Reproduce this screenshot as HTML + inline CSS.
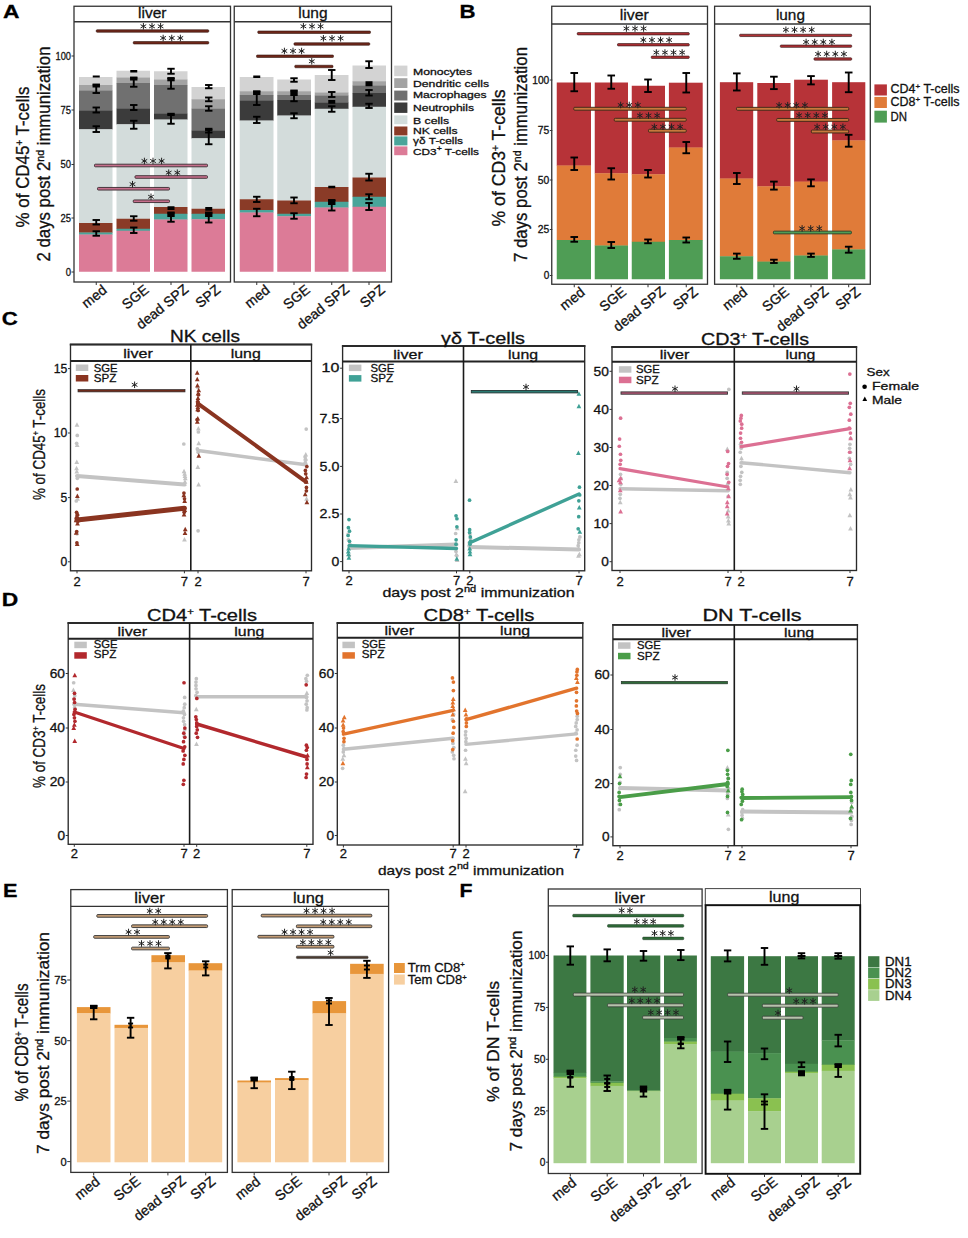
<!DOCTYPE html>
<html><head><meta charset="utf-8"><title>Figure</title>
<style>
html,body{margin:0;padding:0;background:#fff;}
body{width:968px;height:1238px;overflow:hidden;font-family:"Liberation Sans", sans-serif;}
svg{display:block;font-family:"Liberation Sans", sans-serif;}
</style></head><body>
<svg width="968" height="1238" viewBox="0 0 968 1238">
<rect x="0" y="0" width="968" height="1238" fill="#ffffff"/>
<text x="3" y="17.5" font-size="19" textLength="16.5" lengthAdjust="spacingAndGlyphs" font-weight="bold" fill="#000" stroke="#000" stroke-width="0.3">A</text>
<text x="0" y="0" font-size="17.5" text-anchor="middle" transform="translate(29 157) rotate(-90)" textLength="141" lengthAdjust="spacingAndGlyphs" fill="#111" stroke="#111" stroke-width="0.3">% of CD45<tspan dy="-6" font-size="10">+</tspan><tspan dy="6" font-size="1">&#8203;</tspan> T-cells</text>
<text x="0" y="0" font-size="17.5" text-anchor="middle" transform="translate(50 154) rotate(-90)" textLength="215" lengthAdjust="spacingAndGlyphs" fill="#111" stroke="#111" stroke-width="0.3">2 days post 2<tspan dy="-6" font-size="11">nd</tspan><tspan dy="6" font-size="1">&#8203;</tspan> immunization</text>
<rect x="74" y="6.25" width="156.5" height="275.75" fill="#fff" stroke="#333" stroke-width="1.3"/>
<line x1="74" y1="21.75" x2="230.5" y2="21.75" stroke="#333" stroke-width="1.3" stroke-linecap="butt"/>
<text x="152.25" y="18.3" font-size="15.5" text-anchor="middle" fill="#111" stroke="#111" stroke-width="0.3">liver</text>
<rect x="234.25" y="6.25" width="157.25" height="275.75" fill="#fff" stroke="#333" stroke-width="1.3"/>
<line x1="234.25" y1="21.75" x2="391.5" y2="21.75" stroke="#333" stroke-width="1.3" stroke-linecap="butt"/>
<text x="312.88" y="18.3" font-size="15.5" text-anchor="middle" fill="#111" stroke="#111" stroke-width="0.3">lung</text>
<line x1="71.5" y1="56" x2="74" y2="56" stroke="#333" stroke-width="1" stroke-linecap="butt"/>
<text x="71" y="59.96" font-size="11" text-anchor="end" textLength="15.5" lengthAdjust="spacingAndGlyphs" fill="#111" stroke="#111" stroke-width="0.3">100</text>
<line x1="71.5" y1="110" x2="74" y2="110" stroke="#333" stroke-width="1" stroke-linecap="butt"/>
<text x="71" y="113.96" font-size="11" text-anchor="end" textLength="10.5" lengthAdjust="spacingAndGlyphs" fill="#111" stroke="#111" stroke-width="0.3">75</text>
<line x1="71.5" y1="164.5" x2="74" y2="164.5" stroke="#333" stroke-width="1" stroke-linecap="butt"/>
<text x="71" y="168.46" font-size="11" text-anchor="end" textLength="10.5" lengthAdjust="spacingAndGlyphs" fill="#111" stroke="#111" stroke-width="0.3">50</text>
<line x1="71.5" y1="218" x2="74" y2="218" stroke="#333" stroke-width="1" stroke-linecap="butt"/>
<text x="71" y="221.96" font-size="11" text-anchor="end" textLength="10.5" lengthAdjust="spacingAndGlyphs" fill="#111" stroke="#111" stroke-width="0.3">25</text>
<line x1="71.5" y1="272" x2="74" y2="272" stroke="#333" stroke-width="1" stroke-linecap="butt"/>
<text x="71" y="275.96" font-size="11" text-anchor="end" textLength="5.3" lengthAdjust="spacingAndGlyphs" fill="#111" stroke="#111" stroke-width="0.3">0</text>
<rect x="79" y="77" width="33.5" height="8.3" fill="#d3d3d3"/>
<rect x="79" y="85" width="33.5" height="5.8" fill="#a3a3a3"/>
<rect x="79" y="90.5" width="33.5" height="20.55" fill="#707070"/>
<rect x="79" y="110.75" width="33.5" height="18.8" fill="#3b3b3b"/>
<rect x="79" y="129.25" width="33.5" height="94.05" fill="#d3dcdb"/>
<rect x="79" y="223" width="33.5" height="9.8" fill="#8a3b27"/>
<rect x="79" y="232.5" width="33.5" height="2.3" fill="#4aa59a"/>
<rect x="79" y="234.5" width="33.5" height="37.25" fill="#dc7b97"/>
<rect x="116.5" y="70.75" width="33.5" height="7.05" fill="#d3d3d3"/>
<rect x="116.5" y="77.5" width="33.5" height="5.8" fill="#a3a3a3"/>
<rect x="116.5" y="83" width="33.5" height="26.05" fill="#707070"/>
<rect x="116.5" y="108.75" width="33.5" height="15.8" fill="#3b3b3b"/>
<rect x="116.5" y="124.25" width="33.5" height="94.8" fill="#d3dcdb"/>
<rect x="116.5" y="218.75" width="33.5" height="10.3" fill="#8a3b27"/>
<rect x="116.5" y="228.75" width="33.5" height="2.3" fill="#4aa59a"/>
<rect x="116.5" y="230.75" width="33.5" height="41" fill="#dc7b97"/>
<rect x="154" y="71.25" width="33.5" height="8.55" fill="#d3d3d3"/>
<rect x="154" y="79.5" width="33.5" height="5.8" fill="#a3a3a3"/>
<rect x="154" y="85" width="33.5" height="29.05" fill="#707070"/>
<rect x="154" y="113.75" width="33.5" height="6.05" fill="#3b3b3b"/>
<rect x="154" y="119.5" width="33.5" height="87.8" fill="#d3dcdb"/>
<rect x="154" y="207" width="33.5" height="7.05" fill="#8a3b27"/>
<rect x="154" y="213.75" width="33.5" height="6.05" fill="#4aa59a"/>
<rect x="154" y="219.5" width="33.5" height="52.25" fill="#dc7b97"/>
<rect x="191.5" y="87" width="33.5" height="12.55" fill="#d3d3d3"/>
<rect x="191.5" y="99.25" width="33.5" height="9.8" fill="#a3a3a3"/>
<rect x="191.5" y="108.75" width="33.5" height="22.3" fill="#707070"/>
<rect x="191.5" y="130.75" width="33.5" height="7.8" fill="#3b3b3b"/>
<rect x="191.5" y="138.25" width="33.5" height="70.8" fill="#d3dcdb"/>
<rect x="191.5" y="208.75" width="33.5" height="5.3" fill="#8a3b27"/>
<rect x="191.5" y="213.75" width="33.5" height="5.8" fill="#4aa59a"/>
<rect x="191.5" y="219.25" width="33.5" height="52.5" fill="#dc7b97"/>
<rect x="239.75" y="77" width="33.75" height="14.55" fill="#d3d3d3"/>
<rect x="239.75" y="91.25" width="33.75" height="4.05" fill="#a3a3a3"/>
<rect x="239.75" y="95" width="33.75" height="6.05" fill="#707070"/>
<rect x="239.75" y="100.75" width="33.75" height="20.05" fill="#3b3b3b"/>
<rect x="239.75" y="120.5" width="33.75" height="79.05" fill="#d3dcdb"/>
<rect x="239.75" y="199.25" width="33.75" height="11.05" fill="#8a3b27"/>
<rect x="239.75" y="210" width="33.75" height="2.8" fill="#4aa59a"/>
<rect x="239.75" y="212.5" width="33.75" height="59.25" fill="#dc7b97"/>
<rect x="277.25" y="79.5" width="33.75" height="12.05" fill="#d3d3d3"/>
<rect x="277.25" y="91.25" width="33.75" height="4.05" fill="#a3a3a3"/>
<rect x="277.25" y="95" width="33.75" height="5.3" fill="#707070"/>
<rect x="277.25" y="100" width="33.75" height="15.8" fill="#3b3b3b"/>
<rect x="277.25" y="115.5" width="33.75" height="85.3" fill="#d3dcdb"/>
<rect x="277.25" y="200.5" width="33.75" height="13.55" fill="#8a3b27"/>
<rect x="277.25" y="213.75" width="33.75" height="2.8" fill="#4aa59a"/>
<rect x="277.25" y="216.25" width="33.75" height="55.5" fill="#dc7b97"/>
<rect x="314.75" y="75" width="33.75" height="17.8" fill="#d3d3d3"/>
<rect x="314.75" y="92.5" width="33.75" height="3.3" fill="#a3a3a3"/>
<rect x="314.75" y="95.5" width="33.75" height="7.3" fill="#707070"/>
<rect x="314.75" y="102.5" width="33.75" height="6.55" fill="#3b3b3b"/>
<rect x="314.75" y="108.75" width="33.75" height="78.55" fill="#d3dcdb"/>
<rect x="314.75" y="187" width="33.75" height="15.05" fill="#8a3b27"/>
<rect x="314.75" y="201.75" width="33.75" height="6.05" fill="#4aa59a"/>
<rect x="314.75" y="207.5" width="33.75" height="64.25" fill="#dc7b97"/>
<rect x="352.5" y="65.5" width="33.5" height="16.05" fill="#d3d3d3"/>
<rect x="352.5" y="81.25" width="33.5" height="4.55" fill="#a3a3a3"/>
<rect x="352.5" y="85.5" width="33.5" height="7.8" fill="#707070"/>
<rect x="352.5" y="93" width="33.5" height="14.05" fill="#3b3b3b"/>
<rect x="352.5" y="106.75" width="33.5" height="71.05" fill="#d3dcdb"/>
<rect x="352.5" y="177.5" width="33.5" height="19.55" fill="#8a3b27"/>
<rect x="352.5" y="196.75" width="33.5" height="10.3" fill="#4aa59a"/>
<rect x="352.5" y="206.75" width="33.5" height="65" fill="#dc7b97"/>
<rect x="92.75" y="75.5" width="7" height="2" fill="#000"/>
<line x1="96.25" y1="84.5" x2="96.25" y2="93" stroke="#000" stroke-width="1.9" stroke-linecap="butt"/>
<line x1="92.55" y1="84.5" x2="99.95" y2="84.5" stroke="#000" stroke-width="1.9" stroke-linecap="butt"/>
<line x1="92.55" y1="93" x2="99.95" y2="93" stroke="#000" stroke-width="1.9" stroke-linecap="butt"/>
<rect x="92.55" y="84.5" width="7.4" height="3" fill="#000"/>
<line x1="96.25" y1="107.5" x2="96.25" y2="112.5" stroke="#000" stroke-width="1.9" stroke-linecap="butt"/>
<line x1="92.55" y1="107.5" x2="99.95" y2="107.5" stroke="#000" stroke-width="1.9" stroke-linecap="butt"/>
<line x1="92.55" y1="112.5" x2="99.95" y2="112.5" stroke="#000" stroke-width="1.9" stroke-linecap="butt"/>
<line x1="96.25" y1="126.25" x2="96.25" y2="132" stroke="#000" stroke-width="1.9" stroke-linecap="butt"/>
<line x1="92.55" y1="126.25" x2="99.95" y2="126.25" stroke="#000" stroke-width="1.9" stroke-linecap="butt"/>
<line x1="92.55" y1="132" x2="99.95" y2="132" stroke="#000" stroke-width="1.9" stroke-linecap="butt"/>
<line x1="96.25" y1="220" x2="96.25" y2="224.5" stroke="#000" stroke-width="1.9" stroke-linecap="butt"/>
<line x1="92.55" y1="220" x2="99.95" y2="220" stroke="#000" stroke-width="1.9" stroke-linecap="butt"/>
<line x1="92.55" y1="224.5" x2="99.95" y2="224.5" stroke="#000" stroke-width="1.9" stroke-linecap="butt"/>
<line x1="96.25" y1="231.25" x2="96.25" y2="235.75" stroke="#000" stroke-width="1.9" stroke-linecap="butt"/>
<line x1="92.55" y1="231.25" x2="99.95" y2="231.25" stroke="#000" stroke-width="1.9" stroke-linecap="butt"/>
<line x1="92.55" y1="235.75" x2="99.95" y2="235.75" stroke="#000" stroke-width="1.9" stroke-linecap="butt"/>
<rect x="130.25" y="70" width="7" height="2.5" fill="#000"/>
<line x1="133.75" y1="77.5" x2="133.75" y2="86.75" stroke="#000" stroke-width="1.9" stroke-linecap="butt"/>
<line x1="130.05" y1="77.5" x2="137.45" y2="77.5" stroke="#000" stroke-width="1.9" stroke-linecap="butt"/>
<line x1="130.05" y1="86.75" x2="137.45" y2="86.75" stroke="#000" stroke-width="1.9" stroke-linecap="butt"/>
<rect x="130.05" y="77.5" width="7.4" height="3" fill="#000"/>
<line x1="133.75" y1="105" x2="133.75" y2="110" stroke="#000" stroke-width="1.9" stroke-linecap="butt"/>
<line x1="130.05" y1="105" x2="137.45" y2="105" stroke="#000" stroke-width="1.9" stroke-linecap="butt"/>
<line x1="130.05" y1="110" x2="137.45" y2="110" stroke="#000" stroke-width="1.9" stroke-linecap="butt"/>
<line x1="133.75" y1="120.75" x2="133.75" y2="128.75" stroke="#000" stroke-width="1.9" stroke-linecap="butt"/>
<line x1="130.05" y1="120.75" x2="137.45" y2="120.75" stroke="#000" stroke-width="1.9" stroke-linecap="butt"/>
<line x1="130.05" y1="128.75" x2="137.45" y2="128.75" stroke="#000" stroke-width="1.9" stroke-linecap="butt"/>
<line x1="133.75" y1="216.25" x2="133.75" y2="220.75" stroke="#000" stroke-width="1.9" stroke-linecap="butt"/>
<line x1="130.05" y1="216.25" x2="137.45" y2="216.25" stroke="#000" stroke-width="1.9" stroke-linecap="butt"/>
<line x1="130.05" y1="220.75" x2="137.45" y2="220.75" stroke="#000" stroke-width="1.9" stroke-linecap="butt"/>
<line x1="133.75" y1="227.5" x2="133.75" y2="233" stroke="#000" stroke-width="1.9" stroke-linecap="butt"/>
<line x1="130.05" y1="227.5" x2="137.45" y2="227.5" stroke="#000" stroke-width="1.9" stroke-linecap="butt"/>
<line x1="130.05" y1="233" x2="137.45" y2="233" stroke="#000" stroke-width="1.9" stroke-linecap="butt"/>
<line x1="171" y1="68.75" x2="171" y2="73.75" stroke="#000" stroke-width="1.9" stroke-linecap="butt"/>
<line x1="167.3" y1="68.75" x2="174.7" y2="68.75" stroke="#000" stroke-width="1.9" stroke-linecap="butt"/>
<line x1="167.3" y1="73.75" x2="174.7" y2="73.75" stroke="#000" stroke-width="1.9" stroke-linecap="butt"/>
<line x1="171" y1="78" x2="171" y2="88.75" stroke="#000" stroke-width="1.9" stroke-linecap="butt"/>
<line x1="167.3" y1="78" x2="174.7" y2="78" stroke="#000" stroke-width="1.9" stroke-linecap="butt"/>
<line x1="167.3" y1="88.75" x2="174.7" y2="88.75" stroke="#000" stroke-width="1.9" stroke-linecap="butt"/>
<rect x="167.3" y="78" width="7.4" height="3.3" fill="#000"/>
<line x1="171" y1="113.75" x2="171" y2="123.75" stroke="#000" stroke-width="1.9" stroke-linecap="butt"/>
<line x1="167.3" y1="113.75" x2="174.7" y2="113.75" stroke="#000" stroke-width="1.9" stroke-linecap="butt"/>
<line x1="167.3" y1="123.75" x2="174.7" y2="123.75" stroke="#000" stroke-width="1.9" stroke-linecap="butt"/>
<rect x="167.3" y="113.75" width="7.4" height="2.25" fill="#000"/>
<rect x="167.5" y="206.25" width="7" height="3.75" fill="#000"/>
<line x1="171" y1="212.5" x2="171" y2="221.75" stroke="#000" stroke-width="1.9" stroke-linecap="butt"/>
<line x1="167.3" y1="212.5" x2="174.7" y2="212.5" stroke="#000" stroke-width="1.9" stroke-linecap="butt"/>
<line x1="167.3" y1="221.75" x2="174.7" y2="221.75" stroke="#000" stroke-width="1.9" stroke-linecap="butt"/>
<rect x="167.3" y="212.5" width="7.4" height="4.5" fill="#000"/>
<line x1="208.75" y1="85" x2="208.75" y2="88.25" stroke="#000" stroke-width="1.9" stroke-linecap="butt"/>
<line x1="205.05" y1="85" x2="212.45" y2="85" stroke="#000" stroke-width="1.9" stroke-linecap="butt"/>
<line x1="205.05" y1="88.25" x2="212.45" y2="88.25" stroke="#000" stroke-width="1.9" stroke-linecap="butt"/>
<line x1="208.75" y1="97.5" x2="208.75" y2="101.25" stroke="#000" stroke-width="1.9" stroke-linecap="butt"/>
<line x1="205.05" y1="97.5" x2="212.45" y2="97.5" stroke="#000" stroke-width="1.9" stroke-linecap="butt"/>
<line x1="205.05" y1="101.25" x2="212.45" y2="101.25" stroke="#000" stroke-width="1.9" stroke-linecap="butt"/>
<line x1="208.75" y1="106.25" x2="208.75" y2="110.75" stroke="#000" stroke-width="1.9" stroke-linecap="butt"/>
<line x1="205.05" y1="106.25" x2="212.45" y2="106.25" stroke="#000" stroke-width="1.9" stroke-linecap="butt"/>
<line x1="205.05" y1="110.75" x2="212.45" y2="110.75" stroke="#000" stroke-width="1.9" stroke-linecap="butt"/>
<line x1="208.75" y1="128.75" x2="208.75" y2="132.5" stroke="#000" stroke-width="1.9" stroke-linecap="butt"/>
<line x1="205.05" y1="128.75" x2="212.45" y2="128.75" stroke="#000" stroke-width="1.9" stroke-linecap="butt"/>
<line x1="205.05" y1="132.5" x2="212.45" y2="132.5" stroke="#000" stroke-width="1.9" stroke-linecap="butt"/>
<line x1="208.75" y1="130" x2="208.75" y2="144.25" stroke="#000" stroke-width="1.9" stroke-linecap="butt"/>
<line x1="205.05" y1="130" x2="212.45" y2="130" stroke="#000" stroke-width="1.9" stroke-linecap="butt"/>
<line x1="205.05" y1="144.25" x2="212.45" y2="144.25" stroke="#000" stroke-width="1.9" stroke-linecap="butt"/>
<rect x="205.25" y="207" width="7" height="3.75" fill="#000"/>
<line x1="208.75" y1="212.5" x2="208.75" y2="222.5" stroke="#000" stroke-width="1.9" stroke-linecap="butt"/>
<line x1="205.05" y1="212.5" x2="212.45" y2="212.5" stroke="#000" stroke-width="1.9" stroke-linecap="butt"/>
<line x1="205.05" y1="222.5" x2="212.45" y2="222.5" stroke="#000" stroke-width="1.9" stroke-linecap="butt"/>
<rect x="205.05" y="212.5" width="7.4" height="4.5" fill="#000"/>
<rect x="253.25" y="75.5" width="7" height="2.5" fill="#000"/>
<line x1="256.75" y1="91.25" x2="256.75" y2="105" stroke="#000" stroke-width="1.9" stroke-linecap="butt"/>
<line x1="253.05" y1="91.25" x2="260.45" y2="91.25" stroke="#000" stroke-width="1.9" stroke-linecap="butt"/>
<line x1="253.05" y1="105" x2="260.45" y2="105" stroke="#000" stroke-width="1.9" stroke-linecap="butt"/>
<rect x="253.05" y="91.25" width="7.4" height="3.75" fill="#000"/>
<line x1="256.75" y1="116.75" x2="256.75" y2="123" stroke="#000" stroke-width="1.9" stroke-linecap="butt"/>
<line x1="253.05" y1="116.75" x2="260.45" y2="116.75" stroke="#000" stroke-width="1.9" stroke-linecap="butt"/>
<line x1="253.05" y1="123" x2="260.45" y2="123" stroke="#000" stroke-width="1.9" stroke-linecap="butt"/>
<line x1="256.75" y1="196.75" x2="256.75" y2="202" stroke="#000" stroke-width="1.9" stroke-linecap="butt"/>
<line x1="253.05" y1="196.75" x2="260.45" y2="196.75" stroke="#000" stroke-width="1.9" stroke-linecap="butt"/>
<line x1="253.05" y1="202" x2="260.45" y2="202" stroke="#000" stroke-width="1.9" stroke-linecap="butt"/>
<line x1="256.75" y1="208.75" x2="256.75" y2="216.25" stroke="#000" stroke-width="1.9" stroke-linecap="butt"/>
<line x1="253.05" y1="208.75" x2="260.45" y2="208.75" stroke="#000" stroke-width="1.9" stroke-linecap="butt"/>
<line x1="253.05" y1="216.25" x2="260.45" y2="216.25" stroke="#000" stroke-width="1.9" stroke-linecap="butt"/>
<line x1="294" y1="78.25" x2="294" y2="81.75" stroke="#000" stroke-width="1.9" stroke-linecap="butt"/>
<line x1="290.3" y1="78.25" x2="297.7" y2="78.25" stroke="#000" stroke-width="1.9" stroke-linecap="butt"/>
<line x1="290.3" y1="81.75" x2="297.7" y2="81.75" stroke="#000" stroke-width="1.9" stroke-linecap="butt"/>
<line x1="294" y1="90.5" x2="294" y2="101.25" stroke="#000" stroke-width="1.9" stroke-linecap="butt"/>
<line x1="290.3" y1="90.5" x2="297.7" y2="90.5" stroke="#000" stroke-width="1.9" stroke-linecap="butt"/>
<line x1="290.3" y1="101.25" x2="297.7" y2="101.25" stroke="#000" stroke-width="1.9" stroke-linecap="butt"/>
<rect x="290.3" y="90.5" width="7.4" height="5.5" fill="#000"/>
<line x1="294" y1="113.25" x2="294" y2="118.25" stroke="#000" stroke-width="1.9" stroke-linecap="butt"/>
<line x1="290.3" y1="113.25" x2="297.7" y2="113.25" stroke="#000" stroke-width="1.9" stroke-linecap="butt"/>
<line x1="290.3" y1="118.25" x2="297.7" y2="118.25" stroke="#000" stroke-width="1.9" stroke-linecap="butt"/>
<line x1="294" y1="197.5" x2="294" y2="203.25" stroke="#000" stroke-width="1.9" stroke-linecap="butt"/>
<line x1="290.3" y1="197.5" x2="297.7" y2="197.5" stroke="#000" stroke-width="1.9" stroke-linecap="butt"/>
<line x1="290.3" y1="203.25" x2="297.7" y2="203.25" stroke="#000" stroke-width="1.9" stroke-linecap="butt"/>
<line x1="294" y1="213.25" x2="294" y2="218.75" stroke="#000" stroke-width="1.9" stroke-linecap="butt"/>
<line x1="290.3" y1="213.25" x2="297.7" y2="213.25" stroke="#000" stroke-width="1.9" stroke-linecap="butt"/>
<line x1="290.3" y1="218.75" x2="297.7" y2="218.75" stroke="#000" stroke-width="1.9" stroke-linecap="butt"/>
<line x1="331.75" y1="70" x2="331.75" y2="80" stroke="#000" stroke-width="1.9" stroke-linecap="butt"/>
<line x1="328.05" y1="70" x2="335.45" y2="70" stroke="#000" stroke-width="1.9" stroke-linecap="butt"/>
<line x1="328.05" y1="80" x2="335.45" y2="80" stroke="#000" stroke-width="1.9" stroke-linecap="butt"/>
<line x1="331.75" y1="92" x2="331.75" y2="97" stroke="#000" stroke-width="1.9" stroke-linecap="butt"/>
<line x1="328.05" y1="92" x2="335.45" y2="92" stroke="#000" stroke-width="1.9" stroke-linecap="butt"/>
<line x1="328.05" y1="97" x2="335.45" y2="97" stroke="#000" stroke-width="1.9" stroke-linecap="butt"/>
<rect x="328.25" y="100" width="7" height="3.75" fill="#000"/>
<line x1="331.75" y1="106.25" x2="331.75" y2="111.75" stroke="#000" stroke-width="1.9" stroke-linecap="butt"/>
<line x1="328.05" y1="106.25" x2="335.45" y2="106.25" stroke="#000" stroke-width="1.9" stroke-linecap="butt"/>
<line x1="328.05" y1="111.75" x2="335.45" y2="111.75" stroke="#000" stroke-width="1.9" stroke-linecap="butt"/>
<rect x="328.25" y="185.75" width="7" height="2.5" fill="#000"/>
<line x1="331.75" y1="200" x2="331.75" y2="210.5" stroke="#000" stroke-width="1.9" stroke-linecap="butt"/>
<line x1="328.05" y1="200" x2="335.45" y2="200" stroke="#000" stroke-width="1.9" stroke-linecap="butt"/>
<line x1="328.05" y1="210.5" x2="335.45" y2="210.5" stroke="#000" stroke-width="1.9" stroke-linecap="butt"/>
<rect x="328.05" y="200" width="7.4" height="5" fill="#000"/>
<line x1="369" y1="61.25" x2="369" y2="68" stroke="#000" stroke-width="1.9" stroke-linecap="butt"/>
<line x1="365.3" y1="61.25" x2="372.7" y2="61.25" stroke="#000" stroke-width="1.9" stroke-linecap="butt"/>
<line x1="365.3" y1="68" x2="372.7" y2="68" stroke="#000" stroke-width="1.9" stroke-linecap="butt"/>
<rect x="365.5" y="81.25" width="7" height="5" fill="#000"/>
<line x1="369" y1="90" x2="369" y2="95.5" stroke="#000" stroke-width="1.9" stroke-linecap="butt"/>
<line x1="365.3" y1="90" x2="372.7" y2="90" stroke="#000" stroke-width="1.9" stroke-linecap="butt"/>
<line x1="365.3" y1="95.5" x2="372.7" y2="95.5" stroke="#000" stroke-width="1.9" stroke-linecap="butt"/>
<line x1="369" y1="103.75" x2="369" y2="108" stroke="#000" stroke-width="1.9" stroke-linecap="butt"/>
<line x1="365.3" y1="103.75" x2="372.7" y2="103.75" stroke="#000" stroke-width="1.9" stroke-linecap="butt"/>
<line x1="365.3" y1="108" x2="372.7" y2="108" stroke="#000" stroke-width="1.9" stroke-linecap="butt"/>
<line x1="369" y1="173.75" x2="369" y2="180.5" stroke="#000" stroke-width="1.9" stroke-linecap="butt"/>
<line x1="365.3" y1="173.75" x2="372.7" y2="173.75" stroke="#000" stroke-width="1.9" stroke-linecap="butt"/>
<line x1="365.3" y1="180.5" x2="372.7" y2="180.5" stroke="#000" stroke-width="1.9" stroke-linecap="butt"/>
<line x1="369" y1="194.25" x2="369" y2="199.25" stroke="#000" stroke-width="1.9" stroke-linecap="butt"/>
<line x1="365.3" y1="194.25" x2="372.7" y2="194.25" stroke="#000" stroke-width="1.9" stroke-linecap="butt"/>
<line x1="365.3" y1="199.25" x2="372.7" y2="199.25" stroke="#000" stroke-width="1.9" stroke-linecap="butt"/>
<line x1="369" y1="203" x2="369" y2="210" stroke="#000" stroke-width="1.9" stroke-linecap="butt"/>
<line x1="365.3" y1="203" x2="372.7" y2="203" stroke="#000" stroke-width="1.9" stroke-linecap="butt"/>
<line x1="365.3" y1="210" x2="372.7" y2="210" stroke="#000" stroke-width="1.9" stroke-linecap="butt"/>
<rect x="96.25" y="29.75" width="112.5" height="2.5" fill="#6e2619" stroke="#33150f" stroke-width="0.6" rx="0.83"/>
<line x1="143.4" y1="23.03" x2="143.4" y2="29.57" stroke="#222" stroke-width="1" stroke-linecap="butt"/>
<line x1="140.57" y1="24.66" x2="146.23" y2="27.94" stroke="#222" stroke-width="1" stroke-linecap="butt"/>
<line x1="146.23" y1="24.66" x2="140.57" y2="27.94" stroke="#222" stroke-width="1" stroke-linecap="butt"/>
<line x1="152" y1="23.03" x2="152" y2="29.57" stroke="#222" stroke-width="1" stroke-linecap="butt"/>
<line x1="149.17" y1="24.66" x2="154.83" y2="27.94" stroke="#222" stroke-width="1" stroke-linecap="butt"/>
<line x1="154.83" y1="24.66" x2="149.17" y2="27.94" stroke="#222" stroke-width="1" stroke-linecap="butt"/>
<line x1="160.6" y1="23.03" x2="160.6" y2="29.57" stroke="#222" stroke-width="1" stroke-linecap="butt"/>
<line x1="157.77" y1="24.66" x2="163.43" y2="27.94" stroke="#222" stroke-width="1" stroke-linecap="butt"/>
<line x1="163.43" y1="24.66" x2="157.77" y2="27.94" stroke="#222" stroke-width="1" stroke-linecap="butt"/>
<rect x="133.25" y="41.5" width="75.5" height="2.5" fill="#6e2619" stroke="#33150f" stroke-width="0.6" rx="0.83"/>
<line x1="163.15" y1="34.73" x2="163.15" y2="41.27" stroke="#222" stroke-width="1" stroke-linecap="butt"/>
<line x1="160.32" y1="36.36" x2="165.98" y2="39.64" stroke="#222" stroke-width="1" stroke-linecap="butt"/>
<line x1="165.98" y1="36.36" x2="160.32" y2="39.64" stroke="#222" stroke-width="1" stroke-linecap="butt"/>
<line x1="171.75" y1="34.73" x2="171.75" y2="41.27" stroke="#222" stroke-width="1" stroke-linecap="butt"/>
<line x1="168.92" y1="36.36" x2="174.58" y2="39.64" stroke="#222" stroke-width="1" stroke-linecap="butt"/>
<line x1="174.58" y1="36.36" x2="168.92" y2="39.64" stroke="#222" stroke-width="1" stroke-linecap="butt"/>
<line x1="180.35" y1="34.73" x2="180.35" y2="41.27" stroke="#222" stroke-width="1" stroke-linecap="butt"/>
<line x1="177.52" y1="36.36" x2="183.18" y2="39.64" stroke="#222" stroke-width="1" stroke-linecap="butt"/>
<line x1="183.18" y1="36.36" x2="177.52" y2="39.64" stroke="#222" stroke-width="1" stroke-linecap="butt"/>
<rect x="94.5" y="164.2" width="113" height="2.6" fill="#c66f8c" stroke="#3a2a30" stroke-width="0.9" rx="0.87"/>
<line x1="144.4" y1="157.73" x2="144.4" y2="164.27" stroke="#222" stroke-width="1" stroke-linecap="butt"/>
<line x1="141.57" y1="159.36" x2="147.23" y2="162.64" stroke="#222" stroke-width="1" stroke-linecap="butt"/>
<line x1="147.23" y1="159.36" x2="141.57" y2="162.64" stroke="#222" stroke-width="1" stroke-linecap="butt"/>
<line x1="153" y1="157.73" x2="153" y2="164.27" stroke="#222" stroke-width="1" stroke-linecap="butt"/>
<line x1="150.17" y1="159.36" x2="155.83" y2="162.64" stroke="#222" stroke-width="1" stroke-linecap="butt"/>
<line x1="155.83" y1="159.36" x2="150.17" y2="162.64" stroke="#222" stroke-width="1" stroke-linecap="butt"/>
<line x1="161.6" y1="157.73" x2="161.6" y2="164.27" stroke="#222" stroke-width="1" stroke-linecap="butt"/>
<line x1="158.77" y1="159.36" x2="164.43" y2="162.64" stroke="#222" stroke-width="1" stroke-linecap="butt"/>
<line x1="164.43" y1="159.36" x2="158.77" y2="162.64" stroke="#222" stroke-width="1" stroke-linecap="butt"/>
<rect x="135" y="175.7" width="72.5" height="2.6" fill="#c66f8c" stroke="#3a2a30" stroke-width="0.9" rx="0.87"/>
<line x1="168.7" y1="169.43" x2="168.7" y2="175.97" stroke="#222" stroke-width="1" stroke-linecap="butt"/>
<line x1="165.87" y1="171.06" x2="171.53" y2="174.34" stroke="#222" stroke-width="1" stroke-linecap="butt"/>
<line x1="171.53" y1="171.06" x2="165.87" y2="174.34" stroke="#222" stroke-width="1" stroke-linecap="butt"/>
<line x1="177.3" y1="169.43" x2="177.3" y2="175.97" stroke="#222" stroke-width="1" stroke-linecap="butt"/>
<line x1="174.47" y1="171.06" x2="180.13" y2="174.34" stroke="#222" stroke-width="1" stroke-linecap="butt"/>
<line x1="180.13" y1="171.06" x2="174.47" y2="174.34" stroke="#222" stroke-width="1" stroke-linecap="butt"/>
<rect x="97.5" y="187.45" width="72" height="2.6" fill="#c66f8c" stroke="#3a2a30" stroke-width="0.9" rx="0.87"/>
<line x1="132.5" y1="180.93" x2="132.5" y2="187.47" stroke="#222" stroke-width="1" stroke-linecap="butt"/>
<line x1="129.67" y1="182.56" x2="135.33" y2="185.84" stroke="#222" stroke-width="1" stroke-linecap="butt"/>
<line x1="135.33" y1="182.56" x2="129.67" y2="185.84" stroke="#222" stroke-width="1" stroke-linecap="butt"/>
<rect x="133.25" y="199.95" width="36.25" height="2.6" fill="#c66f8c" stroke="#3a2a30" stroke-width="0.9" rx="0.87"/>
<line x1="151" y1="193.53" x2="151" y2="200.07" stroke="#222" stroke-width="1" stroke-linecap="butt"/>
<line x1="148.17" y1="195.16" x2="153.83" y2="198.44" stroke="#222" stroke-width="1" stroke-linecap="butt"/>
<line x1="153.83" y1="195.16" x2="148.17" y2="198.44" stroke="#222" stroke-width="1" stroke-linecap="butt"/>
<rect x="257.75" y="31" width="112.75" height="2.5" fill="#6e2619" stroke="#33150f" stroke-width="0.6" rx="0.83"/>
<line x1="303.4" y1="23.03" x2="303.4" y2="29.57" stroke="#222" stroke-width="1" stroke-linecap="butt"/>
<line x1="300.57" y1="24.66" x2="306.23" y2="27.94" stroke="#222" stroke-width="1" stroke-linecap="butt"/>
<line x1="306.23" y1="24.66" x2="300.57" y2="27.94" stroke="#222" stroke-width="1" stroke-linecap="butt"/>
<line x1="312" y1="23.03" x2="312" y2="29.57" stroke="#222" stroke-width="1" stroke-linecap="butt"/>
<line x1="309.17" y1="24.66" x2="314.83" y2="27.94" stroke="#222" stroke-width="1" stroke-linecap="butt"/>
<line x1="314.83" y1="24.66" x2="309.17" y2="27.94" stroke="#222" stroke-width="1" stroke-linecap="butt"/>
<line x1="320.6" y1="23.03" x2="320.6" y2="29.57" stroke="#222" stroke-width="1" stroke-linecap="butt"/>
<line x1="317.77" y1="24.66" x2="323.43" y2="27.94" stroke="#222" stroke-width="1" stroke-linecap="butt"/>
<line x1="323.43" y1="24.66" x2="317.77" y2="27.94" stroke="#222" stroke-width="1" stroke-linecap="butt"/>
<rect x="294" y="42.75" width="75.75" height="2.5" fill="#6e2619" stroke="#33150f" stroke-width="0.6" rx="0.83"/>
<line x1="323.4" y1="35.03" x2="323.4" y2="41.57" stroke="#222" stroke-width="1" stroke-linecap="butt"/>
<line x1="320.57" y1="36.66" x2="326.23" y2="39.94" stroke="#222" stroke-width="1" stroke-linecap="butt"/>
<line x1="326.23" y1="36.66" x2="320.57" y2="39.94" stroke="#222" stroke-width="1" stroke-linecap="butt"/>
<line x1="332" y1="35.03" x2="332" y2="41.57" stroke="#222" stroke-width="1" stroke-linecap="butt"/>
<line x1="329.17" y1="36.66" x2="334.83" y2="39.94" stroke="#222" stroke-width="1" stroke-linecap="butt"/>
<line x1="334.83" y1="36.66" x2="329.17" y2="39.94" stroke="#222" stroke-width="1" stroke-linecap="butt"/>
<line x1="340.6" y1="35.03" x2="340.6" y2="41.57" stroke="#222" stroke-width="1" stroke-linecap="butt"/>
<line x1="337.77" y1="36.66" x2="343.43" y2="39.94" stroke="#222" stroke-width="1" stroke-linecap="butt"/>
<line x1="343.43" y1="36.66" x2="337.77" y2="39.94" stroke="#222" stroke-width="1" stroke-linecap="butt"/>
<rect x="256.5" y="55" width="77" height="2.5" fill="#6e2619" stroke="#33150f" stroke-width="0.6" rx="0.83"/>
<line x1="284.4" y1="47.73" x2="284.4" y2="54.27" stroke="#222" stroke-width="1" stroke-linecap="butt"/>
<line x1="281.57" y1="49.36" x2="287.23" y2="52.64" stroke="#222" stroke-width="1" stroke-linecap="butt"/>
<line x1="287.23" y1="49.36" x2="281.57" y2="52.64" stroke="#222" stroke-width="1" stroke-linecap="butt"/>
<line x1="293" y1="47.73" x2="293" y2="54.27" stroke="#222" stroke-width="1" stroke-linecap="butt"/>
<line x1="290.17" y1="49.36" x2="295.83" y2="52.64" stroke="#222" stroke-width="1" stroke-linecap="butt"/>
<line x1="295.83" y1="49.36" x2="290.17" y2="52.64" stroke="#222" stroke-width="1" stroke-linecap="butt"/>
<line x1="301.6" y1="47.73" x2="301.6" y2="54.27" stroke="#222" stroke-width="1" stroke-linecap="butt"/>
<line x1="298.77" y1="49.36" x2="304.43" y2="52.64" stroke="#222" stroke-width="1" stroke-linecap="butt"/>
<line x1="304.43" y1="49.36" x2="298.77" y2="52.64" stroke="#222" stroke-width="1" stroke-linecap="butt"/>
<rect x="294.75" y="65.25" width="38.25" height="2.5" fill="#6e2619" stroke="#33150f" stroke-width="0.6" rx="0.83"/>
<line x1="311.75" y1="58.03" x2="311.75" y2="64.57" stroke="#222" stroke-width="1" stroke-linecap="butt"/>
<line x1="308.92" y1="59.66" x2="314.58" y2="62.94" stroke="#222" stroke-width="1" stroke-linecap="butt"/>
<line x1="314.58" y1="59.66" x2="308.92" y2="62.94" stroke="#222" stroke-width="1" stroke-linecap="butt"/>
<line x1="96.25" y1="282" x2="96.25" y2="285" stroke="#333" stroke-width="1" stroke-linecap="butt"/>
<text x="0" y="0" font-size="14" text-anchor="end" transform="translate(107.75 291.7) rotate(-39)" fill="#111" stroke="#111" stroke-width="0.3">med</text>
<line x1="133.75" y1="282" x2="133.75" y2="285" stroke="#333" stroke-width="1" stroke-linecap="butt"/>
<text x="0" y="0" font-size="14" text-anchor="end" transform="translate(149.75 291.3) rotate(-39)" fill="#111" stroke="#111" stroke-width="0.3">SGE</text>
<line x1="171" y1="282" x2="171" y2="285" stroke="#333" stroke-width="1" stroke-linecap="butt"/>
<text x="0" y="0" font-size="14" text-anchor="end" transform="translate(189.5 290.8) rotate(-39)" fill="#111" stroke="#111" stroke-width="0.3">dead SPZ</text>
<line x1="208.75" y1="282" x2="208.75" y2="285" stroke="#333" stroke-width="1" stroke-linecap="butt"/>
<text x="0" y="0" font-size="14" text-anchor="end" transform="translate(221.35 291.4) rotate(-39)" fill="#111" stroke="#111" stroke-width="0.3">SPZ</text>
<line x1="256.75" y1="282" x2="256.75" y2="285" stroke="#333" stroke-width="1" stroke-linecap="butt"/>
<text x="0" y="0" font-size="14" text-anchor="end" transform="translate(270.75 291.7) rotate(-39)" fill="#111" stroke="#111" stroke-width="0.3">med</text>
<line x1="294" y1="282" x2="294" y2="285" stroke="#333" stroke-width="1" stroke-linecap="butt"/>
<text x="0" y="0" font-size="14" text-anchor="end" transform="translate(311 291.3) rotate(-39)" fill="#111" stroke="#111" stroke-width="0.3">SGE</text>
<line x1="331.75" y1="282" x2="331.75" y2="285" stroke="#333" stroke-width="1" stroke-linecap="butt"/>
<text x="0" y="0" font-size="14" text-anchor="end" transform="translate(350.25 290.8) rotate(-39)" fill="#111" stroke="#111" stroke-width="0.3">dead SPZ</text>
<line x1="369" y1="282" x2="369" y2="285" stroke="#333" stroke-width="1" stroke-linecap="butt"/>
<text x="0" y="0" font-size="14" text-anchor="end" transform="translate(386 291.4) rotate(-39)" fill="#111" stroke="#111" stroke-width="0.3">SPZ</text>
<rect x="394.2" y="65.6" width="13.2" height="10.6" fill="#d3d3d3"/>
<text x="413" y="74.6" font-size="9.5" textLength="59" lengthAdjust="spacingAndGlyphs" fill="#111" stroke="#111" stroke-width="0.3">Monocytes</text>
<rect x="394.2" y="78.2" width="13.2" height="9.8" fill="#a3a3a3"/>
<text x="413" y="86.5" font-size="9.5" textLength="76" lengthAdjust="spacingAndGlyphs" fill="#111" stroke="#111" stroke-width="0.3">Dendritic cells</text>
<rect x="394.2" y="90.6" width="13.2" height="9.9" fill="#707070"/>
<text x="413" y="98.4" font-size="9.5" textLength="73.5" lengthAdjust="spacingAndGlyphs" fill="#111" stroke="#111" stroke-width="0.3">Macrophages</text>
<rect x="394.2" y="102.5" width="13.2" height="10.4" fill="#3b3b3b"/>
<text x="413" y="111.3" font-size="9.5" textLength="61" lengthAdjust="spacingAndGlyphs" fill="#111" stroke="#111" stroke-width="0.3">Neutrophils</text>
<rect x="394.2" y="115.4" width="13.2" height="8.8" fill="#d3dcdb"/>
<text x="413" y="123.7" font-size="9.5" textLength="36" lengthAdjust="spacingAndGlyphs" fill="#111" stroke="#111" stroke-width="0.3">B cells</text>
<rect x="394.2" y="126.5" width="13.2" height="8.9" fill="#8a3b27"/>
<text x="413" y="134" font-size="9.5" textLength="44.5" lengthAdjust="spacingAndGlyphs" fill="#111" stroke="#111" stroke-width="0.3">NK cells</text>
<rect x="394.2" y="136.4" width="13.2" height="9" fill="#4aa59a"/>
<text x="413" y="143.8" font-size="9.5" textLength="50" lengthAdjust="spacingAndGlyphs" fill="#111" stroke="#111" stroke-width="0.3">&#947;&#948; T-cells</text>
<rect x="394.2" y="146.4" width="13.2" height="8.8" fill="#dc7b97"/>
<text x="413" y="155.2" font-size="9.5" textLength="66" lengthAdjust="spacingAndGlyphs" fill="#111" stroke="#111" stroke-width="0.3">CD3<tspan dy="-4" font-size="7">+</tspan><tspan dy="4" font-size="1">&#8203;</tspan> T-cells</text>
<text x="459.5" y="17.5" font-size="19" textLength="16" lengthAdjust="spacingAndGlyphs" font-weight="bold" fill="#000" stroke="#000" stroke-width="0.3">B</text>
<text x="0" y="0" font-size="17.5" text-anchor="middle" transform="translate(505 158) rotate(-90)" textLength="137" lengthAdjust="spacingAndGlyphs" fill="#111" stroke="#111" stroke-width="0.3">% of CD3<tspan dy="-6" font-size="10">+</tspan><tspan dy="6" font-size="1">&#8203;</tspan> T-cells</text>
<text x="0" y="0" font-size="17.5" text-anchor="middle" transform="translate(527.3 154.5) rotate(-90)" textLength="215" lengthAdjust="spacingAndGlyphs" fill="#111" stroke="#111" stroke-width="0.3">7 days post 2<tspan dy="-6" font-size="11">nd</tspan><tspan dy="6" font-size="1">&#8203;</tspan> immunization</text>
<rect x="551.75" y="6.25" width="155.75" height="278" fill="#fff" stroke="#333" stroke-width="1.3"/>
<line x1="551.75" y1="24" x2="707.5" y2="24" stroke="#333" stroke-width="1.3" stroke-linecap="butt"/>
<text x="634.23" y="19.5" font-size="15.5" text-anchor="middle" textLength="29" lengthAdjust="spacingAndGlyphs" fill="#111" stroke="#111" stroke-width="0.3">liver</text>
<rect x="714.6" y="6.25" width="155.7" height="278" fill="#fff" stroke="#333" stroke-width="1.3"/>
<line x1="714.6" y1="24" x2="870.3" y2="24" stroke="#333" stroke-width="1.3" stroke-linecap="butt"/>
<text x="790.45" y="19.5" font-size="15.5" text-anchor="middle" textLength="29" lengthAdjust="spacingAndGlyphs" fill="#111" stroke="#111" stroke-width="0.3">lung</text>
<line x1="549.8" y1="80" x2="552.3" y2="80" stroke="#333" stroke-width="1" stroke-linecap="butt"/>
<text x="549.3" y="83.78" font-size="10.5" text-anchor="end" textLength="17" lengthAdjust="spacingAndGlyphs" fill="#111" stroke="#111" stroke-width="0.3">100</text>
<line x1="549.8" y1="130.5" x2="552.3" y2="130.5" stroke="#333" stroke-width="1" stroke-linecap="butt"/>
<text x="549.3" y="134.28" font-size="10.5" text-anchor="end" textLength="11.5" lengthAdjust="spacingAndGlyphs" fill="#111" stroke="#111" stroke-width="0.3">75</text>
<line x1="549.8" y1="180" x2="552.3" y2="180" stroke="#333" stroke-width="1" stroke-linecap="butt"/>
<text x="549.3" y="183.78" font-size="10.5" text-anchor="end" textLength="11.5" lengthAdjust="spacingAndGlyphs" fill="#111" stroke="#111" stroke-width="0.3">50</text>
<line x1="549.8" y1="229.5" x2="552.3" y2="229.5" stroke="#333" stroke-width="1" stroke-linecap="butt"/>
<text x="549.3" y="233.28" font-size="10.5" text-anchor="end" textLength="11.5" lengthAdjust="spacingAndGlyphs" fill="#111" stroke="#111" stroke-width="0.3">25</text>
<line x1="549.8" y1="275.5" x2="552.3" y2="275.5" stroke="#333" stroke-width="1" stroke-linecap="butt"/>
<text x="549.3" y="279.28" font-size="10.5" text-anchor="end" textLength="5.6" lengthAdjust="spacingAndGlyphs" fill="#111" stroke="#111" stroke-width="0.3">0</text>
<rect x="556.75" y="82.5" width="34.25" height="83.3" fill="#b73338"/>
<rect x="556.75" y="165.5" width="34.25" height="74.8" fill="#e07b39"/>
<rect x="556.75" y="240" width="34.25" height="39.25" fill="#4f9d55"/>
<rect x="594.75" y="82.5" width="33.25" height="91.05" fill="#b73338"/>
<rect x="594.75" y="173.25" width="33.25" height="72.55" fill="#e07b39"/>
<rect x="594.75" y="245.5" width="33.25" height="33.75" fill="#4f9d55"/>
<rect x="631.75" y="85.75" width="33.25" height="88.8" fill="#b73338"/>
<rect x="631.75" y="174.25" width="33.25" height="67.8" fill="#e07b39"/>
<rect x="631.75" y="241.75" width="33.25" height="37.5" fill="#4f9d55"/>
<rect x="668.9" y="82.7" width="33.8" height="65.1" fill="#b73338"/>
<rect x="668.9" y="147.5" width="33.8" height="92.8" fill="#e07b39"/>
<rect x="668.9" y="240" width="33.8" height="39.25" fill="#4f9d55"/>
<rect x="719.9" y="82.2" width="33.3" height="96.6" fill="#b73338"/>
<rect x="719.9" y="178.5" width="33.3" height="78.1" fill="#e07b39"/>
<rect x="719.9" y="256.3" width="33.3" height="22.95" fill="#4f9d55"/>
<rect x="757.3" y="83" width="33.2" height="103.6" fill="#b73338"/>
<rect x="757.3" y="186.3" width="33.2" height="75.6" fill="#e07b39"/>
<rect x="757.3" y="261.6" width="33.2" height="17.65" fill="#4f9d55"/>
<rect x="794.1" y="79.7" width="33.8" height="102.2" fill="#b73338"/>
<rect x="794.1" y="181.6" width="33.8" height="74.2" fill="#e07b39"/>
<rect x="794.1" y="255.5" width="33.8" height="23.75" fill="#4f9d55"/>
<rect x="832.1" y="82.2" width="33.2" height="58.5" fill="#b73338"/>
<rect x="832.1" y="140.4" width="33.2" height="109.3" fill="#e07b39"/>
<rect x="832.1" y="249.4" width="33.2" height="29.85" fill="#4f9d55"/>
<line x1="574.25" y1="73" x2="574.25" y2="91.25" stroke="#000" stroke-width="1.9" stroke-linecap="butt"/>
<line x1="570.45" y1="73" x2="578.05" y2="73" stroke="#000" stroke-width="1.9" stroke-linecap="butt"/>
<line x1="570.45" y1="91.25" x2="578.05" y2="91.25" stroke="#000" stroke-width="1.9" stroke-linecap="butt"/>
<line x1="574.25" y1="157.5" x2="574.25" y2="170" stroke="#000" stroke-width="1.9" stroke-linecap="butt"/>
<line x1="570.45" y1="157.5" x2="578.05" y2="157.5" stroke="#000" stroke-width="1.9" stroke-linecap="butt"/>
<line x1="570.45" y1="170" x2="578.05" y2="170" stroke="#000" stroke-width="1.9" stroke-linecap="butt"/>
<line x1="574.25" y1="237" x2="574.25" y2="241.75" stroke="#000" stroke-width="1.9" stroke-linecap="butt"/>
<line x1="570.45" y1="237" x2="578.05" y2="237" stroke="#000" stroke-width="1.9" stroke-linecap="butt"/>
<line x1="570.45" y1="241.75" x2="578.05" y2="241.75" stroke="#000" stroke-width="1.9" stroke-linecap="butt"/>
<line x1="611.25" y1="75.5" x2="611.25" y2="88.75" stroke="#000" stroke-width="1.9" stroke-linecap="butt"/>
<line x1="607.45" y1="75.5" x2="615.05" y2="75.5" stroke="#000" stroke-width="1.9" stroke-linecap="butt"/>
<line x1="607.45" y1="88.75" x2="615.05" y2="88.75" stroke="#000" stroke-width="1.9" stroke-linecap="butt"/>
<line x1="611.25" y1="168.25" x2="611.25" y2="179.5" stroke="#000" stroke-width="1.9" stroke-linecap="butt"/>
<line x1="607.45" y1="168.25" x2="615.05" y2="168.25" stroke="#000" stroke-width="1.9" stroke-linecap="butt"/>
<line x1="607.45" y1="179.5" x2="615.05" y2="179.5" stroke="#000" stroke-width="1.9" stroke-linecap="butt"/>
<line x1="611.25" y1="242" x2="611.25" y2="248" stroke="#000" stroke-width="1.9" stroke-linecap="butt"/>
<line x1="607.45" y1="242" x2="615.05" y2="242" stroke="#000" stroke-width="1.9" stroke-linecap="butt"/>
<line x1="607.45" y1="248" x2="615.05" y2="248" stroke="#000" stroke-width="1.9" stroke-linecap="butt"/>
<line x1="648" y1="79.5" x2="648" y2="92" stroke="#000" stroke-width="1.9" stroke-linecap="butt"/>
<line x1="644.2" y1="79.5" x2="651.8" y2="79.5" stroke="#000" stroke-width="1.9" stroke-linecap="butt"/>
<line x1="644.2" y1="92" x2="651.8" y2="92" stroke="#000" stroke-width="1.9" stroke-linecap="butt"/>
<line x1="648" y1="170" x2="648" y2="177.5" stroke="#000" stroke-width="1.9" stroke-linecap="butt"/>
<line x1="644.2" y1="170" x2="651.8" y2="170" stroke="#000" stroke-width="1.9" stroke-linecap="butt"/>
<line x1="644.2" y1="177.5" x2="651.8" y2="177.5" stroke="#000" stroke-width="1.9" stroke-linecap="butt"/>
<line x1="648" y1="239.5" x2="648" y2="243.25" stroke="#000" stroke-width="1.9" stroke-linecap="butt"/>
<line x1="644.2" y1="239.5" x2="651.8" y2="239.5" stroke="#000" stroke-width="1.9" stroke-linecap="butt"/>
<line x1="644.2" y1="243.25" x2="651.8" y2="243.25" stroke="#000" stroke-width="1.9" stroke-linecap="butt"/>
<line x1="686.25" y1="73" x2="686.25" y2="92.5" stroke="#000" stroke-width="1.9" stroke-linecap="butt"/>
<line x1="682.45" y1="73" x2="690.05" y2="73" stroke="#000" stroke-width="1.9" stroke-linecap="butt"/>
<line x1="682.45" y1="92.5" x2="690.05" y2="92.5" stroke="#000" stroke-width="1.9" stroke-linecap="butt"/>
<line x1="686.25" y1="142" x2="686.25" y2="153.25" stroke="#000" stroke-width="1.9" stroke-linecap="butt"/>
<line x1="682.45" y1="142" x2="690.05" y2="142" stroke="#000" stroke-width="1.9" stroke-linecap="butt"/>
<line x1="682.45" y1="153.25" x2="690.05" y2="153.25" stroke="#000" stroke-width="1.9" stroke-linecap="butt"/>
<line x1="686.25" y1="237.5" x2="686.25" y2="242.5" stroke="#000" stroke-width="1.9" stroke-linecap="butt"/>
<line x1="682.45" y1="237.5" x2="690.05" y2="237.5" stroke="#000" stroke-width="1.9" stroke-linecap="butt"/>
<line x1="682.45" y1="242.5" x2="690.05" y2="242.5" stroke="#000" stroke-width="1.9" stroke-linecap="butt"/>
<line x1="736.8" y1="73.4" x2="736.8" y2="90.5" stroke="#000" stroke-width="1.9" stroke-linecap="butt"/>
<line x1="733" y1="73.4" x2="740.6" y2="73.4" stroke="#000" stroke-width="1.9" stroke-linecap="butt"/>
<line x1="733" y1="90.5" x2="740.6" y2="90.5" stroke="#000" stroke-width="1.9" stroke-linecap="butt"/>
<line x1="736.8" y1="173" x2="736.8" y2="184" stroke="#000" stroke-width="1.9" stroke-linecap="butt"/>
<line x1="733" y1="173" x2="740.6" y2="173" stroke="#000" stroke-width="1.9" stroke-linecap="butt"/>
<line x1="733" y1="184" x2="740.6" y2="184" stroke="#000" stroke-width="1.9" stroke-linecap="butt"/>
<line x1="736.8" y1="253.6" x2="736.8" y2="258.8" stroke="#000" stroke-width="1.9" stroke-linecap="butt"/>
<line x1="733" y1="253.6" x2="740.6" y2="253.6" stroke="#000" stroke-width="1.9" stroke-linecap="butt"/>
<line x1="733" y1="258.8" x2="740.6" y2="258.8" stroke="#000" stroke-width="1.9" stroke-linecap="butt"/>
<line x1="773.9" y1="76.7" x2="773.9" y2="89.1" stroke="#000" stroke-width="1.9" stroke-linecap="butt"/>
<line x1="770.1" y1="76.7" x2="777.7" y2="76.7" stroke="#000" stroke-width="1.9" stroke-linecap="butt"/>
<line x1="770.1" y1="89.1" x2="777.7" y2="89.1" stroke="#000" stroke-width="1.9" stroke-linecap="butt"/>
<line x1="773.9" y1="181.6" x2="773.9" y2="189.6" stroke="#000" stroke-width="1.9" stroke-linecap="butt"/>
<line x1="770.1" y1="181.6" x2="777.7" y2="181.6" stroke="#000" stroke-width="1.9" stroke-linecap="butt"/>
<line x1="770.1" y1="189.6" x2="777.7" y2="189.6" stroke="#000" stroke-width="1.9" stroke-linecap="butt"/>
<line x1="773.9" y1="259.7" x2="773.9" y2="263" stroke="#000" stroke-width="1.9" stroke-linecap="butt"/>
<line x1="770.1" y1="259.7" x2="777.7" y2="259.7" stroke="#000" stroke-width="1.9" stroke-linecap="butt"/>
<line x1="770.1" y1="263" x2="777.7" y2="263" stroke="#000" stroke-width="1.9" stroke-linecap="butt"/>
<line x1="811" y1="76.1" x2="811" y2="84.4" stroke="#000" stroke-width="1.9" stroke-linecap="butt"/>
<line x1="807.2" y1="76.1" x2="814.8" y2="76.1" stroke="#000" stroke-width="1.9" stroke-linecap="butt"/>
<line x1="807.2" y1="84.4" x2="814.8" y2="84.4" stroke="#000" stroke-width="1.9" stroke-linecap="butt"/>
<line x1="811" y1="179.4" x2="811" y2="186.3" stroke="#000" stroke-width="1.9" stroke-linecap="butt"/>
<line x1="807.2" y1="179.4" x2="814.8" y2="179.4" stroke="#000" stroke-width="1.9" stroke-linecap="butt"/>
<line x1="807.2" y1="186.3" x2="814.8" y2="186.3" stroke="#000" stroke-width="1.9" stroke-linecap="butt"/>
<line x1="811" y1="253.6" x2="811" y2="256.9" stroke="#000" stroke-width="1.9" stroke-linecap="butt"/>
<line x1="807.2" y1="253.6" x2="814.8" y2="253.6" stroke="#000" stroke-width="1.9" stroke-linecap="butt"/>
<line x1="807.2" y1="256.9" x2="814.8" y2="256.9" stroke="#000" stroke-width="1.9" stroke-linecap="butt"/>
<line x1="848.7" y1="72.5" x2="848.7" y2="92.2" stroke="#000" stroke-width="1.9" stroke-linecap="butt"/>
<line x1="844.9" y1="72.5" x2="852.5" y2="72.5" stroke="#000" stroke-width="1.9" stroke-linecap="butt"/>
<line x1="844.9" y1="92.2" x2="852.5" y2="92.2" stroke="#000" stroke-width="1.9" stroke-linecap="butt"/>
<line x1="848.7" y1="134.8" x2="848.7" y2="146.7" stroke="#000" stroke-width="1.9" stroke-linecap="butt"/>
<line x1="844.9" y1="134.8" x2="852.5" y2="134.8" stroke="#000" stroke-width="1.9" stroke-linecap="butt"/>
<line x1="844.9" y1="146.7" x2="852.5" y2="146.7" stroke="#000" stroke-width="1.9" stroke-linecap="butt"/>
<line x1="848.7" y1="246.7" x2="848.7" y2="252.7" stroke="#000" stroke-width="1.9" stroke-linecap="butt"/>
<line x1="844.9" y1="246.7" x2="852.5" y2="246.7" stroke="#000" stroke-width="1.9" stroke-linecap="butt"/>
<line x1="844.9" y1="252.7" x2="852.5" y2="252.7" stroke="#000" stroke-width="1.9" stroke-linecap="butt"/>
<rect x="577.25" y="32.6" width="112" height="2.3" fill="#b03034" stroke="#3a1a1a" stroke-width="0.7" rx="0.77"/>
<line x1="626.4" y1="25.23" x2="626.4" y2="31.77" stroke="#222" stroke-width="1" stroke-linecap="butt"/>
<line x1="623.57" y1="26.86" x2="629.23" y2="30.14" stroke="#222" stroke-width="1" stroke-linecap="butt"/>
<line x1="629.23" y1="26.86" x2="623.57" y2="30.14" stroke="#222" stroke-width="1" stroke-linecap="butt"/>
<line x1="635" y1="25.23" x2="635" y2="31.77" stroke="#222" stroke-width="1" stroke-linecap="butt"/>
<line x1="632.17" y1="26.86" x2="637.83" y2="30.14" stroke="#222" stroke-width="1" stroke-linecap="butt"/>
<line x1="637.83" y1="26.86" x2="632.17" y2="30.14" stroke="#222" stroke-width="1" stroke-linecap="butt"/>
<line x1="643.6" y1="25.23" x2="643.6" y2="31.77" stroke="#222" stroke-width="1" stroke-linecap="butt"/>
<line x1="640.77" y1="26.86" x2="646.43" y2="30.14" stroke="#222" stroke-width="1" stroke-linecap="butt"/>
<line x1="646.43" y1="26.86" x2="640.77" y2="30.14" stroke="#222" stroke-width="1" stroke-linecap="butt"/>
<rect x="617.5" y="43.6" width="71.75" height="2.3" fill="#b03034" stroke="#3a1a1a" stroke-width="0.7" rx="0.77"/>
<line x1="643.35" y1="36.73" x2="643.35" y2="43.27" stroke="#222" stroke-width="1" stroke-linecap="butt"/>
<line x1="640.52" y1="38.36" x2="646.18" y2="41.64" stroke="#222" stroke-width="1" stroke-linecap="butt"/>
<line x1="646.18" y1="38.36" x2="640.52" y2="41.64" stroke="#222" stroke-width="1" stroke-linecap="butt"/>
<line x1="651.95" y1="36.73" x2="651.95" y2="43.27" stroke="#222" stroke-width="1" stroke-linecap="butt"/>
<line x1="649.12" y1="38.36" x2="654.78" y2="41.64" stroke="#222" stroke-width="1" stroke-linecap="butt"/>
<line x1="654.78" y1="38.36" x2="649.12" y2="41.64" stroke="#222" stroke-width="1" stroke-linecap="butt"/>
<line x1="660.55" y1="36.73" x2="660.55" y2="43.27" stroke="#222" stroke-width="1" stroke-linecap="butt"/>
<line x1="657.72" y1="38.36" x2="663.38" y2="41.64" stroke="#222" stroke-width="1" stroke-linecap="butt"/>
<line x1="663.38" y1="38.36" x2="657.72" y2="41.64" stroke="#222" stroke-width="1" stroke-linecap="butt"/>
<line x1="669.15" y1="36.73" x2="669.15" y2="43.27" stroke="#222" stroke-width="1" stroke-linecap="butt"/>
<line x1="666.32" y1="38.36" x2="671.98" y2="41.64" stroke="#222" stroke-width="1" stroke-linecap="butt"/>
<line x1="671.98" y1="38.36" x2="666.32" y2="41.64" stroke="#222" stroke-width="1" stroke-linecap="butt"/>
<rect x="651.25" y="56.1" width="38" height="2.3" fill="#b03034" stroke="#3a1a1a" stroke-width="0.7" rx="0.77"/>
<line x1="656.35" y1="49.23" x2="656.35" y2="55.77" stroke="#222" stroke-width="1" stroke-linecap="butt"/>
<line x1="653.52" y1="50.86" x2="659.18" y2="54.14" stroke="#222" stroke-width="1" stroke-linecap="butt"/>
<line x1="659.18" y1="50.86" x2="653.52" y2="54.14" stroke="#222" stroke-width="1" stroke-linecap="butt"/>
<line x1="664.95" y1="49.23" x2="664.95" y2="55.77" stroke="#222" stroke-width="1" stroke-linecap="butt"/>
<line x1="662.12" y1="50.86" x2="667.78" y2="54.14" stroke="#222" stroke-width="1" stroke-linecap="butt"/>
<line x1="667.78" y1="50.86" x2="662.12" y2="54.14" stroke="#222" stroke-width="1" stroke-linecap="butt"/>
<line x1="673.55" y1="49.23" x2="673.55" y2="55.77" stroke="#222" stroke-width="1" stroke-linecap="butt"/>
<line x1="670.72" y1="50.86" x2="676.38" y2="54.14" stroke="#222" stroke-width="1" stroke-linecap="butt"/>
<line x1="676.38" y1="50.86" x2="670.72" y2="54.14" stroke="#222" stroke-width="1" stroke-linecap="butt"/>
<line x1="682.15" y1="49.23" x2="682.15" y2="55.77" stroke="#222" stroke-width="1" stroke-linecap="butt"/>
<line x1="679.32" y1="50.86" x2="684.98" y2="54.14" stroke="#222" stroke-width="1" stroke-linecap="butt"/>
<line x1="684.98" y1="50.86" x2="679.32" y2="54.14" stroke="#222" stroke-width="1" stroke-linecap="butt"/>
<rect x="739.6" y="34.25" width="112.1" height="2.3" fill="#b03034" stroke="#3a1a1a" stroke-width="0.7" rx="0.77"/>
<line x1="785.9" y1="26.53" x2="785.9" y2="33.07" stroke="#222" stroke-width="1" stroke-linecap="butt"/>
<line x1="783.07" y1="28.16" x2="788.73" y2="31.44" stroke="#222" stroke-width="1" stroke-linecap="butt"/>
<line x1="788.73" y1="28.16" x2="783.07" y2="31.44" stroke="#222" stroke-width="1" stroke-linecap="butt"/>
<line x1="794.5" y1="26.53" x2="794.5" y2="33.07" stroke="#222" stroke-width="1" stroke-linecap="butt"/>
<line x1="791.67" y1="28.16" x2="797.33" y2="31.44" stroke="#222" stroke-width="1" stroke-linecap="butt"/>
<line x1="797.33" y1="28.16" x2="791.67" y2="31.44" stroke="#222" stroke-width="1" stroke-linecap="butt"/>
<line x1="803.1" y1="26.53" x2="803.1" y2="33.07" stroke="#222" stroke-width="1" stroke-linecap="butt"/>
<line x1="800.27" y1="28.16" x2="805.93" y2="31.44" stroke="#222" stroke-width="1" stroke-linecap="butt"/>
<line x1="805.93" y1="28.16" x2="800.27" y2="31.44" stroke="#222" stroke-width="1" stroke-linecap="butt"/>
<line x1="811.7" y1="26.53" x2="811.7" y2="33.07" stroke="#222" stroke-width="1" stroke-linecap="butt"/>
<line x1="808.87" y1="28.16" x2="814.53" y2="31.44" stroke="#222" stroke-width="1" stroke-linecap="butt"/>
<line x1="814.53" y1="28.16" x2="808.87" y2="31.44" stroke="#222" stroke-width="1" stroke-linecap="butt"/>
<rect x="780.3" y="45.05" width="71.4" height="2.3" fill="#b03034" stroke="#3a1a1a" stroke-width="0.7" rx="0.77"/>
<line x1="806.1" y1="38.73" x2="806.1" y2="45.27" stroke="#222" stroke-width="1" stroke-linecap="butt"/>
<line x1="803.27" y1="40.36" x2="808.93" y2="43.64" stroke="#222" stroke-width="1" stroke-linecap="butt"/>
<line x1="808.93" y1="40.36" x2="803.27" y2="43.64" stroke="#222" stroke-width="1" stroke-linecap="butt"/>
<line x1="814.7" y1="38.73" x2="814.7" y2="45.27" stroke="#222" stroke-width="1" stroke-linecap="butt"/>
<line x1="811.87" y1="40.36" x2="817.53" y2="43.64" stroke="#222" stroke-width="1" stroke-linecap="butt"/>
<line x1="817.53" y1="40.36" x2="811.87" y2="43.64" stroke="#222" stroke-width="1" stroke-linecap="butt"/>
<line x1="823.3" y1="38.73" x2="823.3" y2="45.27" stroke="#222" stroke-width="1" stroke-linecap="butt"/>
<line x1="820.47" y1="40.36" x2="826.13" y2="43.64" stroke="#222" stroke-width="1" stroke-linecap="butt"/>
<line x1="826.13" y1="40.36" x2="820.47" y2="43.64" stroke="#222" stroke-width="1" stroke-linecap="butt"/>
<line x1="831.9" y1="38.73" x2="831.9" y2="45.27" stroke="#222" stroke-width="1" stroke-linecap="butt"/>
<line x1="829.07" y1="40.36" x2="834.73" y2="43.64" stroke="#222" stroke-width="1" stroke-linecap="butt"/>
<line x1="834.73" y1="40.36" x2="829.07" y2="43.64" stroke="#222" stroke-width="1" stroke-linecap="butt"/>
<rect x="814" y="57.85" width="37.7" height="2.3" fill="#b03034" stroke="#3a1a1a" stroke-width="0.7" rx="0.77"/>
<line x1="818.1" y1="50.73" x2="818.1" y2="57.27" stroke="#222" stroke-width="1" stroke-linecap="butt"/>
<line x1="815.27" y1="52.36" x2="820.93" y2="55.64" stroke="#222" stroke-width="1" stroke-linecap="butt"/>
<line x1="820.93" y1="52.36" x2="815.27" y2="55.64" stroke="#222" stroke-width="1" stroke-linecap="butt"/>
<line x1="826.7" y1="50.73" x2="826.7" y2="57.27" stroke="#222" stroke-width="1" stroke-linecap="butt"/>
<line x1="823.87" y1="52.36" x2="829.53" y2="55.64" stroke="#222" stroke-width="1" stroke-linecap="butt"/>
<line x1="829.53" y1="52.36" x2="823.87" y2="55.64" stroke="#222" stroke-width="1" stroke-linecap="butt"/>
<line x1="835.3" y1="50.73" x2="835.3" y2="57.27" stroke="#222" stroke-width="1" stroke-linecap="butt"/>
<line x1="832.47" y1="52.36" x2="838.13" y2="55.64" stroke="#222" stroke-width="1" stroke-linecap="butt"/>
<line x1="838.13" y1="52.36" x2="832.47" y2="55.64" stroke="#222" stroke-width="1" stroke-linecap="butt"/>
<line x1="843.9" y1="50.73" x2="843.9" y2="57.27" stroke="#222" stroke-width="1" stroke-linecap="butt"/>
<line x1="841.07" y1="52.36" x2="846.73" y2="55.64" stroke="#222" stroke-width="1" stroke-linecap="butt"/>
<line x1="846.73" y1="52.36" x2="841.07" y2="55.64" stroke="#222" stroke-width="1" stroke-linecap="butt"/>
<rect x="573.75" y="107.3" width="112.5" height="2.9" fill="#c8783c" stroke="#3a2616" stroke-width="0.9" rx="0.97"/>
<line x1="620.65" y1="101.73" x2="620.65" y2="108.27" stroke="#222" stroke-width="1" stroke-linecap="butt"/>
<line x1="617.82" y1="103.36" x2="623.48" y2="106.64" stroke="#222" stroke-width="1" stroke-linecap="butt"/>
<line x1="623.48" y1="103.36" x2="617.82" y2="106.64" stroke="#222" stroke-width="1" stroke-linecap="butt"/>
<line x1="629.25" y1="101.73" x2="629.25" y2="108.27" stroke="#222" stroke-width="1" stroke-linecap="butt"/>
<line x1="626.42" y1="103.36" x2="632.08" y2="106.64" stroke="#222" stroke-width="1" stroke-linecap="butt"/>
<line x1="632.08" y1="103.36" x2="626.42" y2="106.64" stroke="#222" stroke-width="1" stroke-linecap="butt"/>
<line x1="637.85" y1="101.73" x2="637.85" y2="108.27" stroke="#222" stroke-width="1" stroke-linecap="butt"/>
<line x1="635.02" y1="103.36" x2="640.68" y2="106.64" stroke="#222" stroke-width="1" stroke-linecap="butt"/>
<line x1="640.68" y1="103.36" x2="635.02" y2="106.64" stroke="#222" stroke-width="1" stroke-linecap="butt"/>
<rect x="614.25" y="118.3" width="72" height="2.9" fill="#c8783c" stroke="#3a2616" stroke-width="0.9" rx="0.97"/>
<line x1="639.9" y1="112.23" x2="639.9" y2="118.77" stroke="#222" stroke-width="1" stroke-linecap="butt"/>
<line x1="637.07" y1="113.86" x2="642.73" y2="117.14" stroke="#222" stroke-width="1" stroke-linecap="butt"/>
<line x1="642.73" y1="113.86" x2="637.07" y2="117.14" stroke="#222" stroke-width="1" stroke-linecap="butt"/>
<line x1="648.5" y1="112.23" x2="648.5" y2="118.77" stroke="#222" stroke-width="1" stroke-linecap="butt"/>
<line x1="645.67" y1="113.86" x2="651.33" y2="117.14" stroke="#222" stroke-width="1" stroke-linecap="butt"/>
<line x1="651.33" y1="113.86" x2="645.67" y2="117.14" stroke="#222" stroke-width="1" stroke-linecap="butt"/>
<line x1="657.1" y1="112.23" x2="657.1" y2="118.77" stroke="#222" stroke-width="1" stroke-linecap="butt"/>
<line x1="654.27" y1="113.86" x2="659.93" y2="117.14" stroke="#222" stroke-width="1" stroke-linecap="butt"/>
<line x1="659.93" y1="113.86" x2="654.27" y2="117.14" stroke="#222" stroke-width="1" stroke-linecap="butt"/>
<rect x="648.5" y="129.3" width="37.75" height="2.9" fill="#c8783c" stroke="#3a2616" stroke-width="0.9" rx="0.97"/>
<line x1="654.35" y1="123.48" x2="654.35" y2="130.02" stroke="#222" stroke-width="1" stroke-linecap="butt"/>
<line x1="651.52" y1="125.11" x2="657.18" y2="128.39" stroke="#222" stroke-width="1" stroke-linecap="butt"/>
<line x1="657.18" y1="125.11" x2="651.52" y2="128.39" stroke="#222" stroke-width="1" stroke-linecap="butt"/>
<line x1="662.95" y1="123.48" x2="662.95" y2="130.02" stroke="#222" stroke-width="1" stroke-linecap="butt"/>
<line x1="660.12" y1="125.11" x2="665.78" y2="128.39" stroke="#222" stroke-width="1" stroke-linecap="butt"/>
<line x1="665.78" y1="125.11" x2="660.12" y2="128.39" stroke="#222" stroke-width="1" stroke-linecap="butt"/>
<line x1="671.55" y1="123.48" x2="671.55" y2="130.02" stroke="#222" stroke-width="1" stroke-linecap="butt"/>
<line x1="668.72" y1="125.11" x2="674.38" y2="128.39" stroke="#222" stroke-width="1" stroke-linecap="butt"/>
<line x1="674.38" y1="125.11" x2="668.72" y2="128.39" stroke="#222" stroke-width="1" stroke-linecap="butt"/>
<line x1="680.15" y1="123.48" x2="680.15" y2="130.02" stroke="#222" stroke-width="1" stroke-linecap="butt"/>
<line x1="677.32" y1="125.11" x2="682.98" y2="128.39" stroke="#222" stroke-width="1" stroke-linecap="butt"/>
<line x1="682.98" y1="125.11" x2="677.32" y2="128.39" stroke="#222" stroke-width="1" stroke-linecap="butt"/>
<rect x="736.5" y="107.35" width="112.2" height="2.9" fill="#c8783c" stroke="#3a2616" stroke-width="0.9" rx="0.97"/>
<line x1="779.1" y1="101.93" x2="779.1" y2="108.47" stroke="#222" stroke-width="1" stroke-linecap="butt"/>
<line x1="776.27" y1="103.56" x2="781.93" y2="106.84" stroke="#222" stroke-width="1" stroke-linecap="butt"/>
<line x1="781.93" y1="103.56" x2="776.27" y2="106.84" stroke="#222" stroke-width="1" stroke-linecap="butt"/>
<line x1="787.7" y1="101.93" x2="787.7" y2="108.47" stroke="#222" stroke-width="1" stroke-linecap="butt"/>
<line x1="784.87" y1="103.56" x2="790.53" y2="106.84" stroke="#222" stroke-width="1" stroke-linecap="butt"/>
<line x1="790.53" y1="103.56" x2="784.87" y2="106.84" stroke="#222" stroke-width="1" stroke-linecap="butt"/>
<line x1="796.3" y1="101.93" x2="796.3" y2="108.47" stroke="#222" stroke-width="1" stroke-linecap="butt"/>
<line x1="793.47" y1="103.56" x2="799.13" y2="106.84" stroke="#222" stroke-width="1" stroke-linecap="butt"/>
<line x1="799.13" y1="103.56" x2="793.47" y2="106.84" stroke="#222" stroke-width="1" stroke-linecap="butt"/>
<line x1="804.9" y1="101.93" x2="804.9" y2="108.47" stroke="#222" stroke-width="1" stroke-linecap="butt"/>
<line x1="802.07" y1="103.56" x2="807.73" y2="106.84" stroke="#222" stroke-width="1" stroke-linecap="butt"/>
<line x1="807.73" y1="103.56" x2="802.07" y2="106.84" stroke="#222" stroke-width="1" stroke-linecap="butt"/>
<rect x="776.7" y="118.45" width="72" height="2.9" fill="#c8783c" stroke="#3a2616" stroke-width="0.9" rx="0.97"/>
<line x1="799.1" y1="112.03" x2="799.1" y2="118.57" stroke="#222" stroke-width="1" stroke-linecap="butt"/>
<line x1="796.27" y1="113.66" x2="801.93" y2="116.94" stroke="#222" stroke-width="1" stroke-linecap="butt"/>
<line x1="801.93" y1="113.66" x2="796.27" y2="116.94" stroke="#222" stroke-width="1" stroke-linecap="butt"/>
<line x1="807.7" y1="112.03" x2="807.7" y2="118.57" stroke="#222" stroke-width="1" stroke-linecap="butt"/>
<line x1="804.87" y1="113.66" x2="810.53" y2="116.94" stroke="#222" stroke-width="1" stroke-linecap="butt"/>
<line x1="810.53" y1="113.66" x2="804.87" y2="116.94" stroke="#222" stroke-width="1" stroke-linecap="butt"/>
<line x1="816.3" y1="112.03" x2="816.3" y2="118.57" stroke="#222" stroke-width="1" stroke-linecap="butt"/>
<line x1="813.47" y1="113.66" x2="819.13" y2="116.94" stroke="#222" stroke-width="1" stroke-linecap="butt"/>
<line x1="819.13" y1="113.66" x2="813.47" y2="116.94" stroke="#222" stroke-width="1" stroke-linecap="butt"/>
<line x1="824.9" y1="112.03" x2="824.9" y2="118.57" stroke="#222" stroke-width="1" stroke-linecap="butt"/>
<line x1="822.07" y1="113.66" x2="827.73" y2="116.94" stroke="#222" stroke-width="1" stroke-linecap="butt"/>
<line x1="827.73" y1="113.66" x2="822.07" y2="116.94" stroke="#222" stroke-width="1" stroke-linecap="butt"/>
<rect x="811.3" y="130.05" width="37.4" height="2.9" fill="#c8783c" stroke="#3a2616" stroke-width="0.9" rx="0.97"/>
<line x1="817.1" y1="123.53" x2="817.1" y2="130.07" stroke="#222" stroke-width="1" stroke-linecap="butt"/>
<line x1="814.27" y1="125.16" x2="819.93" y2="128.44" stroke="#222" stroke-width="1" stroke-linecap="butt"/>
<line x1="819.93" y1="125.16" x2="814.27" y2="128.44" stroke="#222" stroke-width="1" stroke-linecap="butt"/>
<line x1="825.7" y1="123.53" x2="825.7" y2="130.07" stroke="#222" stroke-width="1" stroke-linecap="butt"/>
<line x1="822.87" y1="125.16" x2="828.53" y2="128.44" stroke="#222" stroke-width="1" stroke-linecap="butt"/>
<line x1="828.53" y1="125.16" x2="822.87" y2="128.44" stroke="#222" stroke-width="1" stroke-linecap="butt"/>
<line x1="834.3" y1="123.53" x2="834.3" y2="130.07" stroke="#222" stroke-width="1" stroke-linecap="butt"/>
<line x1="831.47" y1="125.16" x2="837.13" y2="128.44" stroke="#222" stroke-width="1" stroke-linecap="butt"/>
<line x1="837.13" y1="125.16" x2="831.47" y2="128.44" stroke="#222" stroke-width="1" stroke-linecap="butt"/>
<line x1="842.9" y1="123.53" x2="842.9" y2="130.07" stroke="#222" stroke-width="1" stroke-linecap="butt"/>
<line x1="840.07" y1="125.16" x2="845.73" y2="128.44" stroke="#222" stroke-width="1" stroke-linecap="butt"/>
<line x1="845.73" y1="125.16" x2="840.07" y2="128.44" stroke="#222" stroke-width="1" stroke-linecap="butt"/>
<rect x="773.4" y="231.15" width="78" height="2.7" fill="#4f9d55" stroke="#25402a" stroke-width="0.9" rx="0.9"/>
<line x1="802.1" y1="225.13" x2="802.1" y2="231.67" stroke="#222" stroke-width="1" stroke-linecap="butt"/>
<line x1="799.27" y1="226.76" x2="804.93" y2="230.04" stroke="#222" stroke-width="1" stroke-linecap="butt"/>
<line x1="804.93" y1="226.76" x2="799.27" y2="230.04" stroke="#222" stroke-width="1" stroke-linecap="butt"/>
<line x1="810.7" y1="225.13" x2="810.7" y2="231.67" stroke="#222" stroke-width="1" stroke-linecap="butt"/>
<line x1="807.87" y1="226.76" x2="813.53" y2="230.04" stroke="#222" stroke-width="1" stroke-linecap="butt"/>
<line x1="813.53" y1="226.76" x2="807.87" y2="230.04" stroke="#222" stroke-width="1" stroke-linecap="butt"/>
<line x1="819.3" y1="225.13" x2="819.3" y2="231.67" stroke="#222" stroke-width="1" stroke-linecap="butt"/>
<line x1="816.47" y1="226.76" x2="822.13" y2="230.04" stroke="#222" stroke-width="1" stroke-linecap="butt"/>
<line x1="822.13" y1="226.76" x2="816.47" y2="230.04" stroke="#222" stroke-width="1" stroke-linecap="butt"/>
<line x1="574.25" y1="284.25" x2="574.25" y2="287.25" stroke="#333" stroke-width="1" stroke-linecap="butt"/>
<text x="0" y="0" font-size="14" text-anchor="end" transform="translate(585.75 293.95) rotate(-39)" fill="#111" stroke="#111" stroke-width="0.3">med</text>
<line x1="611.25" y1="284.25" x2="611.25" y2="287.25" stroke="#333" stroke-width="1" stroke-linecap="butt"/>
<text x="0" y="0" font-size="14" text-anchor="end" transform="translate(627.25 293.55) rotate(-39)" fill="#111" stroke="#111" stroke-width="0.3">SGE</text>
<line x1="648" y1="284.25" x2="648" y2="287.25" stroke="#333" stroke-width="1" stroke-linecap="butt"/>
<text x="0" y="0" font-size="14" text-anchor="end" transform="translate(666.5 293.05) rotate(-39)" fill="#111" stroke="#111" stroke-width="0.3">dead SPZ</text>
<line x1="686.25" y1="284.25" x2="686.25" y2="287.25" stroke="#333" stroke-width="1" stroke-linecap="butt"/>
<text x="0" y="0" font-size="14" text-anchor="end" transform="translate(698.85 293.65) rotate(-39)" fill="#111" stroke="#111" stroke-width="0.3">SPZ</text>
<line x1="736.8" y1="284.25" x2="736.8" y2="287.25" stroke="#333" stroke-width="1" stroke-linecap="butt"/>
<text x="0" y="0" font-size="14" text-anchor="end" transform="translate(748.3 293.95) rotate(-39)" fill="#111" stroke="#111" stroke-width="0.3">med</text>
<line x1="773.9" y1="284.25" x2="773.9" y2="287.25" stroke="#333" stroke-width="1" stroke-linecap="butt"/>
<text x="0" y="0" font-size="14" text-anchor="end" transform="translate(789.9 293.55) rotate(-39)" fill="#111" stroke="#111" stroke-width="0.3">SGE</text>
<line x1="811" y1="284.25" x2="811" y2="287.25" stroke="#333" stroke-width="1" stroke-linecap="butt"/>
<text x="0" y="0" font-size="14" text-anchor="end" transform="translate(829.5 293.05) rotate(-39)" fill="#111" stroke="#111" stroke-width="0.3">dead SPZ</text>
<line x1="848.7" y1="284.25" x2="848.7" y2="287.25" stroke="#333" stroke-width="1" stroke-linecap="butt"/>
<text x="0" y="0" font-size="14" text-anchor="end" transform="translate(861.3 293.65) rotate(-39)" fill="#111" stroke="#111" stroke-width="0.3">SPZ</text>
<rect x="874.4" y="84.4" width="12.5" height="11.1" fill="#b73338"/>
<text x="890.5" y="93.3" font-size="12.5" textLength="69" lengthAdjust="spacingAndGlyphs" fill="#111" stroke="#111" stroke-width="0.3">CD4<tspan dy="-4.5" font-size="8">+</tspan><tspan dy="4.5" font-size="1">&#8203;</tspan> T-cells</text>
<rect x="874.4" y="96.9" width="12.5" height="11.1" fill="#e07b39"/>
<text x="890.5" y="106.2" font-size="12.5" textLength="69" lengthAdjust="spacingAndGlyphs" fill="#111" stroke="#111" stroke-width="0.3">CD8<tspan dy="-4.5" font-size="8">+</tspan><tspan dy="4.5" font-size="1">&#8203;</tspan> T-cells</text>
<rect x="874.4" y="110.7" width="12.5" height="11.9" fill="#4f9d55"/>
<text x="890.5" y="120.6" font-size="12.5" textLength="16.5" lengthAdjust="spacingAndGlyphs" fill="#111" stroke="#111" stroke-width="0.3">DN</text>
<text x="1.7" y="324.5" font-size="19" textLength="16" lengthAdjust="spacingAndGlyphs" font-weight="bold" fill="#000" stroke="#000" stroke-width="0.3">C</text>
<rect x="70.5" y="344.5" width="241" height="226.3" fill="#fff" stroke="#2a2a2a" stroke-width="1.35"/>
<line x1="69.8" y1="344.5" x2="312.2" y2="344.5" stroke="#2a2a2a" stroke-width="1.8" stroke-linecap="butt"/>
<line x1="70.5" y1="361" x2="311.5" y2="361" stroke="#222" stroke-width="2" stroke-linecap="butt"/>
<line x1="190.8" y1="344.5" x2="190.8" y2="570.8" stroke="#1a1a1a" stroke-width="1.6" stroke-linecap="butt"/>
<text x="138.05" y="358.2" font-size="13.5" text-anchor="middle" textLength="29.5" lengthAdjust="spacingAndGlyphs" fill="#111" stroke="#111" stroke-width="0.3">liver</text>
<text x="245.75" y="358.2" font-size="13.5" text-anchor="middle" textLength="30" lengthAdjust="spacingAndGlyphs" fill="#111" stroke="#111" stroke-width="0.3">lung</text>
<text x="205" y="342.3" font-size="16" text-anchor="middle" textLength="70" lengthAdjust="spacingAndGlyphs" fill="#111" stroke="#111" stroke-width="0.3">NK cells</text>
<line x1="68" y1="368.6" x2="70.5" y2="368.6" stroke="#333" stroke-width="1" stroke-linecap="butt"/>
<text x="67.3" y="372.8" font-size="12" text-anchor="end" textLength="13.62" lengthAdjust="spacingAndGlyphs" fill="#111" stroke="#111" stroke-width="0.3">15</text>
<line x1="68" y1="433" x2="70.5" y2="433" stroke="#333" stroke-width="1" stroke-linecap="butt"/>
<text x="67.3" y="437.2" font-size="12" text-anchor="end" textLength="13.62" lengthAdjust="spacingAndGlyphs" fill="#111" stroke="#111" stroke-width="0.3">10</text>
<line x1="68" y1="497.6" x2="70.5" y2="497.6" stroke="#333" stroke-width="1" stroke-linecap="butt"/>
<text x="67.3" y="501.8" font-size="12" text-anchor="end" textLength="6.76" lengthAdjust="spacingAndGlyphs" fill="#111" stroke="#111" stroke-width="0.3">5</text>
<line x1="68" y1="561.8" x2="70.5" y2="561.8" stroke="#333" stroke-width="1" stroke-linecap="butt"/>
<text x="67.3" y="566" font-size="12" text-anchor="end" textLength="6.76" lengthAdjust="spacingAndGlyphs" fill="#111" stroke="#111" stroke-width="0.3">0</text>
<line x1="77" y1="570.8" x2="77" y2="573.3" stroke="#333" stroke-width="1" stroke-linecap="butt"/>
<text x="77" y="585.5" font-size="13" text-anchor="middle" fill="#111" stroke="#111" stroke-width="0.3">2</text>
<line x1="184.4" y1="570.8" x2="184.4" y2="573.3" stroke="#333" stroke-width="1" stroke-linecap="butt"/>
<text x="184.4" y="585.5" font-size="13" text-anchor="middle" fill="#111" stroke="#111" stroke-width="0.3">7</text>
<line x1="198" y1="570.8" x2="198" y2="573.3" stroke="#333" stroke-width="1" stroke-linecap="butt"/>
<text x="198" y="585.5" font-size="13" text-anchor="middle" fill="#111" stroke="#111" stroke-width="0.3">2</text>
<line x1="306" y1="570.8" x2="306" y2="573.3" stroke="#333" stroke-width="1" stroke-linecap="butt"/>
<text x="306" y="585.5" font-size="13" text-anchor="middle" fill="#111" stroke="#111" stroke-width="0.3">7</text>
<rect x="75.8" y="364.5" width="12.5" height="6.5" fill="#c3c3c3"/>
<rect x="75.8" y="375" width="12.5" height="6.5" fill="#8a3420"/>
<text x="93.8" y="371.5" font-size="11" textLength="23.8" lengthAdjust="spacingAndGlyphs" fill="#111" stroke="#111" stroke-width="0.3">SGE</text>
<text x="93.8" y="381.8" font-size="11" textLength="22.6" lengthAdjust="spacingAndGlyphs" fill="#111" stroke="#111" stroke-width="0.3">SPZ</text>
<text x="0" y="0" font-size="17" text-anchor="middle" transform="translate(45 444.5) rotate(-90)" textLength="111" lengthAdjust="spacingAndGlyphs" fill="#111" stroke="#111" stroke-width="0.3">% of CD45<tspan dy="-6" font-size="9">+</tspan><tspan dy="6" font-size="1">&#8203;</tspan> T-cells</text>
<circle cx="77.28" cy="435.38" r="1.85" fill="#c3c3c3"/>
<circle cx="76.65" cy="443.3" r="1.85" fill="#c3c3c3"/>
<circle cx="77.31" cy="478.37" r="1.85" fill="#c3c3c3"/>
<circle cx="76.29" cy="501" r="1.85" fill="#c3c3c3"/>
<circle cx="77.03" cy="533.8" r="1.85" fill="#c3c3c3"/>
<path d="M76.98 422.25 L74.61 426.75 L79.36 426.75 Z" fill="#c3c3c3"/>
<path d="M77.18 442.39 L74.81 446.89 L79.56 446.89 Z" fill="#c3c3c3"/>
<path d="M76.77 459.58 L74.39 464.08 L79.14 464.08 Z" fill="#c3c3c3"/>
<path d="M76.56 465.69 L74.19 470.19 L78.94 470.19 Z" fill="#c3c3c3"/>
<path d="M76.77 469.08 L74.4 473.58 L79.15 473.58 Z" fill="#c3c3c3"/>
<path d="M77.59 496.23 L75.21 500.73 L79.96 500.73 Z" fill="#c3c3c3"/>
<circle cx="183.81" cy="443.98" r="1.85" fill="#c3c3c3"/>
<path d="M184.04 468.63 L181.66 473.13 L186.41 473.13 Z" fill="#c3c3c3"/>
<path d="M184.66 471.35 L182.28 475.85 L187.03 475.85 Z" fill="#c3c3c3"/>
<path d="M184.92 473.61 L182.55 478.11 L187.3 478.11 Z" fill="#c3c3c3"/>
<path d="M185.28 475.87 L182.9 480.37 L187.65 480.37 Z" fill="#c3c3c3"/>
<path d="M184.94 479.26 L182.57 483.76 L187.32 483.76 Z" fill="#c3c3c3"/>
<path d="M184.34 481.53 L181.96 486.03 L186.71 486.03 Z" fill="#c3c3c3"/>
<path d="M184.47 536.96 L182.1 541.46 L186.85 541.46 Z" fill="#c3c3c3"/>
<line x1="77" y1="476" x2="184.4" y2="484.5" stroke="#c3c3c3" stroke-width="4" stroke-linecap="round"/>
<circle cx="77.23" cy="489" r="1.85" fill="#8a3420"/>
<circle cx="76.55" cy="512.31" r="1.85" fill="#8a3420"/>
<circle cx="77.37" cy="515.02" r="1.85" fill="#8a3420"/>
<circle cx="77.39" cy="517.96" r="1.85" fill="#8a3420"/>
<circle cx="77.86" cy="521.36" r="1.85" fill="#8a3420"/>
<circle cx="76.69" cy="531.54" r="1.85" fill="#8a3420"/>
<circle cx="76.9" cy="542.85" r="1.85" fill="#8a3420"/>
<path d="M77.38 493.52 L75 498.02 L79.75 498.02 Z" fill="#8a3420"/>
<path d="M77.43 510.94 L75.06 515.44 L79.81 515.44 Z" fill="#8a3420"/>
<path d="M76.41 514.33 L74.04 518.83 L78.79 518.83 Z" fill="#8a3420"/>
<path d="M76.13 517.73 L73.75 522.23 L78.5 522.23 Z" fill="#8a3420"/>
<path d="M77.51 521.12 L75.13 525.62 L79.88 525.62 Z" fill="#8a3420"/>
<path d="M76.17 530.17 L73.8 534.67 L78.55 534.67 Z" fill="#8a3420"/>
<path d="M77.18 541.48 L74.8 545.98 L79.55 545.98 Z" fill="#8a3420"/>
<circle cx="183.94" cy="493.08" r="1.85" fill="#8a3420"/>
<circle cx="184.5" cy="498.73" r="1.85" fill="#8a3420"/>
<circle cx="184.43" cy="507.78" r="1.85" fill="#8a3420"/>
<circle cx="184.22" cy="512.31" r="1.85" fill="#8a3420"/>
<path d="M183.83 492.84 L181.45 497.34 L186.2 497.34 Z" fill="#8a3420"/>
<path d="M184.66 498.5 L182.29 503 L187.04 503 Z" fill="#8a3420"/>
<path d="M184.79 507.55 L182.41 512.05 L187.16 512.05 Z" fill="#8a3420"/>
<path d="M184.05 512.07 L181.67 516.57 L186.42 516.57 Z" fill="#8a3420"/>
<path d="M185.25 526.78 L182.87 531.28 L187.62 531.28 Z" fill="#8a3420"/>
<path d="M185 530.62 L182.63 535.12 L187.38 535.12 Z" fill="#8a3420"/>
<line x1="77" y1="520" x2="184.4" y2="508.3" stroke="#8a3420" stroke-width="5" stroke-linecap="round"/>
<circle cx="197.8" cy="387.42" r="1.85" fill="#c3c3c3"/>
<circle cx="198.37" cy="431.99" r="1.85" fill="#c3c3c3"/>
<circle cx="197.33" cy="448.96" r="1.85" fill="#c3c3c3"/>
<circle cx="198.19" cy="452.35" r="1.85" fill="#c3c3c3"/>
<circle cx="198.09" cy="530.86" r="1.85" fill="#c3c3c3"/>
<path d="M198.36 426.1 L195.98 430.6 L200.73 430.6 Z" fill="#c3c3c3"/>
<path d="M198.73 440.8 L196.35 445.3 L201.1 445.3 Z" fill="#c3c3c3"/>
<path d="M197.81 464.56 L195.44 469.06 L200.19 469.06 Z" fill="#c3c3c3"/>
<path d="M198.6 481.98 L196.22 486.48 L200.97 486.48 Z" fill="#c3c3c3"/>
<circle cx="306.21" cy="429.05" r="1.85" fill="#c3c3c3"/>
<circle cx="305.13" cy="456.88" r="1.85" fill="#c3c3c3"/>
<circle cx="305.77" cy="459.82" r="1.85" fill="#c3c3c3"/>
<circle cx="305.3" cy="462.53" r="1.85" fill="#c3c3c3"/>
<circle cx="306.11" cy="464.8" r="1.85" fill="#c3c3c3"/>
<path d="M305.77 452.12 L303.39 456.62 L308.14 456.62 Z" fill="#c3c3c3"/>
<path d="M305.37 455.96 L302.99 460.46 L307.74 460.46 Z" fill="#c3c3c3"/>
<path d="M306.55 496.23 L304.17 500.73 L308.92 500.73 Z" fill="#c3c3c3"/>
<line x1="198" y1="450.5" x2="306" y2="464.8" stroke="#c3c3c3" stroke-width="3.4" stroke-linecap="round"/>
<path d="M197.23 370.21 L194.85 374.71 L199.6 374.71 Z" fill="#8a3420"/>
<path d="M197.25 376.78 L194.88 381.28 L199.63 381.28 Z" fill="#8a3420"/>
<path d="M197.45 383.11 L195.08 387.61 L199.83 387.61 Z" fill="#8a3420"/>
<path d="M198.72 387.64 L196.34 392.14 L201.09 392.14 Z" fill="#8a3420"/>
<path d="M198.09 391.03 L195.71 395.53 L200.46 395.53 Z" fill="#8a3420"/>
<path d="M197.98 395.55 L195.61 400.05 L200.36 400.05 Z" fill="#8a3420"/>
<path d="M197.78 397.82 L195.4 402.32 L200.15 402.32 Z" fill="#8a3420"/>
<path d="M197.28 402.34 L194.9 406.84 L199.65 406.84 Z" fill="#8a3420"/>
<path d="M197.92 404.6 L195.54 409.1 L200.29 409.1 Z" fill="#8a3420"/>
<path d="M197.66 406.87 L195.28 411.37 L200.03 411.37 Z" fill="#8a3420"/>
<path d="M197.78 415.92 L195.4 420.42 L200.15 420.42 Z" fill="#8a3420"/>
<path d="M197.32 419.31 L194.95 423.81 L199.7 423.81 Z" fill="#8a3420"/>
<path d="M198.8 453.25 L196.43 457.75 L201.18 457.75 Z" fill="#8a3420"/>
<circle cx="198.53" cy="394.66" r="1.85" fill="#8a3420"/>
<circle cx="197.88" cy="402.58" r="1.85" fill="#8a3420"/>
<circle cx="198.12" cy="410.5" r="1.85" fill="#8a3420"/>
<circle cx="197.14" cy="419.55" r="1.85" fill="#8a3420"/>
<circle cx="306.83" cy="466.61" r="1.85" fill="#8a3420"/>
<circle cx="305.39" cy="470.45" r="1.85" fill="#8a3420"/>
<circle cx="305.73" cy="473.85" r="1.85" fill="#8a3420"/>
<circle cx="306.45" cy="487.42" r="1.85" fill="#8a3420"/>
<circle cx="306.4" cy="490.81" r="1.85" fill="#8a3420"/>
<path d="M306.6 474.74 L304.22 479.24 L308.97 479.24 Z" fill="#8a3420"/>
<path d="M305.43 477 L303.05 481.5 L307.8 481.5 Z" fill="#8a3420"/>
<path d="M306.36 479.26 L303.98 483.76 L308.73 483.76 Z" fill="#8a3420"/>
<path d="M305.19 491.71 L302.82 496.21 L307.57 496.21 Z" fill="#8a3420"/>
<path d="M306.88 499.63 L304.51 504.13 L309.26 504.13 Z" fill="#8a3420"/>
<line x1="198" y1="403.7" x2="306" y2="481.8" stroke="#8a3420" stroke-width="4" stroke-linecap="round"/>
<rect x="78" y="389.6" width="107" height="2.3" fill="#6e2a1a" stroke="#2e2a2a" stroke-width="0.7"/>
<line x1="134.6" y1="381.53" x2="134.6" y2="388.07" stroke="#222" stroke-width="1" stroke-linecap="butt"/>
<line x1="131.77" y1="383.16" x2="137.43" y2="386.44" stroke="#222" stroke-width="1" stroke-linecap="butt"/>
<line x1="137.43" y1="383.16" x2="131.77" y2="386.44" stroke="#222" stroke-width="1" stroke-linecap="butt"/>
<rect x="342.6" y="346" width="242.1" height="224.8" fill="#fff" stroke="#2a2a2a" stroke-width="1.35"/>
<line x1="341.9" y1="346" x2="585.4" y2="346" stroke="#2a2a2a" stroke-width="1.8" stroke-linecap="butt"/>
<line x1="342.6" y1="361.4" x2="584.7" y2="361.4" stroke="#222" stroke-width="2" stroke-linecap="butt"/>
<line x1="463.5" y1="346" x2="463.5" y2="570.8" stroke="#1a1a1a" stroke-width="1.6" stroke-linecap="butt"/>
<text x="408.05" y="358.6" font-size="13.5" text-anchor="middle" textLength="29.5" lengthAdjust="spacingAndGlyphs" fill="#111" stroke="#111" stroke-width="0.3">liver</text>
<text x="523.1" y="358.6" font-size="13.5" text-anchor="middle" textLength="30" lengthAdjust="spacingAndGlyphs" fill="#111" stroke="#111" stroke-width="0.3">lung</text>
<text x="483" y="344" font-size="16" text-anchor="middle" textLength="84" lengthAdjust="spacingAndGlyphs" fill="#111" stroke="#111" stroke-width="0.3">&#947;&#948; T-cells</text>
<line x1="340.1" y1="368.2" x2="342.6" y2="368.2" stroke="#333" stroke-width="1" stroke-linecap="butt"/>
<text x="339.4" y="372.4" font-size="12" text-anchor="end" textLength="17.8" lengthAdjust="spacingAndGlyphs" fill="#111" stroke="#111" stroke-width="0.3">10</text>
<line x1="340.1" y1="418.6" x2="342.6" y2="418.6" stroke="#333" stroke-width="1" stroke-linecap="butt"/>
<text x="339.4" y="422.8" font-size="12" text-anchor="end" textLength="19.8" lengthAdjust="spacingAndGlyphs" fill="#111" stroke="#111" stroke-width="0.3">7.5</text>
<line x1="340.1" y1="466.4" x2="342.6" y2="466.4" stroke="#333" stroke-width="1" stroke-linecap="butt"/>
<text x="339.4" y="470.6" font-size="12" text-anchor="end" textLength="19.8" lengthAdjust="spacingAndGlyphs" fill="#111" stroke="#111" stroke-width="0.3">5.0</text>
<line x1="340.1" y1="514" x2="342.6" y2="514" stroke="#333" stroke-width="1" stroke-linecap="butt"/>
<text x="339.4" y="518.2" font-size="12" text-anchor="end" textLength="19.8" lengthAdjust="spacingAndGlyphs" fill="#111" stroke="#111" stroke-width="0.3">2.5</text>
<line x1="340.1" y1="561.6" x2="342.6" y2="561.6" stroke="#333" stroke-width="1" stroke-linecap="butt"/>
<text x="339.4" y="565.8" font-size="12" text-anchor="end" textLength="7.8" lengthAdjust="spacingAndGlyphs" fill="#111" stroke="#111" stroke-width="0.3">0</text>
<line x1="349" y1="570.8" x2="349" y2="573.3" stroke="#333" stroke-width="1" stroke-linecap="butt"/>
<text x="349" y="584.5" font-size="13" text-anchor="middle" fill="#111" stroke="#111" stroke-width="0.3">2</text>
<line x1="456.5" y1="570.8" x2="456.5" y2="573.3" stroke="#333" stroke-width="1" stroke-linecap="butt"/>
<text x="456.5" y="584.5" font-size="13" text-anchor="middle" fill="#111" stroke="#111" stroke-width="0.3">7</text>
<line x1="469.8" y1="570.8" x2="469.8" y2="573.3" stroke="#333" stroke-width="1" stroke-linecap="butt"/>
<text x="469.8" y="584.5" font-size="13" text-anchor="middle" fill="#111" stroke="#111" stroke-width="0.3">2</text>
<line x1="579" y1="570.8" x2="579" y2="573.3" stroke="#333" stroke-width="1" stroke-linecap="butt"/>
<text x="579" y="584.5" font-size="13" text-anchor="middle" fill="#111" stroke="#111" stroke-width="0.3">7</text>
<rect x="348.9" y="364.6" width="12.5" height="6.5" fill="#c3c3c3"/>
<rect x="348.9" y="375.1" width="12.5" height="6.5" fill="#3fa196"/>
<text x="370.6" y="371.6" font-size="11" textLength="23.8" lengthAdjust="spacingAndGlyphs" fill="#111" stroke="#111" stroke-width="0.3">SGE</text>
<text x="370.6" y="381.9" font-size="11" textLength="22.6" lengthAdjust="spacingAndGlyphs" fill="#111" stroke="#111" stroke-width="0.3">SPZ</text>
<circle cx="348.15" cy="534.06" r="1.85" fill="#c3c3c3"/>
<circle cx="348.39" cy="539.84" r="1.85" fill="#c3c3c3"/>
<circle cx="349.89" cy="544.18" r="1.85" fill="#c3c3c3"/>
<circle cx="349.32" cy="555.75" r="1.85" fill="#c3c3c3"/>
<circle cx="455.67" cy="533.48" r="1.85" fill="#c3c3c3"/>
<circle cx="456.03" cy="551.41" r="1.85" fill="#c3c3c3"/>
<circle cx="456.75" cy="555.75" r="1.85" fill="#c3c3c3"/>
<path d="M455.88 478.62 L453.51 483.12 L458.26 483.12 Z" fill="#c3c3c3"/>
<path d="M457.24 525.77 L454.86 530.27 L459.61 530.27 Z" fill="#c3c3c3"/>
<path d="M456.39 551.81 L454.01 556.31 L458.76 556.31 Z" fill="#c3c3c3"/>
<path d="M457.15 557.59 L454.78 562.09 L459.53 562.09 Z" fill="#c3c3c3"/>
<line x1="349" y1="548" x2="456.5" y2="544.5" stroke="#c3c3c3" stroke-width="4" stroke-linecap="round"/>
<circle cx="349" cy="519.6" r="1.85" fill="#3fa196"/>
<circle cx="348.39" cy="527.69" r="1.85" fill="#3fa196"/>
<circle cx="349.51" cy="531.17" r="1.85" fill="#3fa196"/>
<circle cx="348.11" cy="535.5" r="1.85" fill="#3fa196"/>
<circle cx="349.53" cy="541.29" r="1.85" fill="#3fa196"/>
<path d="M348.63 546.02 L346.25 550.52 L351 550.52 Z" fill="#3fa196"/>
<path d="M348.33 548.91 L345.96 553.41 L350.71 553.41 Z" fill="#3fa196"/>
<path d="M348.49 551.81 L346.12 556.31 L350.87 556.31 Z" fill="#3fa196"/>
<path d="M348.91 555.28 L346.53 559.78 L351.28 559.78 Z" fill="#3fa196"/>
<circle cx="456.04" cy="515.83" r="1.85" fill="#3fa196"/>
<circle cx="456.93" cy="518.73" r="1.85" fill="#3fa196"/>
<circle cx="456.89" cy="526.83" r="1.85" fill="#3fa196"/>
<circle cx="456.11" cy="539.84" r="1.85" fill="#3fa196"/>
<circle cx="455.98" cy="544.18" r="1.85" fill="#3fa196"/>
<path d="M456.81 556.15 L454.44 560.65 L459.19 560.65 Z" fill="#3fa196"/>
<line x1="349" y1="545.6" x2="456.5" y2="548.5" stroke="#3fa196" stroke-width="3.4" stroke-linecap="round"/>
<circle cx="469.98" cy="534.06" r="1.85" fill="#c3c3c3"/>
<circle cx="470.48" cy="538.4" r="1.85" fill="#c3c3c3"/>
<circle cx="469.29" cy="542.74" r="1.85" fill="#c3c3c3"/>
<circle cx="469.14" cy="545.63" r="1.85" fill="#c3c3c3"/>
<circle cx="469.9" cy="548.52" r="1.85" fill="#c3c3c3"/>
<circle cx="579.88" cy="536.95" r="1.85" fill="#c3c3c3"/>
<circle cx="578.88" cy="539.84" r="1.85" fill="#c3c3c3"/>
<circle cx="578.78" cy="542.74" r="1.85" fill="#c3c3c3"/>
<circle cx="578.21" cy="545.63" r="1.85" fill="#c3c3c3"/>
<path d="M578.61 546.02 L576.24 550.52 L580.99 550.52 Z" fill="#c3c3c3"/>
<path d="M579.41 551.81 L577.03 556.31 L581.78 556.31 Z" fill="#c3c3c3"/>
<path d="M578.5 553.25 L576.13 557.75 L580.88 557.75 Z" fill="#c3c3c3"/>
<line x1="469.8" y1="547" x2="579" y2="549.4" stroke="#c3c3c3" stroke-width="4" stroke-linecap="round"/>
<circle cx="469.53" cy="500.21" r="1.85" fill="#3fa196"/>
<circle cx="469.66" cy="529.72" r="1.85" fill="#3fa196"/>
<circle cx="469.58" cy="532.61" r="1.85" fill="#3fa196"/>
<circle cx="470.32" cy="536.95" r="1.85" fill="#3fa196"/>
<circle cx="470.54" cy="541.29" r="1.85" fill="#3fa196"/>
<circle cx="470.03" cy="544.18" r="1.85" fill="#3fa196"/>
<path d="M469.76 546.02 L467.38 550.52 L472.13 550.52 Z" fill="#3fa196"/>
<path d="M469.93 548.91 L467.55 553.41 L472.3 553.41 Z" fill="#3fa196"/>
<path d="M470.02 551.81 L467.65 556.31 L472.4 556.31 Z" fill="#3fa196"/>
<circle cx="579.45" cy="487.2" r="1.85" fill="#3fa196"/>
<circle cx="579.72" cy="495.01" r="1.85" fill="#3fa196"/>
<circle cx="578.83" cy="500.79" r="1.85" fill="#3fa196"/>
<circle cx="578.73" cy="516.7" r="1.85" fill="#3fa196"/>
<circle cx="578.19" cy="528.85" r="1.85" fill="#3fa196"/>
<path d="M578.89 391.26 L576.51 395.76 L581.26 395.76 Z" fill="#3fa196"/>
<path d="M578.92 403.7 L576.54 408.2 L581.29 408.2 Z" fill="#3fa196"/>
<path d="M578.41 450.56 L576.03 455.06 L580.78 455.06 Z" fill="#3fa196"/>
<path d="M579.28 504.95 L576.9 509.45 L581.65 509.45 Z" fill="#3fa196"/>
<path d="M579.76 529.24 L577.38 533.74 L582.13 533.74 Z" fill="#3fa196"/>
<line x1="469.8" y1="542.7" x2="579" y2="494" stroke="#3fa196" stroke-width="3.4" stroke-linecap="round"/>
<rect x="471.3" y="390.5" width="106.2" height="2.4" fill="#2a7a72" stroke="#243434" stroke-width="0.9"/>
<line x1="526" y1="383.73" x2="526" y2="390.27" stroke="#222" stroke-width="1" stroke-linecap="butt"/>
<line x1="523.17" y1="385.36" x2="528.83" y2="388.64" stroke="#222" stroke-width="1" stroke-linecap="butt"/>
<line x1="528.83" y1="385.36" x2="523.17" y2="388.64" stroke="#222" stroke-width="1" stroke-linecap="butt"/>
<text x="478.5" y="597" font-size="13" text-anchor="middle" textLength="192" lengthAdjust="spacingAndGlyphs" fill="#111" stroke="#111" stroke-width="0.3">days post 2<tspan dy="-5.5" font-size="9">nd</tspan><tspan dy="5.5" font-size="1">&#8203;</tspan> immunization</text>
<rect x="612" y="347" width="244.5" height="223.5" fill="#fff" stroke="#2a2a2a" stroke-width="1.35"/>
<line x1="611.3" y1="347" x2="857.2" y2="347" stroke="#2a2a2a" stroke-width="1.8" stroke-linecap="butt"/>
<line x1="612" y1="361.7" x2="856.5" y2="361.7" stroke="#222" stroke-width="2" stroke-linecap="butt"/>
<line x1="734.3" y1="347" x2="734.3" y2="570.5" stroke="#1a1a1a" stroke-width="1.6" stroke-linecap="butt"/>
<text x="674.55" y="358.9" font-size="13.5" text-anchor="middle" textLength="29.5" lengthAdjust="spacingAndGlyphs" fill="#111" stroke="#111" stroke-width="0.3">liver</text>
<text x="800.4" y="358.9" font-size="13.5" text-anchor="middle" textLength="30" lengthAdjust="spacingAndGlyphs" fill="#111" stroke="#111" stroke-width="0.3">lung</text>
<text x="755" y="344.5" font-size="16" text-anchor="middle" textLength="108" lengthAdjust="spacingAndGlyphs" fill="#111" stroke="#111" stroke-width="0.3">CD3<tspan dy="-6" font-size="9">+</tspan><tspan dy="6" font-size="1">&#8203;</tspan> T-cells</text>
<line x1="609.5" y1="371.3" x2="612" y2="371.3" stroke="#333" stroke-width="1" stroke-linecap="butt"/>
<text x="608.8" y="375.5" font-size="12" text-anchor="end" textLength="15.3" lengthAdjust="spacingAndGlyphs" fill="#111" stroke="#111" stroke-width="0.3">50</text>
<line x1="609.5" y1="409.4" x2="612" y2="409.4" stroke="#333" stroke-width="1" stroke-linecap="butt"/>
<text x="608.8" y="413.6" font-size="12" text-anchor="end" textLength="15.3" lengthAdjust="spacingAndGlyphs" fill="#111" stroke="#111" stroke-width="0.3">40</text>
<line x1="609.5" y1="447.5" x2="612" y2="447.5" stroke="#333" stroke-width="1" stroke-linecap="butt"/>
<text x="608.8" y="451.7" font-size="12" text-anchor="end" textLength="15.3" lengthAdjust="spacingAndGlyphs" fill="#111" stroke="#111" stroke-width="0.3">30</text>
<line x1="609.5" y1="485.5" x2="612" y2="485.5" stroke="#333" stroke-width="1" stroke-linecap="butt"/>
<text x="608.8" y="489.7" font-size="12" text-anchor="end" textLength="15.3" lengthAdjust="spacingAndGlyphs" fill="#111" stroke="#111" stroke-width="0.3">20</text>
<line x1="609.5" y1="523.6" x2="612" y2="523.6" stroke="#333" stroke-width="1" stroke-linecap="butt"/>
<text x="608.8" y="527.8" font-size="12" text-anchor="end" textLength="15.3" lengthAdjust="spacingAndGlyphs" fill="#111" stroke="#111" stroke-width="0.3">10</text>
<line x1="609.5" y1="561.7" x2="612" y2="561.7" stroke="#333" stroke-width="1" stroke-linecap="butt"/>
<text x="608.8" y="565.9" font-size="12" text-anchor="end" textLength="7.6" lengthAdjust="spacingAndGlyphs" fill="#111" stroke="#111" stroke-width="0.3">0</text>
<line x1="620" y1="570.5" x2="620" y2="573" stroke="#333" stroke-width="1" stroke-linecap="butt"/>
<text x="620" y="585.5" font-size="13" text-anchor="middle" fill="#111" stroke="#111" stroke-width="0.3">2</text>
<line x1="728" y1="570.5" x2="728" y2="573" stroke="#333" stroke-width="1" stroke-linecap="butt"/>
<text x="728" y="585.5" font-size="13" text-anchor="middle" fill="#111" stroke="#111" stroke-width="0.3">7</text>
<line x1="741" y1="570.5" x2="741" y2="573" stroke="#333" stroke-width="1" stroke-linecap="butt"/>
<text x="741" y="585.5" font-size="13" text-anchor="middle" fill="#111" stroke="#111" stroke-width="0.3">2</text>
<line x1="850" y1="570.5" x2="850" y2="573" stroke="#333" stroke-width="1" stroke-linecap="butt"/>
<text x="850" y="585.5" font-size="13" text-anchor="middle" fill="#111" stroke="#111" stroke-width="0.3">7</text>
<rect x="618.9" y="366.2" width="12.5" height="6.5" fill="#c3c3c3"/>
<rect x="618.9" y="376.7" width="12.5" height="6.5" fill="#dc7093"/>
<text x="636.1" y="373.2" font-size="11" textLength="23.8" lengthAdjust="spacingAndGlyphs" fill="#111" stroke="#111" stroke-width="0.3">SGE</text>
<text x="636.1" y="383.5" font-size="11" textLength="22.6" lengthAdjust="spacingAndGlyphs" fill="#111" stroke="#111" stroke-width="0.3">SPZ</text>
<circle cx="620.52" cy="474.31" r="1.85" fill="#c3c3c3"/>
<circle cx="620.81" cy="478.32" r="1.85" fill="#c3c3c3"/>
<circle cx="620.76" cy="484.33" r="1.85" fill="#c3c3c3"/>
<circle cx="620.78" cy="488.34" r="1.85" fill="#c3c3c3"/>
<circle cx="620.29" cy="494.35" r="1.85" fill="#c3c3c3"/>
<circle cx="620" cy="498.36" r="1.85" fill="#c3c3c3"/>
<path d="M620.23 499.86 L617.86 504.36 L622.61 504.36 Z" fill="#c3c3c3"/>
<circle cx="728.85" cy="389.34" r="1.85" fill="#c3c3c3"/>
<circle cx="727.2" cy="472.3" r="1.85" fill="#c3c3c3"/>
<circle cx="727.15" cy="478.32" r="1.85" fill="#c3c3c3"/>
<circle cx="727.67" cy="484.33" r="1.85" fill="#c3c3c3"/>
<circle cx="728.2" cy="490.34" r="1.85" fill="#c3c3c3"/>
<circle cx="728.27" cy="496.35" r="1.85" fill="#c3c3c3"/>
<path d="M727.31 446.56 L724.94 451.06 L729.69 451.06 Z" fill="#c3c3c3"/>
<path d="M728.18 507.88 L725.8 512.38 L730.55 512.38 Z" fill="#c3c3c3"/>
<path d="M728.15 513.89 L725.78 518.39 L730.53 518.39 Z" fill="#c3c3c3"/>
<path d="M728.39 517.9 L726.01 522.4 L730.76 522.4 Z" fill="#c3c3c3"/>
<path d="M728.73 521.11 L726.35 525.61 L731.1 525.61 Z" fill="#c3c3c3"/>
<line x1="620" y1="488.7" x2="728" y2="490.7" stroke="#c3c3c3" stroke-width="3.4" stroke-linecap="round"/>
<circle cx="620.58" cy="418.2" r="1.85" fill="#dc7093"/>
<circle cx="619.6" cy="439.04" r="1.85" fill="#dc7093"/>
<circle cx="619.29" cy="446.25" r="1.85" fill="#dc7093"/>
<circle cx="620.44" cy="454.27" r="1.85" fill="#dc7093"/>
<circle cx="620.76" cy="460.28" r="1.85" fill="#dc7093"/>
<circle cx="620.16" cy="464.29" r="1.85" fill="#dc7093"/>
<path d="M620.73 475.82 L618.36 480.32 L623.11 480.32 Z" fill="#dc7093"/>
<path d="M619.12 477.82 L616.75 482.32 L621.5 482.32 Z" fill="#dc7093"/>
<path d="M620.44 479.82 L618.07 484.32 L622.82 484.32 Z" fill="#dc7093"/>
<path d="M620.23 487.84 L617.86 492.34 L622.61 492.34 Z" fill="#dc7093"/>
<path d="M620.62 509.08 L618.24 513.58 L622.99 513.58 Z" fill="#dc7093"/>
<circle cx="727.71" cy="451.46" r="1.85" fill="#dc7093"/>
<circle cx="728.55" cy="463.49" r="1.85" fill="#dc7093"/>
<circle cx="727.54" cy="466.29" r="1.85" fill="#dc7093"/>
<circle cx="727.13" cy="474.31" r="1.85" fill="#dc7093"/>
<circle cx="728.71" cy="482.32" r="1.85" fill="#dc7093"/>
<path d="M728.32 485.84 L725.95 490.34 L730.7 490.34 Z" fill="#dc7093"/>
<path d="M728.56 493.85 L726.19 498.35 L730.94 498.35 Z" fill="#dc7093"/>
<path d="M727.3 499.86 L724.92 504.36 L729.67 504.36 Z" fill="#dc7093"/>
<path d="M727.2 503.87 L724.82 508.37 L729.57 508.37 Z" fill="#dc7093"/>
<path d="M727.15 511.09 L724.78 515.59 L729.53 515.59 Z" fill="#dc7093"/>
<line x1="620" y1="468.7" x2="728" y2="487" stroke="#dc7093" stroke-width="3.2" stroke-linecap="round"/>
<circle cx="740.59" cy="444.25" r="1.85" fill="#c3c3c3"/>
<circle cx="741.24" cy="448.26" r="1.85" fill="#c3c3c3"/>
<circle cx="740.24" cy="452.26" r="1.85" fill="#c3c3c3"/>
<circle cx="740.92" cy="466.29" r="1.85" fill="#c3c3c3"/>
<circle cx="741.74" cy="472.3" r="1.85" fill="#c3c3c3"/>
<circle cx="740.56" cy="476.31" r="1.85" fill="#c3c3c3"/>
<circle cx="740.19" cy="480.32" r="1.85" fill="#c3c3c3"/>
<circle cx="740.32" cy="484.33" r="1.85" fill="#c3c3c3"/>
<path d="M741.49 455.78 L739.11 460.28 L743.86 460.28 Z" fill="#c3c3c3"/>
<path d="M741.77 459.78 L739.39 464.28 L744.14 464.28 Z" fill="#c3c3c3"/>
<circle cx="850.58" cy="438.24" r="1.85" fill="#c3c3c3"/>
<circle cx="849.95" cy="444.25" r="1.85" fill="#c3c3c3"/>
<circle cx="849.61" cy="448.26" r="1.85" fill="#c3c3c3"/>
<circle cx="850.47" cy="452.26" r="1.85" fill="#c3c3c3"/>
<circle cx="849.37" cy="458.28" r="1.85" fill="#c3c3c3"/>
<circle cx="850.63" cy="464.29" r="1.85" fill="#c3c3c3"/>
<path d="M850.85 487.04 L848.47 491.54 L853.22 491.54 Z" fill="#c3c3c3"/>
<path d="M849.77 491.85 L847.4 496.35 L852.15 496.35 Z" fill="#c3c3c3"/>
<path d="M850.43 495.06 L848.05 499.56 L852.8 499.56 Z" fill="#c3c3c3"/>
<path d="M849.81 512.69 L847.44 517.19 L852.19 517.19 Z" fill="#c3c3c3"/>
<path d="M850.49 525.92 L848.11 530.42 L852.86 530.42 Z" fill="#c3c3c3"/>
<line x1="741" y1="462.7" x2="850" y2="472.7" stroke="#c3c3c3" stroke-width="3.4" stroke-linecap="round"/>
<circle cx="741.33" cy="415.39" r="1.85" fill="#dc7093"/>
<circle cx="740.88" cy="418.2" r="1.85" fill="#dc7093"/>
<circle cx="740.27" cy="421" r="1.85" fill="#dc7093"/>
<circle cx="741.73" cy="424.21" r="1.85" fill="#dc7093"/>
<circle cx="741.63" cy="428.22" r="1.85" fill="#dc7093"/>
<circle cx="740.6" cy="433.03" r="1.85" fill="#dc7093"/>
<circle cx="740.5" cy="438.24" r="1.85" fill="#dc7093"/>
<circle cx="741.53" cy="442.24" r="1.85" fill="#dc7093"/>
<circle cx="849.83" cy="374.11" r="1.85" fill="#dc7093"/>
<circle cx="850.24" cy="403.37" r="1.85" fill="#dc7093"/>
<circle cx="849.35" cy="407.37" r="1.85" fill="#dc7093"/>
<circle cx="850.79" cy="414.19" r="1.85" fill="#dc7093"/>
<circle cx="849.34" cy="420.2" r="1.85" fill="#dc7093"/>
<circle cx="849.29" cy="428.22" r="1.85" fill="#dc7093"/>
<circle cx="850.41" cy="433.03" r="1.85" fill="#dc7093"/>
<circle cx="849.66" cy="452.26" r="1.85" fill="#dc7093"/>
<path d="M850.65 435.74 L848.27 440.24 L853.02 440.24 Z" fill="#dc7093"/>
<path d="M849.96 457.78 L847.59 462.28 L852.34 462.28 Z" fill="#dc7093"/>
<path d="M849.63 465.8 L847.26 470.3 L852.01 470.3 Z" fill="#dc7093"/>
<line x1="741" y1="446.7" x2="850" y2="428.6" stroke="#dc7093" stroke-width="3.2" stroke-linecap="round"/>
<rect x="621" y="391.9" width="106.5" height="2.3" fill="#b85878" stroke="#333" stroke-width="0.9"/>
<rect x="742.3" y="391.9" width="106.2" height="2.3" fill="#b85878" stroke="#333" stroke-width="0.9"/>
<line x1="675" y1="385.53" x2="675" y2="392.07" stroke="#222" stroke-width="1" stroke-linecap="butt"/>
<line x1="672.17" y1="387.16" x2="677.83" y2="390.44" stroke="#222" stroke-width="1" stroke-linecap="butt"/>
<line x1="677.83" y1="387.16" x2="672.17" y2="390.44" stroke="#222" stroke-width="1" stroke-linecap="butt"/>
<line x1="796.5" y1="385.53" x2="796.5" y2="392.07" stroke="#222" stroke-width="1" stroke-linecap="butt"/>
<line x1="793.67" y1="387.16" x2="799.33" y2="390.44" stroke="#222" stroke-width="1" stroke-linecap="butt"/>
<line x1="799.33" y1="387.16" x2="793.67" y2="390.44" stroke="#222" stroke-width="1" stroke-linecap="butt"/>
<text x="866.6" y="376" font-size="11" textLength="23" lengthAdjust="spacingAndGlyphs" fill="#111" stroke="#111" stroke-width="0.3">Sex</text>
<circle cx="864.6" cy="386.7" r="2.3" fill="#000"/>
<text x="872" y="390" font-size="11" textLength="47" lengthAdjust="spacingAndGlyphs" fill="#111" stroke="#111" stroke-width="0.3">Female</text>
<path d="M864.8 396.5 L862.42 401 L867.17 401 Z" fill="#000"/>
<text x="872" y="404" font-size="11" textLength="30" lengthAdjust="spacingAndGlyphs" fill="#111" stroke="#111" stroke-width="0.3">Male</text>
<text x="1.7" y="605.5" font-size="19" textLength="16.5" lengthAdjust="spacingAndGlyphs" font-weight="bold" fill="#000" stroke="#000" stroke-width="0.3">D</text>
<rect x="68.2" y="623" width="244.8" height="221.3" fill="#fff" stroke="#2a2a2a" stroke-width="1.35"/>
<line x1="67.5" y1="623" x2="313.7" y2="623" stroke="#2a2a2a" stroke-width="1.8" stroke-linecap="butt"/>
<line x1="68.2" y1="638.8" x2="313" y2="638.8" stroke="#222" stroke-width="2" stroke-linecap="butt"/>
<line x1="189.6" y1="623" x2="189.6" y2="844.3" stroke="#1a1a1a" stroke-width="1.6" stroke-linecap="butt"/>
<text x="132.3" y="636" font-size="13.5" text-anchor="middle" textLength="29.5" lengthAdjust="spacingAndGlyphs" fill="#111" stroke="#111" stroke-width="0.3">liver</text>
<text x="249.3" y="636" font-size="13.5" text-anchor="middle" textLength="30" lengthAdjust="spacingAndGlyphs" fill="#111" stroke="#111" stroke-width="0.3">lung</text>
<text x="202" y="620.5" font-size="16" text-anchor="middle" textLength="110" lengthAdjust="spacingAndGlyphs" fill="#111" stroke="#111" stroke-width="0.3">CD4<tspan dy="-6" font-size="9">+</tspan><tspan dy="6" font-size="1">&#8203;</tspan> T-cells</text>
<line x1="65.7" y1="673.5" x2="68.2" y2="673.5" stroke="#333" stroke-width="1" stroke-linecap="butt"/>
<text x="65" y="677.7" font-size="12" text-anchor="end" textLength="15.3" lengthAdjust="spacingAndGlyphs" fill="#111" stroke="#111" stroke-width="0.3">60</text>
<line x1="65.7" y1="728" x2="68.2" y2="728" stroke="#333" stroke-width="1" stroke-linecap="butt"/>
<text x="65" y="732.2" font-size="12" text-anchor="end" textLength="15.3" lengthAdjust="spacingAndGlyphs" fill="#111" stroke="#111" stroke-width="0.3">40</text>
<line x1="65.7" y1="782" x2="68.2" y2="782" stroke="#333" stroke-width="1" stroke-linecap="butt"/>
<text x="65" y="786.2" font-size="12" text-anchor="end" textLength="15.3" lengthAdjust="spacingAndGlyphs" fill="#111" stroke="#111" stroke-width="0.3">20</text>
<line x1="65.7" y1="835.5" x2="68.2" y2="835.5" stroke="#333" stroke-width="1" stroke-linecap="butt"/>
<text x="65" y="839.7" font-size="12" text-anchor="end" textLength="7.6" lengthAdjust="spacingAndGlyphs" fill="#111" stroke="#111" stroke-width="0.3">0</text>
<line x1="74.3" y1="844.3" x2="74.3" y2="846.8" stroke="#333" stroke-width="1" stroke-linecap="butt"/>
<text x="74.3" y="858.3" font-size="13" text-anchor="middle" fill="#111" stroke="#111" stroke-width="0.3">2</text>
<line x1="184" y1="844.3" x2="184" y2="846.8" stroke="#333" stroke-width="1" stroke-linecap="butt"/>
<text x="184" y="858.3" font-size="13" text-anchor="middle" fill="#111" stroke="#111" stroke-width="0.3">7</text>
<line x1="196.7" y1="844.3" x2="196.7" y2="846.8" stroke="#333" stroke-width="1" stroke-linecap="butt"/>
<text x="196.7" y="858.3" font-size="13" text-anchor="middle" fill="#111" stroke="#111" stroke-width="0.3">2</text>
<line x1="306.8" y1="844.3" x2="306.8" y2="846.8" stroke="#333" stroke-width="1" stroke-linecap="butt"/>
<text x="306.8" y="858.3" font-size="13" text-anchor="middle" fill="#111" stroke="#111" stroke-width="0.3">7</text>
<rect x="74.3" y="641.7" width="12.5" height="6.5" fill="#c3c3c3"/>
<rect x="74.3" y="652.2" width="12.5" height="6.5" fill="#b2282d"/>
<text x="93.7" y="647.5" font-size="11" textLength="23.8" lengthAdjust="spacingAndGlyphs" fill="#111" stroke="#111" stroke-width="0.3">SGE</text>
<text x="93.7" y="657.8" font-size="11" textLength="22.6" lengthAdjust="spacingAndGlyphs" fill="#111" stroke="#111" stroke-width="0.3">SPZ</text>
<text x="0" y="0" font-size="17" text-anchor="middle" transform="translate(45 736) rotate(-90)" textLength="104" lengthAdjust="spacingAndGlyphs" fill="#111" stroke="#111" stroke-width="0.3">% of CD3<tspan dy="-6" font-size="9">+</tspan><tspan dy="6" font-size="1">&#8203;</tspan> T-cells</text>
<circle cx="73.66" cy="682.74" r="1.85" fill="#c3c3c3"/>
<circle cx="74.71" cy="695.69" r="1.85" fill="#c3c3c3"/>
<circle cx="74.07" cy="699.1" r="1.85" fill="#c3c3c3"/>
<circle cx="73.98" cy="704.22" r="1.85" fill="#c3c3c3"/>
<circle cx="74.59" cy="707.63" r="1.85" fill="#c3c3c3"/>
<path d="M73.43 687.4 L71.05 691.9 L75.8 691.9 Z" fill="#c3c3c3"/>
<circle cx="184.66" cy="697.4" r="1.85" fill="#c3c3c3"/>
<circle cx="184.73" cy="704.22" r="1.85" fill="#c3c3c3"/>
<circle cx="184.22" cy="707.63" r="1.85" fill="#c3c3c3"/>
<circle cx="183.33" cy="711.04" r="1.85" fill="#c3c3c3"/>
<circle cx="184.52" cy="714.45" r="1.85" fill="#c3c3c3"/>
<circle cx="183.46" cy="717.86" r="1.85" fill="#c3c3c3"/>
<circle cx="183.61" cy="721.26" r="1.85" fill="#c3c3c3"/>
<circle cx="184.61" cy="724.67" r="1.85" fill="#c3c3c3"/>
<circle cx="184.72" cy="729.79" r="1.85" fill="#c3c3c3"/>
<path d="M184.43 732.4 L182.06 736.9 L186.81 736.9 Z" fill="#c3c3c3"/>
<line x1="74.3" y1="704.2" x2="184" y2="712.7" stroke="#c3c3c3" stroke-width="3.4" stroke-linecap="round"/>
<circle cx="74.49" cy="693.31" r="1.85" fill="#b2282d"/>
<circle cx="74.13" cy="699.1" r="1.85" fill="#b2282d"/>
<circle cx="74.58" cy="702.51" r="1.85" fill="#b2282d"/>
<circle cx="75.12" cy="709.33" r="1.85" fill="#b2282d"/>
<circle cx="73.93" cy="714.45" r="1.85" fill="#b2282d"/>
<circle cx="74.43" cy="717.86" r="1.85" fill="#b2282d"/>
<circle cx="74.93" cy="721.26" r="1.85" fill="#b2282d"/>
<path d="M74.76 672.74 L72.39 677.24 L77.14 677.24 Z" fill="#b2282d"/>
<path d="M74.35 722.17 L71.97 726.67 L76.72 726.67 Z" fill="#b2282d"/>
<path d="M73.73 725.58 L71.35 730.08 L76.1 730.08 Z" fill="#b2282d"/>
<path d="M74.72 738.54 L72.35 743.04 L77.1 743.04 Z" fill="#b2282d"/>
<circle cx="184.02" cy="682.74" r="1.85" fill="#b2282d"/>
<circle cx="184.84" cy="728.08" r="1.85" fill="#b2282d"/>
<circle cx="183.78" cy="733.2" r="1.85" fill="#b2282d"/>
<circle cx="184.83" cy="737.29" r="1.85" fill="#b2282d"/>
<circle cx="183.54" cy="741.72" r="1.85" fill="#b2282d"/>
<circle cx="184.71" cy="746.84" r="1.85" fill="#b2282d"/>
<circle cx="183.13" cy="750.93" r="1.85" fill="#b2282d"/>
<circle cx="184.85" cy="755.36" r="1.85" fill="#b2282d"/>
<circle cx="183.9" cy="759.45" r="1.85" fill="#b2282d"/>
<circle cx="183.21" cy="763.88" r="1.85" fill="#b2282d"/>
<circle cx="183.87" cy="780.25" r="1.85" fill="#b2282d"/>
<circle cx="183.3" cy="784.34" r="1.85" fill="#b2282d"/>
<line x1="74.3" y1="712" x2="184" y2="748.5" stroke="#b2282d" stroke-width="3.4" stroke-linecap="round"/>
<circle cx="196.35" cy="678.65" r="1.85" fill="#c3c3c3"/>
<circle cx="195.97" cy="682.06" r="1.85" fill="#c3c3c3"/>
<circle cx="195.97" cy="685.47" r="1.85" fill="#c3c3c3"/>
<circle cx="196.05" cy="688.87" r="1.85" fill="#c3c3c3"/>
<circle cx="197.06" cy="692.28" r="1.85" fill="#c3c3c3"/>
<circle cx="195.89" cy="695.69" r="1.85" fill="#c3c3c3"/>
<path d="M196.31 706.83 L193.94 711.33 L198.69 711.33 Z" fill="#c3c3c3"/>
<path d="M196.51 741.61 L194.13 746.11 L198.88 746.11 Z" fill="#c3c3c3"/>
<circle cx="307.33" cy="675.24" r="1.85" fill="#c3c3c3"/>
<circle cx="305.91" cy="678.65" r="1.85" fill="#c3c3c3"/>
<circle cx="306.55" cy="681.37" r="1.85" fill="#c3c3c3"/>
<circle cx="306.48" cy="697.4" r="1.85" fill="#c3c3c3"/>
<circle cx="307.05" cy="700.81" r="1.85" fill="#c3c3c3"/>
<circle cx="306.24" cy="704.22" r="1.85" fill="#c3c3c3"/>
<circle cx="307.18" cy="707.63" r="1.85" fill="#c3c3c3"/>
<circle cx="306.89" cy="710.01" r="1.85" fill="#c3c3c3"/>
<path d="M306.85 690.47 L304.47 694.97 L309.22 694.97 Z" fill="#c3c3c3"/>
<line x1="196.7" y1="696.7" x2="306.8" y2="696.7" stroke="#c3c3c3" stroke-width="3.4" stroke-linecap="round"/>
<circle cx="196.83" cy="698.42" r="1.85" fill="#b2282d"/>
<circle cx="195.8" cy="716.83" r="1.85" fill="#b2282d"/>
<circle cx="196.33" cy="719.56" r="1.85" fill="#b2282d"/>
<circle cx="196.72" cy="722.97" r="1.85" fill="#b2282d"/>
<circle cx="196.69" cy="726.38" r="1.85" fill="#b2282d"/>
<circle cx="197.28" cy="729.79" r="1.85" fill="#b2282d"/>
<circle cx="196.26" cy="733.2" r="1.85" fill="#b2282d"/>
<circle cx="197.5" cy="737.29" r="1.85" fill="#b2282d"/>
<circle cx="306.21" cy="684.78" r="1.85" fill="#b2282d"/>
<circle cx="306.4" cy="745.13" r="1.85" fill="#b2282d"/>
<circle cx="307.27" cy="747.52" r="1.85" fill="#b2282d"/>
<circle cx="306.4" cy="750.25" r="1.85" fill="#b2282d"/>
<circle cx="306.98" cy="759.45" r="1.85" fill="#b2282d"/>
<circle cx="307.09" cy="763.88" r="1.85" fill="#b2282d"/>
<circle cx="306.51" cy="774.11" r="1.85" fill="#b2282d"/>
<circle cx="306.12" cy="777.52" r="1.85" fill="#b2282d"/>
<path d="M307.52 752.86 L305.15 757.36 L309.9 757.36 Z" fill="#b2282d"/>
<path d="M307.31 764.79 L304.93 769.29 L309.68 769.29 Z" fill="#b2282d"/>
<line x1="196.7" y1="724" x2="306.8" y2="757" stroke="#b2282d" stroke-width="3.4" stroke-linecap="round"/>
<rect x="337.3" y="623" width="245.5" height="222" fill="#fff" stroke="#2a2a2a" stroke-width="1.35"/>
<line x1="336.6" y1="623" x2="583.5" y2="623" stroke="#2a2a2a" stroke-width="1.8" stroke-linecap="butt"/>
<line x1="337.3" y1="637.7" x2="582.8" y2="637.7" stroke="#222" stroke-width="2" stroke-linecap="butt"/>
<line x1="459.3" y1="623" x2="459.3" y2="845" stroke="#1a1a1a" stroke-width="1.6" stroke-linecap="butt"/>
<text x="399.3" y="634.9" font-size="13.5" text-anchor="middle" textLength="29.5" lengthAdjust="spacingAndGlyphs" fill="#111" stroke="#111" stroke-width="0.3">liver</text>
<text x="515.05" y="634.9" font-size="13.5" text-anchor="middle" textLength="30" lengthAdjust="spacingAndGlyphs" fill="#111" stroke="#111" stroke-width="0.3">lung</text>
<text x="479" y="620.5" font-size="16" text-anchor="middle" textLength="111" lengthAdjust="spacingAndGlyphs" fill="#111" stroke="#111" stroke-width="0.3">CD8<tspan dy="-6" font-size="9">+</tspan><tspan dy="6" font-size="1">&#8203;</tspan> T-cells</text>
<line x1="334.8" y1="673.5" x2="337.3" y2="673.5" stroke="#333" stroke-width="1" stroke-linecap="butt"/>
<text x="334.1" y="677.7" font-size="12" text-anchor="end" textLength="15.3" lengthAdjust="spacingAndGlyphs" fill="#111" stroke="#111" stroke-width="0.3">60</text>
<line x1="334.8" y1="728" x2="337.3" y2="728" stroke="#333" stroke-width="1" stroke-linecap="butt"/>
<text x="334.1" y="732.2" font-size="12" text-anchor="end" textLength="15.3" lengthAdjust="spacingAndGlyphs" fill="#111" stroke="#111" stroke-width="0.3">40</text>
<line x1="334.8" y1="782" x2="337.3" y2="782" stroke="#333" stroke-width="1" stroke-linecap="butt"/>
<text x="334.1" y="786.2" font-size="12" text-anchor="end" textLength="15.3" lengthAdjust="spacingAndGlyphs" fill="#111" stroke="#111" stroke-width="0.3">20</text>
<line x1="334.8" y1="835.5" x2="337.3" y2="835.5" stroke="#333" stroke-width="1" stroke-linecap="butt"/>
<text x="334.1" y="839.7" font-size="12" text-anchor="end" textLength="7.6" lengthAdjust="spacingAndGlyphs" fill="#111" stroke="#111" stroke-width="0.3">0</text>
<line x1="343.4" y1="845" x2="343.4" y2="847.5" stroke="#333" stroke-width="1" stroke-linecap="butt"/>
<text x="343.4" y="858.3" font-size="13" text-anchor="middle" fill="#111" stroke="#111" stroke-width="0.3">2</text>
<line x1="453.2" y1="845" x2="453.2" y2="847.5" stroke="#333" stroke-width="1" stroke-linecap="butt"/>
<text x="453.2" y="858.3" font-size="13" text-anchor="middle" fill="#111" stroke="#111" stroke-width="0.3">7</text>
<line x1="466" y1="845" x2="466" y2="847.5" stroke="#333" stroke-width="1" stroke-linecap="butt"/>
<text x="466" y="858.3" font-size="13" text-anchor="middle" fill="#111" stroke="#111" stroke-width="0.3">2</text>
<line x1="576.6" y1="845" x2="576.6" y2="847.5" stroke="#333" stroke-width="1" stroke-linecap="butt"/>
<text x="576.6" y="858.3" font-size="13" text-anchor="middle" fill="#111" stroke="#111" stroke-width="0.3">7</text>
<rect x="342.4" y="641.7" width="12.5" height="6.5" fill="#c3c3c3"/>
<rect x="342.4" y="652.2" width="12.5" height="6.5" fill="#e2742d"/>
<text x="361.8" y="647.5" font-size="11" textLength="23.8" lengthAdjust="spacingAndGlyphs" fill="#111" stroke="#111" stroke-width="0.3">SGE</text>
<text x="361.8" y="657.8" font-size="11" textLength="22.6" lengthAdjust="spacingAndGlyphs" fill="#111" stroke="#111" stroke-width="0.3">SPZ</text>
<circle cx="343.37" cy="745.13" r="1.85" fill="#c3c3c3"/>
<circle cx="343.91" cy="748.54" r="1.85" fill="#c3c3c3"/>
<circle cx="343.27" cy="751.95" r="1.85" fill="#c3c3c3"/>
<circle cx="342.63" cy="768.32" r="1.85" fill="#c3c3c3"/>
<path d="M343.94 752.86 L341.57 757.36 L346.32 757.36 Z" fill="#c3c3c3"/>
<path d="M342.79 756.27 L340.41 760.77 L345.16 760.77 Z" fill="#c3c3c3"/>
<circle cx="453.64" cy="714.45" r="1.85" fill="#c3c3c3"/>
<circle cx="452.33" cy="719.56" r="1.85" fill="#c3c3c3"/>
<circle cx="452.78" cy="738.31" r="1.85" fill="#c3c3c3"/>
<circle cx="452.97" cy="743.43" r="1.85" fill="#c3c3c3"/>
<circle cx="453.79" cy="747.52" r="1.85" fill="#c3c3c3"/>
<circle cx="452.36" cy="751.95" r="1.85" fill="#c3c3c3"/>
<circle cx="453.71" cy="755.36" r="1.85" fill="#c3c3c3"/>
<circle cx="453.97" cy="758.77" r="1.85" fill="#c3c3c3"/>
<line x1="343.4" y1="749.2" x2="453.2" y2="738.3" stroke="#c3c3c3" stroke-width="3.4" stroke-linecap="round"/>
<circle cx="343.54" cy="728.08" r="1.85" fill="#e2742d"/>
<circle cx="343.22" cy="731.49" r="1.85" fill="#e2742d"/>
<circle cx="344.01" cy="738.31" r="1.85" fill="#e2742d"/>
<circle cx="343.94" cy="741.72" r="1.85" fill="#e2742d"/>
<path d="M344.3 714.67 L341.92 719.17 L346.67 719.17 Z" fill="#e2742d"/>
<path d="M343.04 718.08 L340.67 722.58 L345.42 722.58 Z" fill="#e2742d"/>
<path d="M343.15 722.17 L340.77 726.67 L345.52 726.67 Z" fill="#e2742d"/>
<path d="M342.9 760.7 L340.52 765.2 L345.27 765.2 Z" fill="#e2742d"/>
<circle cx="452.45" cy="677.96" r="1.85" fill="#e2742d"/>
<circle cx="453.39" cy="682.06" r="1.85" fill="#e2742d"/>
<circle cx="453.38" cy="690.58" r="1.85" fill="#e2742d"/>
<circle cx="453.35" cy="721.26" r="1.85" fill="#e2742d"/>
<circle cx="453.85" cy="727.4" r="1.85" fill="#e2742d"/>
<circle cx="453.14" cy="733.2" r="1.85" fill="#e2742d"/>
<circle cx="452.69" cy="740.7" r="1.85" fill="#e2742d"/>
<circle cx="452.76" cy="749.56" r="1.85" fill="#e2742d"/>
<path d="M453.26 696.6 L450.88 701.1 L455.63 701.1 Z" fill="#e2742d"/>
<path d="M452.85 700.01 L450.47 704.51 L455.22 704.51 Z" fill="#e2742d"/>
<path d="M452.72 703.42 L450.35 707.92 L455.1 707.92 Z" fill="#e2742d"/>
<path d="M453.53 706.83 L451.15 711.33 L455.9 711.33 Z" fill="#e2742d"/>
<path d="M452.76 711.95 L450.38 716.45 L455.13 716.45 Z" fill="#e2742d"/>
<line x1="343.4" y1="734.2" x2="453.2" y2="710.4" stroke="#e2742d" stroke-width="3.4" stroke-linecap="round"/>
<circle cx="465.73" cy="731.49" r="1.85" fill="#c3c3c3"/>
<circle cx="465.49" cy="734.9" r="1.85" fill="#c3c3c3"/>
<circle cx="466.14" cy="738.31" r="1.85" fill="#c3c3c3"/>
<circle cx="465.86" cy="741.72" r="1.85" fill="#c3c3c3"/>
<circle cx="465.55" cy="750.25" r="1.85" fill="#c3c3c3"/>
<path d="M465.48 756.27 L463.1 760.77 L467.85 760.77 Z" fill="#c3c3c3"/>
<path d="M466.16 760.7 L463.79 765.2 L468.54 765.2 Z" fill="#c3c3c3"/>
<path d="M465.16 788.66 L462.78 793.16 L467.53 793.16 Z" fill="#c3c3c3"/>
<circle cx="577.21" cy="716.15" r="1.85" fill="#c3c3c3"/>
<circle cx="577.21" cy="719.56" r="1.85" fill="#c3c3c3"/>
<circle cx="576.23" cy="722.97" r="1.85" fill="#c3c3c3"/>
<circle cx="575.72" cy="726.38" r="1.85" fill="#c3c3c3"/>
<circle cx="577.11" cy="729.79" r="1.85" fill="#c3c3c3"/>
<circle cx="575.96" cy="733.2" r="1.85" fill="#c3c3c3"/>
<circle cx="577.08" cy="745.13" r="1.85" fill="#c3c3c3"/>
<circle cx="575.75" cy="750.25" r="1.85" fill="#c3c3c3"/>
<circle cx="575.71" cy="756.04" r="1.85" fill="#c3c3c3"/>
<circle cx="576.56" cy="760.47" r="1.85" fill="#c3c3c3"/>
<line x1="466" y1="744.4" x2="576.6" y2="733.9" stroke="#c3c3c3" stroke-width="3.4" stroke-linecap="round"/>
<circle cx="466.42" cy="718.88" r="1.85" fill="#e2742d"/>
<circle cx="466.41" cy="722.97" r="1.85" fill="#e2742d"/>
<circle cx="466.32" cy="726.38" r="1.85" fill="#e2742d"/>
<path d="M465.23 707.51 L462.85 712.01 L467.6 712.01 Z" fill="#e2742d"/>
<path d="M465.96 711.95 L463.58 716.45 L468.33 716.45 Z" fill="#e2742d"/>
<circle cx="577.31" cy="669.44" r="1.85" fill="#e2742d"/>
<circle cx="576.93" cy="671.83" r="1.85" fill="#e2742d"/>
<circle cx="576.83" cy="675.24" r="1.85" fill="#e2742d"/>
<circle cx="576.53" cy="692.28" r="1.85" fill="#e2742d"/>
<circle cx="576.5" cy="700.81" r="1.85" fill="#e2742d"/>
<circle cx="576.35" cy="705.92" r="1.85" fill="#e2742d"/>
<circle cx="576.65" cy="711.04" r="1.85" fill="#e2742d"/>
<circle cx="577.45" cy="713.42" r="1.85" fill="#e2742d"/>
<circle cx="577.16" cy="738.99" r="1.85" fill="#e2742d"/>
<path d="M576.37 675.46 L573.99 679.96 L578.74 679.96 Z" fill="#e2742d"/>
<path d="M577.41 679.56 L575.04 684.06 L579.79 684.06 Z" fill="#e2742d"/>
<line x1="466" y1="719.6" x2="576.6" y2="688.2" stroke="#e2742d" stroke-width="3.4" stroke-linecap="round"/>
<text x="471" y="874.5" font-size="13" text-anchor="middle" textLength="186" lengthAdjust="spacingAndGlyphs" fill="#111" stroke="#111" stroke-width="0.3">days post 2<tspan dy="-5.5" font-size="9">nd</tspan><tspan dy="5.5" font-size="1">&#8203;</tspan> immunization</text>
<rect x="612.9" y="624.9" width="244.5" height="220.8" fill="#fff" stroke="#2a2a2a" stroke-width="1.35"/>
<line x1="612.2" y1="624.9" x2="858.1" y2="624.9" stroke="#2a2a2a" stroke-width="1.8" stroke-linecap="butt"/>
<line x1="612.9" y1="639.3" x2="857.4" y2="639.3" stroke="#222" stroke-width="2" stroke-linecap="butt"/>
<line x1="734.3" y1="624.9" x2="734.3" y2="845.7" stroke="#1a1a1a" stroke-width="1.6" stroke-linecap="butt"/>
<text x="676.2" y="636.5" font-size="13.5" text-anchor="middle" textLength="29.5" lengthAdjust="spacingAndGlyphs" fill="#111" stroke="#111" stroke-width="0.3">liver</text>
<text x="799.05" y="636.5" font-size="13.5" text-anchor="middle" textLength="30" lengthAdjust="spacingAndGlyphs" fill="#111" stroke="#111" stroke-width="0.3">lung</text>
<text x="752" y="620.5" font-size="16" text-anchor="middle" textLength="99" lengthAdjust="spacingAndGlyphs" fill="#111" stroke="#111" stroke-width="0.3">DN T-cells</text>
<line x1="610.4" y1="675" x2="612.9" y2="675" stroke="#333" stroke-width="1" stroke-linecap="butt"/>
<text x="609.7" y="679.2" font-size="12" text-anchor="end" textLength="15.3" lengthAdjust="spacingAndGlyphs" fill="#111" stroke="#111" stroke-width="0.3">60</text>
<line x1="610.4" y1="729.5" x2="612.9" y2="729.5" stroke="#333" stroke-width="1" stroke-linecap="butt"/>
<text x="609.7" y="733.7" font-size="12" text-anchor="end" textLength="15.3" lengthAdjust="spacingAndGlyphs" fill="#111" stroke="#111" stroke-width="0.3">40</text>
<line x1="610.4" y1="783.6" x2="612.9" y2="783.6" stroke="#333" stroke-width="1" stroke-linecap="butt"/>
<text x="609.7" y="787.8" font-size="12" text-anchor="end" textLength="15.3" lengthAdjust="spacingAndGlyphs" fill="#111" stroke="#111" stroke-width="0.3">20</text>
<line x1="610.4" y1="836.9" x2="612.9" y2="836.9" stroke="#333" stroke-width="1" stroke-linecap="butt"/>
<text x="609.7" y="841.1" font-size="12" text-anchor="end" textLength="7.6" lengthAdjust="spacingAndGlyphs" fill="#111" stroke="#111" stroke-width="0.3">0</text>
<line x1="620" y1="845.7" x2="620" y2="848.2" stroke="#333" stroke-width="1" stroke-linecap="butt"/>
<text x="620" y="860" font-size="13" text-anchor="middle" fill="#111" stroke="#111" stroke-width="0.3">2</text>
<line x1="728" y1="845.7" x2="728" y2="848.2" stroke="#333" stroke-width="1" stroke-linecap="butt"/>
<text x="728" y="860" font-size="13" text-anchor="middle" fill="#111" stroke="#111" stroke-width="0.3">7</text>
<line x1="742" y1="845.7" x2="742" y2="848.2" stroke="#333" stroke-width="1" stroke-linecap="butt"/>
<text x="742" y="860" font-size="13" text-anchor="middle" fill="#111" stroke="#111" stroke-width="0.3">2</text>
<line x1="851" y1="845.7" x2="851" y2="848.2" stroke="#333" stroke-width="1" stroke-linecap="butt"/>
<text x="851" y="860" font-size="13" text-anchor="middle" fill="#111" stroke="#111" stroke-width="0.3">7</text>
<rect x="618" y="642.3" width="12.5" height="6.5" fill="#c3c3c3"/>
<rect x="618" y="652.8" width="12.5" height="6.5" fill="#4a9d48"/>
<text x="637" y="649.3" font-size="11" textLength="23.8" lengthAdjust="spacingAndGlyphs" fill="#111" stroke="#111" stroke-width="0.3">SGE</text>
<text x="637" y="659.6" font-size="11" textLength="22.6" lengthAdjust="spacingAndGlyphs" fill="#111" stroke="#111" stroke-width="0.3">SPZ</text>
<circle cx="620.24" cy="767.56" r="1.85" fill="#c3c3c3"/>
<circle cx="620.2" cy="774.37" r="1.85" fill="#c3c3c3"/>
<circle cx="620.06" cy="782.38" r="1.85" fill="#c3c3c3"/>
<circle cx="620.16" cy="788.4" r="1.85" fill="#c3c3c3"/>
<circle cx="619.26" cy="804.43" r="1.85" fill="#c3c3c3"/>
<circle cx="619.26" cy="809.64" r="1.85" fill="#c3c3c3"/>
<circle cx="728.04" cy="778.38" r="1.85" fill="#c3c3c3"/>
<circle cx="727.46" cy="782.38" r="1.85" fill="#c3c3c3"/>
<circle cx="728.53" cy="788.4" r="1.85" fill="#c3c3c3"/>
<circle cx="727.67" cy="794.41" r="1.85" fill="#c3c3c3"/>
<circle cx="727.37" cy="798.42" r="1.85" fill="#c3c3c3"/>
<circle cx="728.37" cy="829.28" r="1.85" fill="#c3c3c3"/>
<path d="M727.41 765.06 L725.03 769.56 L729.78 769.56 Z" fill="#c3c3c3"/>
<path d="M728.21 811.95 L725.83 816.45 L730.58 816.45 Z" fill="#c3c3c3"/>
<line x1="620" y1="788" x2="728" y2="790.4" stroke="#c3c3c3" stroke-width="4" stroke-linecap="round"/>
<circle cx="619.52" cy="783.59" r="1.85" fill="#4a9d48"/>
<circle cx="619.15" cy="792.4" r="1.85" fill="#4a9d48"/>
<circle cx="619.1" cy="796.41" r="1.85" fill="#4a9d48"/>
<circle cx="619.39" cy="800.42" r="1.85" fill="#4a9d48"/>
<circle cx="620.46" cy="804.43" r="1.85" fill="#4a9d48"/>
<path d="M619.93 773.87 L617.56 778.37 L622.31 778.37 Z" fill="#4a9d48"/>
<circle cx="727.85" cy="750.32" r="1.85" fill="#4a9d48"/>
<circle cx="727.5" cy="770.36" r="1.85" fill="#4a9d48"/>
<circle cx="727.58" cy="774.37" r="1.85" fill="#4a9d48"/>
<circle cx="728.33" cy="778.38" r="1.85" fill="#4a9d48"/>
<circle cx="727.69" cy="782.38" r="1.85" fill="#4a9d48"/>
<circle cx="727.2" cy="786.39" r="1.85" fill="#4a9d48"/>
<circle cx="727.54" cy="796.41" r="1.85" fill="#4a9d48"/>
<circle cx="727.49" cy="812.44" r="1.85" fill="#4a9d48"/>
<path d="M728.13 787.9 L725.75 792.4 L730.5 792.4 Z" fill="#4a9d48"/>
<line x1="620" y1="797.2" x2="728" y2="784" stroke="#4a9d48" stroke-width="3.8" stroke-linecap="round"/>
<circle cx="742.66" cy="809.64" r="1.85" fill="#c3c3c3"/>
<circle cx="741.94" cy="812.44" r="1.85" fill="#c3c3c3"/>
<circle cx="742.08" cy="815.25" r="1.85" fill="#c3c3c3"/>
<circle cx="742.46" cy="818.46" r="1.85" fill="#c3c3c3"/>
<circle cx="851.63" cy="802.42" r="1.85" fill="#c3c3c3"/>
<circle cx="851.79" cy="808.44" r="1.85" fill="#c3c3c3"/>
<circle cx="851.11" cy="812.44" r="1.85" fill="#c3c3c3"/>
<circle cx="851.88" cy="816.45" r="1.85" fill="#c3c3c3"/>
<circle cx="851.45" cy="820.46" r="1.85" fill="#c3c3c3"/>
<circle cx="851.13" cy="824.47" r="1.85" fill="#c3c3c3"/>
<line x1="742" y1="811.6" x2="851" y2="812.4" stroke="#c3c3c3" stroke-width="4" stroke-linecap="round"/>
<circle cx="742.16" cy="789.2" r="1.85" fill="#4a9d48"/>
<circle cx="741.91" cy="791.6" r="1.85" fill="#4a9d48"/>
<circle cx="742.71" cy="794.41" r="1.85" fill="#4a9d48"/>
<circle cx="741.26" cy="797.62" r="1.85" fill="#4a9d48"/>
<circle cx="742.4" cy="801.22" r="1.85" fill="#4a9d48"/>
<circle cx="741.27" cy="804.43" r="1.85" fill="#4a9d48"/>
<circle cx="741.57" cy="819.66" r="1.85" fill="#4a9d48"/>
<circle cx="850.76" cy="754.33" r="1.85" fill="#4a9d48"/>
<circle cx="851.3" cy="780.38" r="1.85" fill="#4a9d48"/>
<circle cx="850.76" cy="784.39" r="1.85" fill="#4a9d48"/>
<circle cx="850.82" cy="792.4" r="1.85" fill="#4a9d48"/>
<circle cx="851.39" cy="796.41" r="1.85" fill="#4a9d48"/>
<circle cx="851.54" cy="800.42" r="1.85" fill="#4a9d48"/>
<circle cx="850.48" cy="818.46" r="1.85" fill="#4a9d48"/>
<path d="M851.6 803.93 L849.23 808.43 L853.98 808.43 Z" fill="#4a9d48"/>
<path d="M850.53 807.94 L848.15 812.44 L852.9 812.44 Z" fill="#4a9d48"/>
<line x1="742" y1="798" x2="851" y2="797.2" stroke="#4a9d48" stroke-width="3.8" stroke-linecap="round"/>
<rect x="621.3" y="681.4" width="106.2" height="2.4" fill="#2f6a38" stroke="#25352a" stroke-width="0.7"/>
<line x1="675" y1="674.23" x2="675" y2="680.77" stroke="#222" stroke-width="1" stroke-linecap="butt"/>
<line x1="672.17" y1="675.86" x2="677.83" y2="679.14" stroke="#222" stroke-width="1" stroke-linecap="butt"/>
<line x1="677.83" y1="675.86" x2="672.17" y2="679.14" stroke="#222" stroke-width="1" stroke-linecap="butt"/>
<text x="3" y="896.5" font-size="19" textLength="14.5" lengthAdjust="spacingAndGlyphs" font-weight="bold" fill="#000" stroke="#000" stroke-width="0.3">E</text>
<text x="0" y="0" font-size="17.5" text-anchor="middle" transform="translate(27.6 1042.5) rotate(-90)" textLength="118" lengthAdjust="spacingAndGlyphs" fill="#111" stroke="#111" stroke-width="0.3">% of CD8<tspan dy="-6" font-size="10">+</tspan><tspan dy="6" font-size="1">&#8203;</tspan> T-cells</text>
<text x="0" y="0" font-size="17" text-anchor="middle" transform="translate(49 1043) rotate(-90)" textLength="222" lengthAdjust="spacingAndGlyphs" fill="#111" stroke="#111" stroke-width="0.3">7 days post 2<tspan dy="-6" font-size="11">nd</tspan><tspan dy="6" font-size="1">&#8203;</tspan> immunization</text>
<rect x="70.8" y="889.6" width="156.6" height="282.8" fill="#fff" stroke="#333" stroke-width="1.3"/>
<line x1="70.8" y1="906.4" x2="227.4" y2="906.4" stroke="#333" stroke-width="1.3" stroke-linecap="butt"/>
<text x="149.6" y="903" font-size="15" text-anchor="middle" textLength="30.5" lengthAdjust="spacingAndGlyphs" fill="#111" stroke="#111" stroke-width="0.3">liver</text>
<rect x="232.2" y="889.6" width="156.4" height="282.8" fill="#fff" stroke="#333" stroke-width="1.3"/>
<line x1="232.2" y1="906.4" x2="388.6" y2="906.4" stroke="#333" stroke-width="1.3" stroke-linecap="butt"/>
<text x="308.4" y="903" font-size="15" text-anchor="middle" textLength="31" lengthAdjust="spacingAndGlyphs" fill="#111" stroke="#111" stroke-width="0.3">lung</text>
<line x1="67.2" y1="980" x2="70.5" y2="980" stroke="#333" stroke-width="1" stroke-linecap="butt"/>
<text x="66.7" y="984.14" font-size="11.5" text-anchor="end" textLength="12.5" lengthAdjust="spacingAndGlyphs" fill="#111" stroke="#111" stroke-width="0.3">75</text>
<line x1="67.2" y1="1040.7" x2="70.5" y2="1040.7" stroke="#333" stroke-width="1" stroke-linecap="butt"/>
<text x="66.7" y="1044.84" font-size="11.5" text-anchor="end" textLength="12.5" lengthAdjust="spacingAndGlyphs" fill="#111" stroke="#111" stroke-width="0.3">50</text>
<line x1="67.2" y1="1101.1" x2="70.5" y2="1101.1" stroke="#333" stroke-width="1" stroke-linecap="butt"/>
<text x="66.7" y="1105.24" font-size="11.5" text-anchor="end" textLength="12.5" lengthAdjust="spacingAndGlyphs" fill="#111" stroke="#111" stroke-width="0.3">25</text>
<line x1="67.2" y1="1161.6" x2="70.5" y2="1161.6" stroke="#333" stroke-width="1" stroke-linecap="butt"/>
<text x="66.7" y="1165.74" font-size="11.5" text-anchor="end" textLength="6.2" lengthAdjust="spacingAndGlyphs" fill="#111" stroke="#111" stroke-width="0.3">0</text>
<rect x="76.9" y="1007.1" width="33.6" height="6.4" fill="#e8963a"/>
<rect x="76.9" y="1013.2" width="33.6" height="149.1" fill="#f7cfa0"/>
<rect x="114.5" y="1024.8" width="33.5" height="3.4" fill="#e8963a"/>
<rect x="114.5" y="1027.9" width="33.5" height="134.4" fill="#f7cfa0"/>
<rect x="151.4" y="955.2" width="33.6" height="7.4" fill="#e8963a"/>
<rect x="151.4" y="962.3" width="33.6" height="200" fill="#f7cfa0"/>
<rect x="188.6" y="963.2" width="33.6" height="7.6" fill="#e8963a"/>
<rect x="188.6" y="970.5" width="33.6" height="191.8" fill="#f7cfa0"/>
<rect x="237.4" y="1080.5" width="33.6" height="2.3" fill="#e8963a"/>
<rect x="237.4" y="1082.5" width="33.6" height="79.8" fill="#f7cfa0"/>
<rect x="275" y="1078.1" width="33.6" height="2.2" fill="#e8963a"/>
<rect x="275" y="1080" width="33.6" height="82.3" fill="#f7cfa0"/>
<rect x="312.5" y="1001.1" width="33.6" height="12.5" fill="#e8963a"/>
<rect x="312.5" y="1013.3" width="33.6" height="149" fill="#f7cfa0"/>
<rect x="350.1" y="963.8" width="33.6" height="10.4" fill="#e8963a"/>
<rect x="350.1" y="973.9" width="33.6" height="188.4" fill="#f7cfa0"/>
<line x1="93.7" y1="1006" x2="93.7" y2="1019.3" stroke="#000" stroke-width="1.9" stroke-linecap="butt"/>
<line x1="90" y1="1006" x2="97.4" y2="1006" stroke="#000" stroke-width="1.9" stroke-linecap="butt"/>
<line x1="90" y1="1019.3" x2="97.4" y2="1019.3" stroke="#000" stroke-width="1.9" stroke-linecap="butt"/>
<rect x="90" y="1004.8" width="7.4" height="4.2" fill="#000"/>
<line x1="130.6" y1="1017.8" x2="130.6" y2="1037.7" stroke="#000" stroke-width="1.9" stroke-linecap="butt"/>
<line x1="126.9" y1="1017.8" x2="134.3" y2="1017.8" stroke="#000" stroke-width="1.9" stroke-linecap="butt"/>
<line x1="126.9" y1="1037.7" x2="134.3" y2="1037.7" stroke="#000" stroke-width="1.9" stroke-linecap="butt"/>
<line x1="130.6" y1="1023.5" x2="130.6" y2="1027.5" stroke="#000" stroke-width="1.9" stroke-linecap="butt"/>
<line x1="128.1" y1="1023.5" x2="133.1" y2="1023.5" stroke="#000" stroke-width="1.9" stroke-linecap="butt"/>
<line x1="128.1" y1="1027.5" x2="133.1" y2="1027.5" stroke="#000" stroke-width="1.9" stroke-linecap="butt"/>
<line x1="167.9" y1="953.1" x2="167.9" y2="968.4" stroke="#000" stroke-width="1.9" stroke-linecap="butt"/>
<line x1="164.2" y1="953.1" x2="171.6" y2="953.1" stroke="#000" stroke-width="1.9" stroke-linecap="butt"/>
<line x1="164.2" y1="968.4" x2="171.6" y2="968.4" stroke="#000" stroke-width="1.9" stroke-linecap="butt"/>
<line x1="167.9" y1="955.5" x2="167.9" y2="958.5" stroke="#000" stroke-width="1.9" stroke-linecap="butt"/>
<line x1="165.4" y1="955.5" x2="170.4" y2="955.5" stroke="#000" stroke-width="1.9" stroke-linecap="butt"/>
<line x1="165.4" y1="958.5" x2="170.4" y2="958.5" stroke="#000" stroke-width="1.9" stroke-linecap="butt"/>
<rect x="165.4" y="955.5" width="5" height="3" fill="#000"/>
<line x1="205.7" y1="961.3" x2="205.7" y2="975.4" stroke="#000" stroke-width="1.9" stroke-linecap="butt"/>
<line x1="202" y1="961.3" x2="209.4" y2="961.3" stroke="#000" stroke-width="1.9" stroke-linecap="butt"/>
<line x1="202" y1="975.4" x2="209.4" y2="975.4" stroke="#000" stroke-width="1.9" stroke-linecap="butt"/>
<line x1="205.7" y1="964.5" x2="205.7" y2="967.5" stroke="#000" stroke-width="1.9" stroke-linecap="butt"/>
<line x1="203.2" y1="964.5" x2="208.2" y2="964.5" stroke="#000" stroke-width="1.9" stroke-linecap="butt"/>
<line x1="203.2" y1="967.5" x2="208.2" y2="967.5" stroke="#000" stroke-width="1.9" stroke-linecap="butt"/>
<line x1="254.2" y1="1077.5" x2="254.2" y2="1088.2" stroke="#000" stroke-width="1.9" stroke-linecap="butt"/>
<line x1="250.5" y1="1077.5" x2="257.9" y2="1077.5" stroke="#000" stroke-width="1.9" stroke-linecap="butt"/>
<line x1="250.5" y1="1088.2" x2="257.9" y2="1088.2" stroke="#000" stroke-width="1.9" stroke-linecap="butt"/>
<rect x="250.5" y="1077" width="7.4" height="4.5" fill="#000"/>
<line x1="291.8" y1="1071.7" x2="291.8" y2="1089.1" stroke="#000" stroke-width="1.9" stroke-linecap="butt"/>
<line x1="288.1" y1="1071.7" x2="295.5" y2="1071.7" stroke="#000" stroke-width="1.9" stroke-linecap="butt"/>
<line x1="288.1" y1="1089.1" x2="295.5" y2="1089.1" stroke="#000" stroke-width="1.9" stroke-linecap="butt"/>
<line x1="291.8" y1="1077" x2="291.8" y2="1080" stroke="#000" stroke-width="1.9" stroke-linecap="butt"/>
<line x1="289.3" y1="1077" x2="294.3" y2="1077" stroke="#000" stroke-width="1.9" stroke-linecap="butt"/>
<line x1="289.3" y1="1080" x2="294.3" y2="1080" stroke="#000" stroke-width="1.9" stroke-linecap="butt"/>
<rect x="289.3" y="1077" width="5" height="3" fill="#000"/>
<line x1="329" y1="998" x2="329" y2="1025" stroke="#000" stroke-width="1.9" stroke-linecap="butt"/>
<line x1="325.3" y1="998" x2="332.7" y2="998" stroke="#000" stroke-width="1.9" stroke-linecap="butt"/>
<line x1="325.3" y1="1025" x2="332.7" y2="1025" stroke="#000" stroke-width="1.9" stroke-linecap="butt"/>
<line x1="329" y1="1000.5" x2="329" y2="1003.5" stroke="#000" stroke-width="1.9" stroke-linecap="butt"/>
<line x1="326" y1="1000.5" x2="332" y2="1000.5" stroke="#000" stroke-width="1.9" stroke-linecap="butt"/>
<line x1="326" y1="1003.5" x2="332" y2="1003.5" stroke="#000" stroke-width="1.9" stroke-linecap="butt"/>
<line x1="366.9" y1="960.8" x2="366.9" y2="977.9" stroke="#000" stroke-width="1.9" stroke-linecap="butt"/>
<line x1="363.2" y1="960.8" x2="370.6" y2="960.8" stroke="#000" stroke-width="1.9" stroke-linecap="butt"/>
<line x1="363.2" y1="977.9" x2="370.6" y2="977.9" stroke="#000" stroke-width="1.9" stroke-linecap="butt"/>
<line x1="366.9" y1="965.5" x2="366.9" y2="969.5" stroke="#000" stroke-width="1.9" stroke-linecap="butt"/>
<line x1="363.9" y1="965.5" x2="369.9" y2="965.5" stroke="#000" stroke-width="1.9" stroke-linecap="butt"/>
<line x1="363.9" y1="969.5" x2="369.9" y2="969.5" stroke="#000" stroke-width="1.9" stroke-linecap="butt"/>
<rect x="96.8" y="914.55" width="110.8" height="2.7" fill="#c49d76" stroke="#333" stroke-width="0.9" rx="0.9"/>
<line x1="149.75" y1="907.73" x2="149.75" y2="914.27" stroke="#222" stroke-width="1" stroke-linecap="butt"/>
<line x1="146.92" y1="909.36" x2="152.58" y2="912.64" stroke="#222" stroke-width="1" stroke-linecap="butt"/>
<line x1="152.58" y1="909.36" x2="146.92" y2="912.64" stroke="#222" stroke-width="1" stroke-linecap="butt"/>
<line x1="158.25" y1="907.73" x2="158.25" y2="914.27" stroke="#222" stroke-width="1" stroke-linecap="butt"/>
<line x1="155.42" y1="909.36" x2="161.08" y2="912.64" stroke="#222" stroke-width="1" stroke-linecap="butt"/>
<line x1="161.08" y1="909.36" x2="155.42" y2="912.64" stroke="#222" stroke-width="1" stroke-linecap="butt"/>
<rect x="131.6" y="924.85" width="76" height="2.7" fill="#c49d76" stroke="#333" stroke-width="0.9" rx="0.9"/>
<line x1="155.25" y1="918.73" x2="155.25" y2="925.27" stroke="#222" stroke-width="1" stroke-linecap="butt"/>
<line x1="152.42" y1="920.36" x2="158.08" y2="923.64" stroke="#222" stroke-width="1" stroke-linecap="butt"/>
<line x1="158.08" y1="920.36" x2="152.42" y2="923.64" stroke="#222" stroke-width="1" stroke-linecap="butt"/>
<line x1="163.75" y1="918.73" x2="163.75" y2="925.27" stroke="#222" stroke-width="1" stroke-linecap="butt"/>
<line x1="160.92" y1="920.36" x2="166.58" y2="923.64" stroke="#222" stroke-width="1" stroke-linecap="butt"/>
<line x1="166.58" y1="920.36" x2="160.92" y2="923.64" stroke="#222" stroke-width="1" stroke-linecap="butt"/>
<line x1="172.25" y1="918.73" x2="172.25" y2="925.27" stroke="#222" stroke-width="1" stroke-linecap="butt"/>
<line x1="169.42" y1="920.36" x2="175.08" y2="923.64" stroke="#222" stroke-width="1" stroke-linecap="butt"/>
<line x1="175.08" y1="920.36" x2="169.42" y2="923.64" stroke="#222" stroke-width="1" stroke-linecap="butt"/>
<line x1="180.75" y1="918.73" x2="180.75" y2="925.27" stroke="#222" stroke-width="1" stroke-linecap="butt"/>
<line x1="177.92" y1="920.36" x2="183.58" y2="923.64" stroke="#222" stroke-width="1" stroke-linecap="butt"/>
<line x1="183.58" y1="920.36" x2="177.92" y2="923.64" stroke="#222" stroke-width="1" stroke-linecap="butt"/>
<rect x="93.7" y="935.55" width="75.7" height="2.7" fill="#c49d76" stroke="#333" stroke-width="0.9" rx="0.9"/>
<line x1="128.55" y1="928.73" x2="128.55" y2="935.27" stroke="#222" stroke-width="1" stroke-linecap="butt"/>
<line x1="125.72" y1="930.36" x2="131.38" y2="933.64" stroke="#222" stroke-width="1" stroke-linecap="butt"/>
<line x1="131.38" y1="930.36" x2="125.72" y2="933.64" stroke="#222" stroke-width="1" stroke-linecap="butt"/>
<line x1="137.05" y1="928.73" x2="137.05" y2="935.27" stroke="#222" stroke-width="1" stroke-linecap="butt"/>
<line x1="134.22" y1="930.36" x2="139.88" y2="933.64" stroke="#222" stroke-width="1" stroke-linecap="butt"/>
<line x1="139.88" y1="930.36" x2="134.22" y2="933.64" stroke="#222" stroke-width="1" stroke-linecap="butt"/>
<rect x="131.6" y="947.15" width="37.8" height="2.7" fill="#c49d76" stroke="#333" stroke-width="0.9" rx="0.9"/>
<line x1="141.5" y1="940.23" x2="141.5" y2="946.77" stroke="#222" stroke-width="1" stroke-linecap="butt"/>
<line x1="138.67" y1="941.86" x2="144.33" y2="945.14" stroke="#222" stroke-width="1" stroke-linecap="butt"/>
<line x1="144.33" y1="941.86" x2="138.67" y2="945.14" stroke="#222" stroke-width="1" stroke-linecap="butt"/>
<line x1="150" y1="940.23" x2="150" y2="946.77" stroke="#222" stroke-width="1" stroke-linecap="butt"/>
<line x1="147.17" y1="941.86" x2="152.83" y2="945.14" stroke="#222" stroke-width="1" stroke-linecap="butt"/>
<line x1="152.83" y1="941.86" x2="147.17" y2="945.14" stroke="#222" stroke-width="1" stroke-linecap="butt"/>
<line x1="158.5" y1="940.23" x2="158.5" y2="946.77" stroke="#222" stroke-width="1" stroke-linecap="butt"/>
<line x1="155.67" y1="941.86" x2="161.33" y2="945.14" stroke="#222" stroke-width="1" stroke-linecap="butt"/>
<line x1="161.33" y1="941.86" x2="155.67" y2="945.14" stroke="#222" stroke-width="1" stroke-linecap="butt"/>
<rect x="261.2" y="914.25" width="110.6" height="2.7" fill="#c49d76" stroke="#333" stroke-width="0.9" rx="0.9"/>
<line x1="306.55" y1="907.53" x2="306.55" y2="914.07" stroke="#222" stroke-width="1" stroke-linecap="butt"/>
<line x1="303.72" y1="909.16" x2="309.38" y2="912.44" stroke="#222" stroke-width="1" stroke-linecap="butt"/>
<line x1="309.38" y1="909.16" x2="303.72" y2="912.44" stroke="#222" stroke-width="1" stroke-linecap="butt"/>
<line x1="315.05" y1="907.53" x2="315.05" y2="914.07" stroke="#222" stroke-width="1" stroke-linecap="butt"/>
<line x1="312.22" y1="909.16" x2="317.88" y2="912.44" stroke="#222" stroke-width="1" stroke-linecap="butt"/>
<line x1="317.88" y1="909.16" x2="312.22" y2="912.44" stroke="#222" stroke-width="1" stroke-linecap="butt"/>
<line x1="323.55" y1="907.53" x2="323.55" y2="914.07" stroke="#222" stroke-width="1" stroke-linecap="butt"/>
<line x1="320.72" y1="909.16" x2="326.38" y2="912.44" stroke="#222" stroke-width="1" stroke-linecap="butt"/>
<line x1="326.38" y1="909.16" x2="320.72" y2="912.44" stroke="#222" stroke-width="1" stroke-linecap="butt"/>
<line x1="332.05" y1="907.53" x2="332.05" y2="914.07" stroke="#222" stroke-width="1" stroke-linecap="butt"/>
<line x1="329.22" y1="909.16" x2="334.88" y2="912.44" stroke="#222" stroke-width="1" stroke-linecap="butt"/>
<line x1="334.88" y1="909.16" x2="329.22" y2="912.44" stroke="#222" stroke-width="1" stroke-linecap="butt"/>
<rect x="296.4" y="924.95" width="75.4" height="2.7" fill="#c49d76" stroke="#333" stroke-width="0.9" rx="0.9"/>
<line x1="323.25" y1="918.73" x2="323.25" y2="925.27" stroke="#222" stroke-width="1" stroke-linecap="butt"/>
<line x1="320.42" y1="920.36" x2="326.08" y2="923.64" stroke="#222" stroke-width="1" stroke-linecap="butt"/>
<line x1="326.08" y1="920.36" x2="320.42" y2="923.64" stroke="#222" stroke-width="1" stroke-linecap="butt"/>
<line x1="331.75" y1="918.73" x2="331.75" y2="925.27" stroke="#222" stroke-width="1" stroke-linecap="butt"/>
<line x1="328.92" y1="920.36" x2="334.58" y2="923.64" stroke="#222" stroke-width="1" stroke-linecap="butt"/>
<line x1="334.58" y1="920.36" x2="328.92" y2="923.64" stroke="#222" stroke-width="1" stroke-linecap="butt"/>
<line x1="340.25" y1="918.73" x2="340.25" y2="925.27" stroke="#222" stroke-width="1" stroke-linecap="butt"/>
<line x1="337.42" y1="920.36" x2="343.08" y2="923.64" stroke="#222" stroke-width="1" stroke-linecap="butt"/>
<line x1="343.08" y1="920.36" x2="337.42" y2="923.64" stroke="#222" stroke-width="1" stroke-linecap="butt"/>
<line x1="348.75" y1="918.73" x2="348.75" y2="925.27" stroke="#222" stroke-width="1" stroke-linecap="butt"/>
<line x1="345.92" y1="920.36" x2="351.58" y2="923.64" stroke="#222" stroke-width="1" stroke-linecap="butt"/>
<line x1="351.58" y1="920.36" x2="345.92" y2="923.64" stroke="#222" stroke-width="1" stroke-linecap="butt"/>
<rect x="257.9" y="935.35" width="76" height="2.7" fill="#c49d76" stroke="#333" stroke-width="0.9" rx="0.9"/>
<line x1="284.55" y1="928.73" x2="284.55" y2="935.27" stroke="#222" stroke-width="1" stroke-linecap="butt"/>
<line x1="281.72" y1="930.36" x2="287.38" y2="933.64" stroke="#222" stroke-width="1" stroke-linecap="butt"/>
<line x1="287.38" y1="930.36" x2="281.72" y2="933.64" stroke="#222" stroke-width="1" stroke-linecap="butt"/>
<line x1="293.05" y1="928.73" x2="293.05" y2="935.27" stroke="#222" stroke-width="1" stroke-linecap="butt"/>
<line x1="290.22" y1="930.36" x2="295.88" y2="933.64" stroke="#222" stroke-width="1" stroke-linecap="butt"/>
<line x1="295.88" y1="930.36" x2="290.22" y2="933.64" stroke="#222" stroke-width="1" stroke-linecap="butt"/>
<line x1="301.55" y1="928.73" x2="301.55" y2="935.27" stroke="#222" stroke-width="1" stroke-linecap="butt"/>
<line x1="298.72" y1="930.36" x2="304.38" y2="933.64" stroke="#222" stroke-width="1" stroke-linecap="butt"/>
<line x1="304.38" y1="930.36" x2="298.72" y2="933.64" stroke="#222" stroke-width="1" stroke-linecap="butt"/>
<line x1="310.05" y1="928.73" x2="310.05" y2="935.27" stroke="#222" stroke-width="1" stroke-linecap="butt"/>
<line x1="307.22" y1="930.36" x2="312.88" y2="933.64" stroke="#222" stroke-width="1" stroke-linecap="butt"/>
<line x1="312.88" y1="930.36" x2="307.22" y2="933.64" stroke="#222" stroke-width="1" stroke-linecap="butt"/>
<rect x="296.4" y="945.35" width="37.5" height="2.7" fill="#c49d76" stroke="#333" stroke-width="0.9" rx="0.9"/>
<line x1="302.85" y1="939.03" x2="302.85" y2="945.57" stroke="#222" stroke-width="1" stroke-linecap="butt"/>
<line x1="300.02" y1="940.66" x2="305.68" y2="943.94" stroke="#222" stroke-width="1" stroke-linecap="butt"/>
<line x1="305.68" y1="940.66" x2="300.02" y2="943.94" stroke="#222" stroke-width="1" stroke-linecap="butt"/>
<line x1="311.35" y1="939.03" x2="311.35" y2="945.57" stroke="#222" stroke-width="1" stroke-linecap="butt"/>
<line x1="308.52" y1="940.66" x2="314.18" y2="943.94" stroke="#222" stroke-width="1" stroke-linecap="butt"/>
<line x1="314.18" y1="940.66" x2="308.52" y2="943.94" stroke="#222" stroke-width="1" stroke-linecap="butt"/>
<line x1="319.85" y1="939.03" x2="319.85" y2="945.57" stroke="#222" stroke-width="1" stroke-linecap="butt"/>
<line x1="317.02" y1="940.66" x2="322.68" y2="943.94" stroke="#222" stroke-width="1" stroke-linecap="butt"/>
<line x1="322.68" y1="940.66" x2="317.02" y2="943.94" stroke="#222" stroke-width="1" stroke-linecap="butt"/>
<line x1="328.35" y1="939.03" x2="328.35" y2="945.57" stroke="#222" stroke-width="1" stroke-linecap="butt"/>
<line x1="325.52" y1="940.66" x2="331.18" y2="943.94" stroke="#222" stroke-width="1" stroke-linecap="butt"/>
<line x1="331.18" y1="940.66" x2="325.52" y2="943.94" stroke="#222" stroke-width="1" stroke-linecap="butt"/>
<rect x="296.4" y="956.2" width="71.7" height="2.4" fill="#4a3a2e" stroke="#2a2a2a" stroke-width="0.5" rx="0.8"/>
<line x1="330.6" y1="949.43" x2="330.6" y2="955.97" stroke="#222" stroke-width="1" stroke-linecap="butt"/>
<line x1="327.77" y1="951.06" x2="333.43" y2="954.34" stroke="#222" stroke-width="1" stroke-linecap="butt"/>
<line x1="333.43" y1="951.06" x2="327.77" y2="954.34" stroke="#222" stroke-width="1" stroke-linecap="butt"/>
<line x1="93.7" y1="1172.4" x2="93.7" y2="1175.4" stroke="#333" stroke-width="1" stroke-linecap="butt"/>
<text x="0" y="0" font-size="14" text-anchor="end" transform="translate(100.7 1183.3) rotate(-39)" fill="#111" stroke="#111" stroke-width="0.3">med</text>
<line x1="130.6" y1="1172.4" x2="130.6" y2="1175.4" stroke="#333" stroke-width="1" stroke-linecap="butt"/>
<text x="0" y="0" font-size="14" text-anchor="end" transform="translate(141.6 1182.9) rotate(-39)" fill="#111" stroke="#111" stroke-width="0.3">SGE</text>
<line x1="167.9" y1="1172.4" x2="167.9" y2="1175.4" stroke="#333" stroke-width="1" stroke-linecap="butt"/>
<text x="0" y="0" font-size="14" text-anchor="end" transform="translate(186.9 1182.4) rotate(-39)" fill="#111" stroke="#111" stroke-width="0.3">dead SPZ</text>
<line x1="205.7" y1="1172.4" x2="205.7" y2="1175.4" stroke="#333" stroke-width="1" stroke-linecap="butt"/>
<text x="0" y="0" font-size="14" text-anchor="end" transform="translate(216.4 1183) rotate(-39)" fill="#111" stroke="#111" stroke-width="0.3">SPZ</text>
<line x1="254.2" y1="1172.4" x2="254.2" y2="1175.4" stroke="#333" stroke-width="1" stroke-linecap="butt"/>
<text x="0" y="0" font-size="14" text-anchor="end" transform="translate(261.2 1183.3) rotate(-39)" fill="#111" stroke="#111" stroke-width="0.3">med</text>
<line x1="291.8" y1="1172.4" x2="291.8" y2="1175.4" stroke="#333" stroke-width="1" stroke-linecap="butt"/>
<text x="0" y="0" font-size="14" text-anchor="end" transform="translate(302.8 1182.9) rotate(-39)" fill="#111" stroke="#111" stroke-width="0.3">SGE</text>
<line x1="329" y1="1172.4" x2="329" y2="1175.4" stroke="#333" stroke-width="1" stroke-linecap="butt"/>
<text x="0" y="0" font-size="14" text-anchor="end" transform="translate(348 1182.4) rotate(-39)" fill="#111" stroke="#111" stroke-width="0.3">dead SPZ</text>
<line x1="366.9" y1="1172.4" x2="366.9" y2="1175.4" stroke="#333" stroke-width="1" stroke-linecap="butt"/>
<text x="0" y="0" font-size="14" text-anchor="end" transform="translate(377.6 1183) rotate(-39)" fill="#111" stroke="#111" stroke-width="0.3">SPZ</text>
<rect x="394" y="963" width="10.8" height="10" fill="#e8963a"/>
<rect x="394" y="974.5" width="10.8" height="10.1" fill="#f7cfa0"/>
<text x="407.8" y="971.7" font-size="12" textLength="57" lengthAdjust="spacingAndGlyphs" fill="#111" stroke="#111" stroke-width="0.3">Trm CD8<tspan dy="-4.5" font-size="7">+</tspan><tspan dy="4.5" font-size="1">&#8203;</tspan></text>
<text x="407.8" y="984" font-size="12" textLength="59" lengthAdjust="spacingAndGlyphs" fill="#111" stroke="#111" stroke-width="0.3">Tem CD8<tspan dy="-4.5" font-size="7">+</tspan><tspan dy="4.5" font-size="1">&#8203;</tspan></text>
<text x="459.5" y="897" font-size="19" textLength="13" lengthAdjust="spacingAndGlyphs" font-weight="bold" fill="#000" stroke="#000" stroke-width="0.3">F</text>
<text x="0" y="0" font-size="17" text-anchor="middle" transform="translate(498.5 1041.5) rotate(-90)" textLength="121" lengthAdjust="spacingAndGlyphs" fill="#111" stroke="#111" stroke-width="0.3">% of DN T-cells</text>
<text x="0" y="0" font-size="17" text-anchor="middle" transform="translate(521.5 1041) rotate(-90)" textLength="221" lengthAdjust="spacingAndGlyphs" fill="#111" stroke="#111" stroke-width="0.3">7 days post 2<tspan dy="-6" font-size="11">nd</tspan><tspan dy="6" font-size="1">&#8203;</tspan> immunization</text>
<rect x="548.3" y="889" width="153.8" height="284.5" fill="#fff" stroke="#333" stroke-width="1.3"/>
<line x1="548.3" y1="905.8" x2="702.1" y2="905.8" stroke="#333" stroke-width="1.3" stroke-linecap="butt"/>
<text x="629.8" y="902.5" font-size="15" text-anchor="middle" textLength="30.5" lengthAdjust="spacingAndGlyphs" fill="#111" stroke="#111" stroke-width="0.3">liver</text>
<rect x="705.3" y="888.6" width="155.2" height="16.6" fill="#fff" stroke="#444" stroke-width="1"/>
<rect x="705.6" y="905.2" width="154.6" height="268.6" fill="#fff" stroke="#111" stroke-width="1.9"/>
<text x="784.2" y="902.2" font-size="15" text-anchor="middle" textLength="30.3" lengthAdjust="spacingAndGlyphs" fill="#111" stroke="#111" stroke-width="0.3">lung</text>
<line x1="546" y1="955.5" x2="548.5" y2="955.5" stroke="#333" stroke-width="1" stroke-linecap="butt"/>
<text x="545.5" y="959.46" font-size="11" text-anchor="end" textLength="17" lengthAdjust="spacingAndGlyphs" fill="#111" stroke="#111" stroke-width="0.3">100</text>
<line x1="546" y1="1007.4" x2="548.5" y2="1007.4" stroke="#333" stroke-width="1" stroke-linecap="butt"/>
<text x="545.5" y="1011.36" font-size="11" text-anchor="end" textLength="11.5" lengthAdjust="spacingAndGlyphs" fill="#111" stroke="#111" stroke-width="0.3">75</text>
<line x1="546" y1="1059.3" x2="548.5" y2="1059.3" stroke="#333" stroke-width="1" stroke-linecap="butt"/>
<text x="545.5" y="1063.26" font-size="11" text-anchor="end" textLength="11.5" lengthAdjust="spacingAndGlyphs" fill="#111" stroke="#111" stroke-width="0.3">50</text>
<line x1="546" y1="1110.9" x2="548.5" y2="1110.9" stroke="#333" stroke-width="1" stroke-linecap="butt"/>
<text x="545.5" y="1114.86" font-size="11" text-anchor="end" textLength="11.5" lengthAdjust="spacingAndGlyphs" fill="#111" stroke="#111" stroke-width="0.3">25</text>
<line x1="546" y1="1162.2" x2="548.5" y2="1162.2" stroke="#333" stroke-width="1" stroke-linecap="butt"/>
<text x="545.5" y="1166.16" font-size="11" text-anchor="end" textLength="5.7" lengthAdjust="spacingAndGlyphs" fill="#111" stroke="#111" stroke-width="0.3">0</text>
<rect x="553.5" y="955.5" width="32.9" height="117.6" fill="#3c7843"/>
<rect x="553.5" y="1072.8" width="32.9" height="4.2" fill="#4a9150"/>
<rect x="553.5" y="1076.7" width="32.9" height="1.9" fill="#8ac150"/>
<rect x="553.5" y="1078.3" width="32.9" height="84.9" fill="#a8d08f"/>
<rect x="590.4" y="955.5" width="33.3" height="126.1" fill="#3c7843"/>
<rect x="590.4" y="1081.3" width="33.3" height="1.8" fill="#4a9150"/>
<rect x="590.4" y="1082.8" width="33.3" height="3.4" fill="#8ac150"/>
<rect x="590.4" y="1085.9" width="33.3" height="77.3" fill="#a8d08f"/>
<rect x="627" y="955.5" width="33.3" height="135.1" fill="#3c7843"/>
<rect x="627" y="1090.3" width="33.3" height="0.8" fill="#4a9150"/>
<rect x="627" y="1090.8" width="33.3" height="0.9" fill="#8ac150"/>
<rect x="627" y="1091.4" width="33.3" height="71.8" fill="#a8d08f"/>
<rect x="664" y="955.5" width="32.9" height="82.8" fill="#3c7843"/>
<rect x="664" y="1038" width="32.9" height="3.9" fill="#4a9150"/>
<rect x="664" y="1041.6" width="32.9" height="2.7" fill="#8ac150"/>
<rect x="664" y="1044" width="32.9" height="119.2" fill="#a8d08f"/>
<rect x="710.8" y="956.2" width="33.3" height="95.7" fill="#3c7843"/>
<rect x="710.8" y="1051.6" width="33.3" height="42.4" fill="#4a9150"/>
<rect x="710.8" y="1093.7" width="33.3" height="7.1" fill="#8ac150"/>
<rect x="710.8" y="1100.5" width="33.3" height="62.7" fill="#a8d08f"/>
<rect x="748" y="956.2" width="33" height="97.2" fill="#3c7843"/>
<rect x="748" y="1053.1" width="33" height="45.5" fill="#4a9150"/>
<rect x="748" y="1098.3" width="33" height="13.1" fill="#8ac150"/>
<rect x="748" y="1111.1" width="33" height="52.1" fill="#a8d08f"/>
<rect x="785" y="956.2" width="33" height="107.9" fill="#3c7843"/>
<rect x="785" y="1063.8" width="33" height="8.2" fill="#4a9150"/>
<rect x="785" y="1071.7" width="33" height="1.6" fill="#8ac150"/>
<rect x="785" y="1073" width="33" height="90.2" fill="#a8d08f"/>
<rect x="821.7" y="956.2" width="33" height="84.4" fill="#3c7843"/>
<rect x="821.7" y="1040.3" width="33" height="24.7" fill="#4a9150"/>
<rect x="821.7" y="1064.7" width="33" height="6.4" fill="#8ac150"/>
<rect x="821.7" y="1070.8" width="33" height="92.4" fill="#a8d08f"/>
<line x1="570.3" y1="946.4" x2="570.3" y2="964.7" stroke="#000" stroke-width="1.9" stroke-linecap="butt"/>
<line x1="566.6" y1="946.4" x2="574" y2="946.4" stroke="#000" stroke-width="1.9" stroke-linecap="butt"/>
<line x1="566.6" y1="964.7" x2="574" y2="964.7" stroke="#000" stroke-width="1.9" stroke-linecap="butt"/>
<line x1="607.2" y1="949.4" x2="607.2" y2="961.3" stroke="#000" stroke-width="1.9" stroke-linecap="butt"/>
<line x1="603.5" y1="949.4" x2="610.9" y2="949.4" stroke="#000" stroke-width="1.9" stroke-linecap="butt"/>
<line x1="603.5" y1="961.3" x2="610.9" y2="961.3" stroke="#000" stroke-width="1.9" stroke-linecap="butt"/>
<line x1="643.5" y1="951" x2="643.5" y2="960.7" stroke="#000" stroke-width="1.9" stroke-linecap="butt"/>
<line x1="639.8" y1="951" x2="647.2" y2="951" stroke="#000" stroke-width="1.9" stroke-linecap="butt"/>
<line x1="639.8" y1="960.7" x2="647.2" y2="960.7" stroke="#000" stroke-width="1.9" stroke-linecap="butt"/>
<line x1="680.8" y1="950" x2="680.8" y2="960.1" stroke="#000" stroke-width="1.9" stroke-linecap="butt"/>
<line x1="677.1" y1="950" x2="684.5" y2="950" stroke="#000" stroke-width="1.9" stroke-linecap="butt"/>
<line x1="677.1" y1="960.1" x2="684.5" y2="960.1" stroke="#000" stroke-width="1.9" stroke-linecap="butt"/>
<line x1="570.3" y1="1070.6" x2="570.3" y2="1086.8" stroke="#000" stroke-width="1.9" stroke-linecap="butt"/>
<line x1="566.6" y1="1070.6" x2="574" y2="1070.6" stroke="#000" stroke-width="1.9" stroke-linecap="butt"/>
<line x1="566.6" y1="1086.8" x2="574" y2="1086.8" stroke="#000" stroke-width="1.9" stroke-linecap="butt"/>
<rect x="566.6" y="1070.6" width="7.4" height="4.4" fill="#000"/>
<line x1="570.3" y1="1077" x2="570.3" y2="1077.6" stroke="#000" stroke-width="1.9" stroke-linecap="butt"/>
<line x1="567.3" y1="1077" x2="573.3" y2="1077" stroke="#000" stroke-width="1.9" stroke-linecap="butt"/>
<line x1="567.3" y1="1077.6" x2="573.3" y2="1077.6" stroke="#000" stroke-width="1.9" stroke-linecap="butt"/>
<line x1="607.2" y1="1075.5" x2="607.2" y2="1091" stroke="#000" stroke-width="1.9" stroke-linecap="butt"/>
<line x1="603.5" y1="1075.5" x2="610.9" y2="1075.5" stroke="#000" stroke-width="1.9" stroke-linecap="butt"/>
<line x1="603.5" y1="1091" x2="610.9" y2="1091" stroke="#000" stroke-width="1.9" stroke-linecap="butt"/>
<line x1="607.2" y1="1079" x2="607.2" y2="1087" stroke="#000" stroke-width="1.9" stroke-linecap="butt"/>
<line x1="604.2" y1="1079" x2="610.2" y2="1079" stroke="#000" stroke-width="1.9" stroke-linecap="butt"/>
<line x1="604.2" y1="1087" x2="610.2" y2="1087" stroke="#000" stroke-width="1.9" stroke-linecap="butt"/>
<line x1="607.2" y1="1083" x2="607.2" y2="1083.6" stroke="#000" stroke-width="1.9" stroke-linecap="butt"/>
<line x1="604.2" y1="1083" x2="610.2" y2="1083" stroke="#000" stroke-width="1.9" stroke-linecap="butt"/>
<line x1="604.2" y1="1083.6" x2="610.2" y2="1083.6" stroke="#000" stroke-width="1.9" stroke-linecap="butt"/>
<line x1="643.5" y1="1086.5" x2="643.5" y2="1096.6" stroke="#000" stroke-width="1.9" stroke-linecap="butt"/>
<line x1="639.8" y1="1086.5" x2="647.2" y2="1086.5" stroke="#000" stroke-width="1.9" stroke-linecap="butt"/>
<line x1="639.8" y1="1096.6" x2="647.2" y2="1096.6" stroke="#000" stroke-width="1.9" stroke-linecap="butt"/>
<rect x="639.8" y="1087" width="7.4" height="5.5" fill="#000"/>
<line x1="680.8" y1="1037" x2="680.8" y2="1048.3" stroke="#000" stroke-width="1.9" stroke-linecap="butt"/>
<line x1="677.1" y1="1037" x2="684.5" y2="1037" stroke="#000" stroke-width="1.9" stroke-linecap="butt"/>
<line x1="677.1" y1="1048.3" x2="684.5" y2="1048.3" stroke="#000" stroke-width="1.9" stroke-linecap="butt"/>
<rect x="677.1" y="1037" width="7.4" height="3.5" fill="#000"/>
<line x1="680.8" y1="1043.5" x2="680.8" y2="1044.1" stroke="#000" stroke-width="1.9" stroke-linecap="butt"/>
<line x1="677.8" y1="1043.5" x2="683.8" y2="1043.5" stroke="#000" stroke-width="1.9" stroke-linecap="butt"/>
<line x1="677.8" y1="1044.1" x2="683.8" y2="1044.1" stroke="#000" stroke-width="1.9" stroke-linecap="butt"/>
<line x1="727.6" y1="950.4" x2="727.6" y2="961.4" stroke="#000" stroke-width="1.9" stroke-linecap="butt"/>
<line x1="723.9" y1="950.4" x2="731.3" y2="950.4" stroke="#000" stroke-width="1.9" stroke-linecap="butt"/>
<line x1="723.9" y1="961.4" x2="731.3" y2="961.4" stroke="#000" stroke-width="1.9" stroke-linecap="butt"/>
<line x1="764.5" y1="948" x2="764.5" y2="964.8" stroke="#000" stroke-width="1.9" stroke-linecap="butt"/>
<line x1="760.8" y1="948" x2="768.2" y2="948" stroke="#000" stroke-width="1.9" stroke-linecap="butt"/>
<line x1="760.8" y1="964.8" x2="768.2" y2="964.8" stroke="#000" stroke-width="1.9" stroke-linecap="butt"/>
<line x1="801.5" y1="953.2" x2="801.5" y2="958.4" stroke="#000" stroke-width="1.9" stroke-linecap="butt"/>
<line x1="797.8" y1="953.2" x2="805.2" y2="953.2" stroke="#000" stroke-width="1.9" stroke-linecap="butt"/>
<line x1="797.8" y1="958.4" x2="805.2" y2="958.4" stroke="#000" stroke-width="1.9" stroke-linecap="butt"/>
<line x1="838.2" y1="953.2" x2="838.2" y2="958.7" stroke="#000" stroke-width="1.9" stroke-linecap="butt"/>
<line x1="834.5" y1="953.2" x2="841.9" y2="953.2" stroke="#000" stroke-width="1.9" stroke-linecap="butt"/>
<line x1="834.5" y1="958.7" x2="841.9" y2="958.7" stroke="#000" stroke-width="1.9" stroke-linecap="butt"/>
<rect x="797.5" y="955" width="8" height="2" fill="#000"/>
<rect x="834.2" y="955" width="8" height="2.2" fill="#000"/>
<line x1="727.6" y1="1041.5" x2="727.6" y2="1062" stroke="#000" stroke-width="1.9" stroke-linecap="butt"/>
<line x1="723.9" y1="1041.5" x2="731.3" y2="1041.5" stroke="#000" stroke-width="1.9" stroke-linecap="butt"/>
<line x1="723.9" y1="1062" x2="731.3" y2="1062" stroke="#000" stroke-width="1.9" stroke-linecap="butt"/>
<line x1="764.5" y1="1048.5" x2="764.5" y2="1059.2" stroke="#000" stroke-width="1.9" stroke-linecap="butt"/>
<line x1="760.8" y1="1048.5" x2="768.2" y2="1048.5" stroke="#000" stroke-width="1.9" stroke-linecap="butt"/>
<line x1="760.8" y1="1059.2" x2="768.2" y2="1059.2" stroke="#000" stroke-width="1.9" stroke-linecap="butt"/>
<line x1="801.5" y1="1062.3" x2="801.5" y2="1067.1" stroke="#000" stroke-width="1.9" stroke-linecap="butt"/>
<line x1="797.8" y1="1062.3" x2="805.2" y2="1062.3" stroke="#000" stroke-width="1.9" stroke-linecap="butt"/>
<line x1="797.8" y1="1067.1" x2="805.2" y2="1067.1" stroke="#000" stroke-width="1.9" stroke-linecap="butt"/>
<line x1="838.2" y1="1034.8" x2="838.2" y2="1046.4" stroke="#000" stroke-width="1.9" stroke-linecap="butt"/>
<line x1="834.5" y1="1034.8" x2="841.9" y2="1034.8" stroke="#000" stroke-width="1.9" stroke-linecap="butt"/>
<line x1="834.5" y1="1046.4" x2="841.9" y2="1046.4" stroke="#000" stroke-width="1.9" stroke-linecap="butt"/>
<line x1="727.6" y1="1089.8" x2="727.6" y2="1109.6" stroke="#000" stroke-width="1.9" stroke-linecap="butt"/>
<line x1="723.9" y1="1089.8" x2="731.3" y2="1089.8" stroke="#000" stroke-width="1.9" stroke-linecap="butt"/>
<line x1="723.9" y1="1109.6" x2="731.3" y2="1109.6" stroke="#000" stroke-width="1.9" stroke-linecap="butt"/>
<rect x="723.9" y="1089.8" width="7.4" height="4.7" fill="#000"/>
<line x1="764.5" y1="1094.3" x2="764.5" y2="1128.9" stroke="#000" stroke-width="1.9" stroke-linecap="butt"/>
<line x1="760.8" y1="1094.3" x2="768.2" y2="1094.3" stroke="#000" stroke-width="1.9" stroke-linecap="butt"/>
<line x1="760.8" y1="1128.9" x2="768.2" y2="1128.9" stroke="#000" stroke-width="1.9" stroke-linecap="butt"/>
<line x1="764.5" y1="1101.5" x2="764.5" y2="1104.5" stroke="#000" stroke-width="1.9" stroke-linecap="butt"/>
<line x1="761" y1="1101.5" x2="768" y2="1101.5" stroke="#000" stroke-width="1.9" stroke-linecap="butt"/>
<line x1="761" y1="1104.5" x2="768" y2="1104.5" stroke="#000" stroke-width="1.9" stroke-linecap="butt"/>
<rect x="798" y="1070.2" width="7" height="6.1" fill="#000"/>
<line x1="838.2" y1="1064.1" x2="838.2" y2="1076.9" stroke="#000" stroke-width="1.9" stroke-linecap="butt"/>
<line x1="834.5" y1="1064.1" x2="841.9" y2="1064.1" stroke="#000" stroke-width="1.9" stroke-linecap="butt"/>
<line x1="834.5" y1="1076.9" x2="841.9" y2="1076.9" stroke="#000" stroke-width="1.9" stroke-linecap="butt"/>
<rect x="834.5" y="1064.1" width="7.4" height="3.9" fill="#000"/>
<rect x="572.7" y="914.3" width="111.1" height="2.6" fill="#2f6a38" stroke="#1f3a25" stroke-width="0.5" rx="0.87"/>
<line x1="621.7" y1="907.23" x2="621.7" y2="913.77" stroke="#222" stroke-width="1" stroke-linecap="butt"/>
<line x1="618.87" y1="908.86" x2="624.53" y2="912.14" stroke="#222" stroke-width="1" stroke-linecap="butt"/>
<line x1="624.53" y1="908.86" x2="618.87" y2="912.14" stroke="#222" stroke-width="1" stroke-linecap="butt"/>
<line x1="629.9" y1="907.23" x2="629.9" y2="913.77" stroke="#222" stroke-width="1" stroke-linecap="butt"/>
<line x1="627.07" y1="908.86" x2="632.73" y2="912.14" stroke="#222" stroke-width="1" stroke-linecap="butt"/>
<line x1="632.73" y1="908.86" x2="627.07" y2="912.14" stroke="#222" stroke-width="1" stroke-linecap="butt"/>
<rect x="607.5" y="924.6" width="76.3" height="2.6" fill="#2f6a38" stroke="#1f3a25" stroke-width="0.5" rx="0.87"/>
<line x1="636.8" y1="918.23" x2="636.8" y2="924.77" stroke="#222" stroke-width="1" stroke-linecap="butt"/>
<line x1="633.97" y1="919.86" x2="639.63" y2="923.14" stroke="#222" stroke-width="1" stroke-linecap="butt"/>
<line x1="639.63" y1="919.86" x2="633.97" y2="923.14" stroke="#222" stroke-width="1" stroke-linecap="butt"/>
<line x1="645" y1="918.23" x2="645" y2="924.77" stroke="#222" stroke-width="1" stroke-linecap="butt"/>
<line x1="642.17" y1="919.86" x2="647.83" y2="923.14" stroke="#222" stroke-width="1" stroke-linecap="butt"/>
<line x1="647.83" y1="919.86" x2="642.17" y2="923.14" stroke="#222" stroke-width="1" stroke-linecap="butt"/>
<line x1="653.2" y1="918.23" x2="653.2" y2="924.77" stroke="#222" stroke-width="1" stroke-linecap="butt"/>
<line x1="650.37" y1="919.86" x2="656.03" y2="923.14" stroke="#222" stroke-width="1" stroke-linecap="butt"/>
<line x1="656.03" y1="919.86" x2="650.37" y2="923.14" stroke="#222" stroke-width="1" stroke-linecap="butt"/>
<rect x="642.6" y="937.1" width="41.2" height="2.6" fill="#2f6a38" stroke="#1f3a25" stroke-width="0.5" rx="0.87"/>
<line x1="654.5" y1="930.03" x2="654.5" y2="936.57" stroke="#222" stroke-width="1" stroke-linecap="butt"/>
<line x1="651.67" y1="931.66" x2="657.33" y2="934.94" stroke="#222" stroke-width="1" stroke-linecap="butt"/>
<line x1="657.33" y1="931.66" x2="651.67" y2="934.94" stroke="#222" stroke-width="1" stroke-linecap="butt"/>
<line x1="662.7" y1="930.03" x2="662.7" y2="936.57" stroke="#222" stroke-width="1" stroke-linecap="butt"/>
<line x1="659.87" y1="931.66" x2="665.53" y2="934.94" stroke="#222" stroke-width="1" stroke-linecap="butt"/>
<line x1="665.53" y1="931.66" x2="659.87" y2="934.94" stroke="#222" stroke-width="1" stroke-linecap="butt"/>
<line x1="670.9" y1="930.03" x2="670.9" y2="936.57" stroke="#222" stroke-width="1" stroke-linecap="butt"/>
<line x1="668.07" y1="931.66" x2="673.73" y2="934.94" stroke="#222" stroke-width="1" stroke-linecap="butt"/>
<line x1="673.73" y1="931.66" x2="668.07" y2="934.94" stroke="#222" stroke-width="1" stroke-linecap="butt"/>
<rect x="573.3" y="993.1" width="110.2" height="3" fill="#b7c2ac" stroke="#333" stroke-width="0.7" rx="1"/>
<line x1="634.8" y1="986.43" x2="634.8" y2="992.97" stroke="#222" stroke-width="1" stroke-linecap="butt"/>
<line x1="631.97" y1="988.06" x2="637.63" y2="991.34" stroke="#222" stroke-width="1" stroke-linecap="butt"/>
<line x1="637.63" y1="988.06" x2="631.97" y2="991.34" stroke="#222" stroke-width="1" stroke-linecap="butt"/>
<line x1="643.2" y1="986.43" x2="643.2" y2="992.97" stroke="#222" stroke-width="1" stroke-linecap="butt"/>
<line x1="640.37" y1="988.06" x2="646.03" y2="991.34" stroke="#222" stroke-width="1" stroke-linecap="butt"/>
<line x1="646.03" y1="988.06" x2="640.37" y2="991.34" stroke="#222" stroke-width="1" stroke-linecap="butt"/>
<rect x="607.5" y="1003.8" width="76" height="3" fill="#b7c2ac" stroke="#333" stroke-width="0.7" rx="1"/>
<line x1="631.8" y1="997.53" x2="631.8" y2="1004.07" stroke="#222" stroke-width="1" stroke-linecap="butt"/>
<line x1="628.97" y1="999.16" x2="634.63" y2="1002.44" stroke="#222" stroke-width="1" stroke-linecap="butt"/>
<line x1="634.63" y1="999.16" x2="628.97" y2="1002.44" stroke="#222" stroke-width="1" stroke-linecap="butt"/>
<line x1="640.2" y1="997.53" x2="640.2" y2="1004.07" stroke="#222" stroke-width="1" stroke-linecap="butt"/>
<line x1="637.37" y1="999.16" x2="643.03" y2="1002.44" stroke="#222" stroke-width="1" stroke-linecap="butt"/>
<line x1="643.03" y1="999.16" x2="637.37" y2="1002.44" stroke="#222" stroke-width="1" stroke-linecap="butt"/>
<line x1="648.6" y1="997.53" x2="648.6" y2="1004.07" stroke="#222" stroke-width="1" stroke-linecap="butt"/>
<line x1="645.77" y1="999.16" x2="651.43" y2="1002.44" stroke="#222" stroke-width="1" stroke-linecap="butt"/>
<line x1="651.43" y1="999.16" x2="645.77" y2="1002.44" stroke="#222" stroke-width="1" stroke-linecap="butt"/>
<line x1="657" y1="997.53" x2="657" y2="1004.07" stroke="#222" stroke-width="1" stroke-linecap="butt"/>
<line x1="654.17" y1="999.16" x2="659.83" y2="1002.44" stroke="#222" stroke-width="1" stroke-linecap="butt"/>
<line x1="659.83" y1="999.16" x2="654.17" y2="1002.44" stroke="#222" stroke-width="1" stroke-linecap="butt"/>
<rect x="642.6" y="1016" width="40.9" height="3" fill="#b7c2ac" stroke="#333" stroke-width="0.7" rx="1"/>
<line x1="650.8" y1="1009.23" x2="650.8" y2="1015.77" stroke="#222" stroke-width="1" stroke-linecap="butt"/>
<line x1="647.97" y1="1010.86" x2="653.63" y2="1014.14" stroke="#222" stroke-width="1" stroke-linecap="butt"/>
<line x1="653.63" y1="1010.86" x2="647.97" y2="1014.14" stroke="#222" stroke-width="1" stroke-linecap="butt"/>
<line x1="659.2" y1="1009.23" x2="659.2" y2="1015.77" stroke="#222" stroke-width="1" stroke-linecap="butt"/>
<line x1="656.37" y1="1010.86" x2="662.03" y2="1014.14" stroke="#222" stroke-width="1" stroke-linecap="butt"/>
<line x1="662.03" y1="1010.86" x2="656.37" y2="1014.14" stroke="#222" stroke-width="1" stroke-linecap="butt"/>
<line x1="667.6" y1="1009.23" x2="667.6" y2="1015.77" stroke="#222" stroke-width="1" stroke-linecap="butt"/>
<line x1="664.77" y1="1010.86" x2="670.43" y2="1014.14" stroke="#222" stroke-width="1" stroke-linecap="butt"/>
<line x1="670.43" y1="1010.86" x2="664.77" y2="1014.14" stroke="#222" stroke-width="1" stroke-linecap="butt"/>
<line x1="676" y1="1009.23" x2="676" y2="1015.77" stroke="#222" stroke-width="1" stroke-linecap="butt"/>
<line x1="673.17" y1="1010.86" x2="678.83" y2="1014.14" stroke="#222" stroke-width="1" stroke-linecap="butt"/>
<line x1="678.83" y1="1010.86" x2="673.17" y2="1014.14" stroke="#222" stroke-width="1" stroke-linecap="butt"/>
<rect x="727.6" y="993.2" width="110.6" height="3" fill="#b7c2ac" stroke="#333" stroke-width="0.7" rx="1"/>
<line x1="789.3" y1="987.23" x2="789.3" y2="993.77" stroke="#222" stroke-width="1" stroke-linecap="butt"/>
<line x1="786.47" y1="988.86" x2="792.13" y2="992.14" stroke="#222" stroke-width="1" stroke-linecap="butt"/>
<line x1="792.13" y1="988.86" x2="786.47" y2="992.14" stroke="#222" stroke-width="1" stroke-linecap="butt"/>
<rect x="762.4" y="1004.2" width="75.8" height="3" fill="#b7c2ac" stroke="#333" stroke-width="0.7" rx="1"/>
<line x1="796.2" y1="997.93" x2="796.2" y2="1004.47" stroke="#222" stroke-width="1" stroke-linecap="butt"/>
<line x1="793.37" y1="999.56" x2="799.03" y2="1002.84" stroke="#222" stroke-width="1" stroke-linecap="butt"/>
<line x1="799.03" y1="999.56" x2="793.37" y2="1002.84" stroke="#222" stroke-width="1" stroke-linecap="butt"/>
<line x1="804.6" y1="997.93" x2="804.6" y2="1004.47" stroke="#222" stroke-width="1" stroke-linecap="butt"/>
<line x1="801.77" y1="999.56" x2="807.43" y2="1002.84" stroke="#222" stroke-width="1" stroke-linecap="butt"/>
<line x1="807.43" y1="999.56" x2="801.77" y2="1002.84" stroke="#222" stroke-width="1" stroke-linecap="butt"/>
<line x1="813" y1="997.93" x2="813" y2="1004.47" stroke="#222" stroke-width="1" stroke-linecap="butt"/>
<line x1="810.17" y1="999.56" x2="815.83" y2="1002.84" stroke="#222" stroke-width="1" stroke-linecap="butt"/>
<line x1="815.83" y1="999.56" x2="810.17" y2="1002.84" stroke="#222" stroke-width="1" stroke-linecap="butt"/>
<rect x="762.4" y="1016.2" width="40.6" height="3" fill="#b7c2ac" stroke="#333" stroke-width="0.7" rx="1"/>
<line x1="778" y1="1009.73" x2="778" y2="1016.27" stroke="#222" stroke-width="1" stroke-linecap="butt"/>
<line x1="775.17" y1="1011.36" x2="780.83" y2="1014.64" stroke="#222" stroke-width="1" stroke-linecap="butt"/>
<line x1="780.83" y1="1011.36" x2="775.17" y2="1014.64" stroke="#222" stroke-width="1" stroke-linecap="butt"/>
<line x1="570.3" y1="1173.5" x2="570.3" y2="1176.5" stroke="#333" stroke-width="1" stroke-linecap="butt"/>
<text x="0" y="0" font-size="14" text-anchor="end" transform="translate(577.3 1184.4) rotate(-39)" fill="#111" stroke="#111" stroke-width="0.3">med</text>
<line x1="607.2" y1="1173.5" x2="607.2" y2="1176.5" stroke="#333" stroke-width="1" stroke-linecap="butt"/>
<text x="0" y="0" font-size="14" text-anchor="end" transform="translate(618.2 1184) rotate(-39)" fill="#111" stroke="#111" stroke-width="0.3">SGE</text>
<line x1="643.5" y1="1173.5" x2="643.5" y2="1176.5" stroke="#333" stroke-width="1" stroke-linecap="butt"/>
<text x="0" y="0" font-size="14" text-anchor="end" transform="translate(662.5 1183.5) rotate(-39)" fill="#111" stroke="#111" stroke-width="0.3">dead SPZ</text>
<line x1="680.8" y1="1173.5" x2="680.8" y2="1176.5" stroke="#333" stroke-width="1" stroke-linecap="butt"/>
<text x="0" y="0" font-size="14" text-anchor="end" transform="translate(691.5 1184.1) rotate(-39)" fill="#111" stroke="#111" stroke-width="0.3">SPZ</text>
<line x1="727.6" y1="1174" x2="727.6" y2="1177" stroke="#333" stroke-width="1" stroke-linecap="butt"/>
<text x="0" y="0" font-size="14" text-anchor="end" transform="translate(736.1 1184.1) rotate(-39)" fill="#111" stroke="#111" stroke-width="0.3">med</text>
<line x1="764.5" y1="1174" x2="764.5" y2="1177" stroke="#333" stroke-width="1" stroke-linecap="butt"/>
<text x="0" y="0" font-size="14" text-anchor="end" transform="translate(778.5 1183.7) rotate(-39)" fill="#111" stroke="#111" stroke-width="0.3">SGE</text>
<line x1="801.5" y1="1174" x2="801.5" y2="1177" stroke="#333" stroke-width="1" stroke-linecap="butt"/>
<text x="0" y="0" font-size="14" text-anchor="end" transform="translate(820.5 1183.2) rotate(-39)" fill="#111" stroke="#111" stroke-width="0.3">dead SPZ</text>
<line x1="838.2" y1="1174" x2="838.2" y2="1177" stroke="#333" stroke-width="1" stroke-linecap="butt"/>
<text x="0" y="0" font-size="14" text-anchor="end" transform="translate(851.9 1183.8) rotate(-39)" fill="#111" stroke="#111" stroke-width="0.3">SPZ</text>
<rect x="868.1" y="956.2" width="11.3" height="10.8" fill="#3c7843"/>
<text x="885" y="965.8" font-size="12" textLength="26.5" lengthAdjust="spacingAndGlyphs" fill="#111" stroke="#111" stroke-width="0.3">DN1</text>
<rect x="868.1" y="967.5" width="11.3" height="10.8" fill="#4a9150"/>
<text x="885" y="977.1" font-size="12" textLength="26.5" lengthAdjust="spacingAndGlyphs" fill="#111" stroke="#111" stroke-width="0.3">DN2</text>
<rect x="868.1" y="978.8" width="11.3" height="10.8" fill="#8ac150"/>
<text x="885" y="988.4" font-size="12" textLength="26.5" lengthAdjust="spacingAndGlyphs" fill="#111" stroke="#111" stroke-width="0.3">DN3</text>
<rect x="868.1" y="990.1" width="11.3" height="10.8" fill="#a8d08f"/>
<text x="885" y="999.7" font-size="12" textLength="26.5" lengthAdjust="spacingAndGlyphs" fill="#111" stroke="#111" stroke-width="0.3">DN4</text>
</svg>
</body></html>
